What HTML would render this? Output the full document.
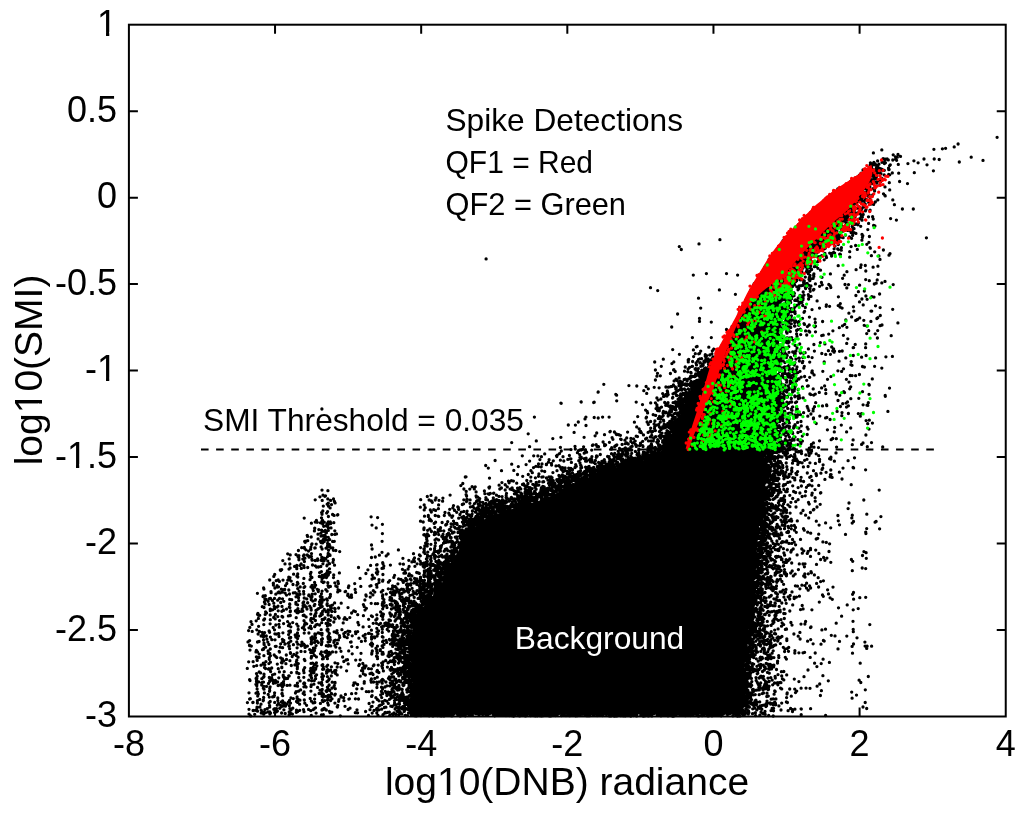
<!DOCTYPE html>
<html><head><meta charset="utf-8"><style>html,body{margin:0;padding:0;background:#fff}svg{display:block}.g{filter:grayscale(1)}</style></head>
<body><svg width="1024" height="813" viewBox="0 0 1024 813">
<rect width="1024" height="813" fill="#fff"/>
<path d="M201 449.5H934" stroke="#000" stroke-width="2" stroke-dasharray="7.6 7.51" fill="none"/>
<path fill="#000" d="M412.5,714.5L741.7,714.5L742.5,699.8L745.5,649.7L750.5,599.6L756.5,549.6L761.5,499.7L764.7,446.5L772.7,446.5L774.5,409.8L776.5,380.1L774.5,360.3L773.5,339.8L776.6,319.2L782.7,298.8L788.8,283.5L797.1,268.0L812.4,249.7L842.3,217.7L853.2,203.9L863.0,190.1L871.0,176.2L875.3,169.1L873.9,168.1L871.1,169.8L864.1,175.8L849.9,184.9L835.1,194.8L830.2,198.7L818.4,208.6L797.5,229.4L787.6,240.3L777.8,252.1L770.0,263.9L761.0,278.8L751.7,293.7L743.1,312.5L734.1,329.7L724.2,346.3L720.6,349.3L709.0,366.9L703.0,376.9L694.9,388.9L686.1,402.7L677.2,422.4L666.9,445.0L649.5,462.4L628.6,463.5L609.1,469.3L593.4,475.2L576.6,484.1L559.5,492.2L541.2,500.3L523.1,505.3L506.0,511.3L491.4,515.2L478.3,523.7L468.8,534.1L461.0,546.7L453.1,561.6L439.9,586.9L425.6,604.4L412.5,617.4Z"/>
<path fill="none" stroke="#000" stroke-width="3.3" stroke-linecap="round" d="M881.8 149.9h.01M873.4 152.9h.01M895.6 157.0h.01M897.3 157.2h.01M883.1 158.6h.01M885.1 159.7h.01M885.4 159.1h.01M888.3 159.9h.01M877.6 160.9h.01M896.6 160.3h.01M870.4 162.8h.01M873.9 162.5h.01M882.0 162.3h.01M884.3 162.5h.01M885.1 162.4h.01M885.4 162.8h.01M871.7 163.7h.01M872.3 163.8h.01M875.2 163.8h.01M872.7 164.3h.01M873.5 164.2h.01M874.3 164.8h.01M878.9 164.2h.01M870.1 165.2h.01M872.0 165.0h.01M876.2 165.1h.01M889.6 165.6h.01M877.9 167.0h.01M869.5 167.1h.01M869.5 167.1h.01M870.6 167.9h.01M871.6 167.0h.01M876.5 167.5h.01M877.6 167.5h.01M878.4 167.8h.01M871.7 168.4h.01M880.5 168.6h.01M888.5 168.1h.01M863.0 170.0h.01M864.2 169.8h.01M868.1 169.7h.01M868.1 169.1h.01M871.9 169.8h.01M876.8 169.1h.01M876.3 169.4h.01M877.2 169.5h.01M880.8 169.6h.01M882.2 169.3h.01M888.7 169.5h.01M889.1 169.5h.01M865.8 170.3h.01M869.8 170.1h.01M871.6 170.5h.01M873.0 170.1h.01M874.4 170.7h.01M874.9 170.6h.01M875.5 170.9h.01M877.9 170.2h.01M877.5 170.6h.01M882.9 170.5h.01M884.3 170.3h.01M864.3 171.3h.01M865.9 171.8h.01M869.5 171.8h.01M872.7 171.6h.01M875.3 171.1h.01M879.7 171.7h.01M868.3 172.9h.01M874.7 172.0h.01M875.2 172.2h.01M875.2 172.1h.01M876.1 173.0h.01M877.7 172.1h.01M878.1 172.9h.01M892.3 172.9h.01M861.2 173.2h.01M865.6 173.7h.01M866.4 173.1h.01M867.1 173.1h.01M867.6 173.6h.01M872.2 173.5h.01M872.4 173.6h.01M873.0 173.0h.01M874.9 173.8h.01M874.7 173.0h.01M875.7 173.1h.01M876.9 173.1h.01M880.9 173.7h.01M898.7 173.2h.01M863.4 174.2h.01M865.5 174.4h.01M866.4 174.0h.01M866.2 174.2h.01M867.6 174.4h.01M868.5 174.3h.01M871.7 174.8h.01M876.2 175.0h.01M884.2 174.9h.01M888.7 174.4h.01M889.7 174.8h.01M859.4 175.1h.01M861.6 175.1h.01M863.0 175.2h.01M863.2 175.3h.01M866.1 175.8h.01M866.7 175.1h.01M867.0 175.1h.01M868.5 175.8h.01M872.2 175.0h.01M872.7 175.1h.01M873.6 175.6h.01M875.3 175.9h.01M875.3 175.6h.01M876.3 175.4h.01M876.6 175.8h.01M876.3 175.1h.01M857.5 176.9h.01M860.2 176.6h.01M862.3 177.0h.01M864.2 176.4h.01M867.5 176.6h.01M872.8 176.2h.01M873.9 176.7h.01M875.2 176.9h.01M875.1 176.7h.01M876.8 176.0h.01M856.0 177.6h.01M856.8 177.6h.01M858.4 178.0h.01M861.1 177.0h.01M864.7 177.6h.01M868.1 177.9h.01M869.4 177.9h.01M869.8 177.2h.01M876.2 178.0h.01M856.2 178.9h.01M857.5 178.3h.01M862.3 178.2h.01M865.7 178.3h.01M868.4 178.4h.01M873.7 178.9h.01M875.3 178.3h.01M875.9 178.7h.01M881.5 178.2h.01M853.6 179.5h.01M853.4 179.4h.01M856.3 179.6h.01M861.5 180.0h.01M862.8 179.4h.01M870.8 179.6h.01M871.8 179.8h.01M882.3 179.3h.01M851.5 180.9h.01M856.9 180.3h.01M856.7 180.5h.01M856.4 180.1h.01M857.0 180.5h.01M858.4 180.8h.01M866.1 180.4h.01M868.6 180.8h.01M850.3 181.6h.01M853.3 181.4h.01M860.4 181.3h.01M862.8 181.4h.01M863.4 181.9h.01M864.9 181.6h.01M865.9 181.4h.01M869.3 181.6h.01M871.2 181.3h.01M872.9 181.1h.01M874.6 181.8h.01M850.2 182.7h.01M852.5 182.5h.01M853.2 182.9h.01M856.2 182.3h.01M858.3 182.3h.01M860.9 183.0h.01M866.5 182.7h.01M868.9 182.1h.01M875.9 182.7h.01M876.9 182.0h.01M889.3 182.7h.01M858.5 183.0h.01M859.5 183.1h.01M864.8 183.7h.01M866.2 183.2h.01M868.5 183.7h.01M870.3 184.0h.01M872.0 183.6h.01M876.8 183.2h.01M852.6 184.9h.01M854.6 184.8h.01M857.2 184.5h.01M865.5 184.6h.01M866.7 184.3h.01M867.2 184.8h.01M879.9 185.0h.01M847.8 185.2h.01M848.7 185.0h.01M850.8 185.2h.01M851.4 185.6h.01M856.6 185.6h.01M867.5 186.0h.01M867.4 185.9h.01M867.3 185.9h.01M868.9 185.9h.01M868.4 185.6h.01M845.4 186.8h.01M847.5 186.2h.01M848.0 186.0h.01M847.6 186.4h.01M850.9 186.3h.01M863.2 186.4h.01M865.8 186.6h.01M865.1 186.2h.01M868.8 186.4h.01M868.6 186.5h.01M875.2 186.5h.01M885.0 186.9h.01M842.1 187.4h.01M843.9 187.6h.01M844.0 187.1h.01M861.8 187.9h.01M869.9 187.1h.01M841.2 188.2h.01M844.9 188.2h.01M847.9 188.9h.01M850.0 188.1h.01M861.0 188.9h.01M862.8 188.6h.01M862.7 188.3h.01M865.1 188.7h.01M866.8 188.4h.01M873.1 188.6h.01M837.8 189.0h.01M838.5 189.3h.01M861.4 189.7h.01M862.7 189.3h.01M863.0 189.4h.01M866.7 189.2h.01M867.6 189.3h.01M874.5 189.2h.01M889.7 189.9h.01M843.6 191.0h.01M860.9 190.8h.01M861.9 190.7h.01M867.1 190.8h.01M837.2 191.8h.01M841.4 191.1h.01M843.5 191.8h.01M845.7 191.1h.01M845.3 191.0h.01M861.1 191.1h.01M862.1 191.3h.01M874.6 191.1h.01M837.2 192.5h.01M841.7 192.7h.01M858.9 192.0h.01M859.2 192.6h.01M861.4 192.9h.01M864.6 192.7h.01M866.3 192.4h.01M868.3 192.5h.01M837.7 193.5h.01M857.2 193.3h.01M860.0 193.6h.01M863.1 193.6h.01M865.0 193.8h.01M866.5 193.8h.01M883.5 193.8h.01M830.1 195.0h.01M835.4 194.6h.01M838.6 194.1h.01M841.9 194.5h.01M859.7 194.9h.01M865.8 195.0h.01M866.8 194.9h.01M872.7 194.8h.01M838.4 195.3h.01M858.4 196.0h.01M861.1 195.5h.01M862.6 195.0h.01M864.8 195.1h.01M868.8 195.3h.01M884.9 195.4h.01M834.0 196.7h.01M835.8 197.0h.01M836.1 196.4h.01M838.6 196.1h.01M839.6 196.8h.01M857.0 196.8h.01M868.4 196.3h.01M827.8 197.8h.01M831.2 197.6h.01M831.1 197.7h.01M832.3 197.6h.01M833.7 197.2h.01M838.6 197.8h.01M857.4 198.0h.01M864.5 197.5h.01M870.0 197.3h.01M826.9 198.2h.01M828.0 198.3h.01M828.8 198.4h.01M832.9 198.6h.01M836.5 198.4h.01M836.4 198.1h.01M856.9 198.1h.01M856.1 198.8h.01M858.0 198.7h.01M859.2 198.1h.01M859.4 198.2h.01M861.0 199.0h.01M861.7 198.9h.01M825.6 199.0h.01M827.5 200.0h.01M827.7 199.1h.01M833.7 199.5h.01M834.5 199.9h.01M852.5 199.5h.01M852.7 199.4h.01M857.4 199.4h.01M858.7 199.8h.01M866.1 199.1h.01M870.6 199.9h.01M877.8 199.9h.01M831.1 200.6h.01M852.9 200.3h.01M853.2 200.3h.01M853.5 200.7h.01M854.9 200.6h.01M857.7 200.3h.01M858.8 200.7h.01M860.9 200.1h.01M861.8 201.0h.01M861.9 200.6h.01M864.2 200.8h.01M823.8 201.9h.01M827.0 201.3h.01M828.2 201.2h.01M853.9 201.8h.01M857.3 201.7h.01M861.4 201.4h.01M864.1 201.3h.01M875.3 202.0h.01M830.6 202.7h.01M830.3 202.4h.01M851.9 202.2h.01M853.2 202.0h.01M868.7 202.4h.01M869.7 202.9h.01M824.4 203.7h.01M824.9 203.1h.01M825.8 203.1h.01M829.6 203.7h.01M831.7 203.9h.01M851.0 203.6h.01M852.9 203.6h.01M854.0 203.3h.01M825.8 204.3h.01M825.7 204.2h.01M827.2 204.9h.01M851.7 204.5h.01M852.0 204.8h.01M856.4 204.0h.01M870.7 204.2h.01M873.6 204.4h.01M818.7 205.6h.01M820.5 205.1h.01M822.4 205.6h.01M824.9 205.7h.01M827.7 206.0h.01M849.3 205.7h.01M852.1 205.8h.01M852.7 205.7h.01M853.2 205.1h.01M863.7 205.4h.01M864.1 205.9h.01M819.5 207.0h.01M827.8 206.4h.01M852.6 206.1h.01M853.8 206.7h.01M859.2 206.8h.01M864.5 206.7h.01M864.3 206.6h.01M816.0 208.0h.01M815.5 207.7h.01M823.6 207.1h.01M848.9 207.0h.01M849.1 207.3h.01M851.0 207.4h.01M850.9 207.5h.01M854.6 207.5h.01M855.2 208.0h.01M817.8 208.5h.01M821.2 208.8h.01M822.7 208.9h.01M823.9 208.2h.01M846.6 209.0h.01M849.2 208.3h.01M855.2 208.8h.01M861.2 209.0h.01M814.9 209.7h.01M818.2 209.5h.01M819.6 209.4h.01M819.4 209.2h.01M819.8 209.1h.01M824.5 209.6h.01M846.6 209.6h.01M847.8 209.5h.01M847.0 209.6h.01M848.0 209.6h.01M848.4 209.9h.01M852.4 209.6h.01M853.9 209.9h.01M854.1 209.4h.01M854.6 209.9h.01M861.4 209.6h.01M866.0 209.5h.01M812.6 210.6h.01M846.3 210.9h.01M847.3 210.9h.01M849.1 210.4h.01M851.7 211.0h.01M859.8 211.0h.01M865.4 210.9h.01M870.1 210.1h.01M816.3 211.2h.01M816.1 211.2h.01M820.2 211.5h.01M845.8 211.3h.01M846.3 211.7h.01M849.2 211.9h.01M849.9 211.9h.01M852.0 211.9h.01M869.8 211.1h.01M810.7 212.4h.01M811.4 212.7h.01M848.0 212.3h.01M849.7 212.0h.01M851.0 212.4h.01M855.1 212.8h.01M857.5 213.0h.01M812.1 213.3h.01M842.9 213.0h.01M843.8 213.9h.01M843.8 213.7h.01M844.7 213.2h.01M848.2 213.6h.01M849.2 213.4h.01M850.6 213.0h.01M852.6 213.1h.01M860.0 213.8h.01M811.3 214.8h.01M816.0 214.4h.01M818.8 214.9h.01M842.9 214.3h.01M844.9 214.1h.01M848.4 214.1h.01M849.2 214.2h.01M861.4 215.0h.01M863.2 214.5h.01M807.7 215.6h.01M811.8 215.3h.01M814.4 215.7h.01M816.2 215.7h.01M841.2 215.7h.01M842.7 215.0h.01M843.5 215.1h.01M844.5 215.6h.01M845.2 215.2h.01M847.3 215.1h.01M849.1 215.6h.01M851.9 215.8h.01M853.6 215.3h.01M806.2 216.3h.01M815.7 216.2h.01M815.3 216.7h.01M816.1 216.2h.01M840.8 216.4h.01M844.1 216.1h.01M845.9 216.9h.01M855.1 216.8h.01M861.2 216.9h.01M868.5 216.8h.01M872.6 216.7h.01M839.4 217.8h.01M840.8 217.8h.01M840.9 217.5h.01M842.0 217.1h.01M862.4 217.0h.01M808.2 218.3h.01M812.6 218.6h.01M841.0 218.3h.01M843.5 218.3h.01M844.1 218.0h.01M845.6 218.3h.01M846.6 218.9h.01M847.7 218.3h.01M851.2 218.2h.01M859.7 218.7h.01M873.2 219.0h.01M803.9 219.1h.01M804.9 219.4h.01M808.4 219.7h.01M810.0 219.7h.01M814.0 219.8h.01M840.3 219.4h.01M841.6 219.1h.01M841.8 219.8h.01M842.8 219.6h.01M847.7 220.0h.01M803.4 220.5h.01M803.2 220.2h.01M805.5 220.9h.01M806.6 220.5h.01M808.4 221.0h.01M809.6 220.1h.01M812.4 220.4h.01M837.8 220.5h.01M840.0 220.1h.01M839.4 220.9h.01M839.4 220.9h.01M840.6 220.6h.01M842.3 220.8h.01M844.7 220.4h.01M845.2 220.9h.01M851.5 220.5h.01M862.0 220.2h.01M804.7 221.8h.01M836.6 221.2h.01M838.3 221.6h.01M844.8 221.3h.01M801.2 222.5h.01M805.6 222.4h.01M833.9 222.2h.01M835.0 222.4h.01M836.2 222.3h.01M839.1 222.1h.01M839.8 222.6h.01M841.7 222.5h.01M858.4 222.9h.01M805.9 223.6h.01M834.8 223.1h.01M836.9 223.9h.01M837.0 223.1h.01M839.5 223.4h.01M846.4 223.2h.01M846.2 223.4h.01M851.2 223.0h.01M856.0 224.0h.01M868.6 223.4h.01M798.6 224.4h.01M800.6 224.4h.01M802.5 224.8h.01M802.8 224.9h.01M803.1 224.1h.01M832.5 224.4h.01M832.4 224.2h.01M833.1 224.2h.01M834.4 224.9h.01M841.3 224.6h.01M854.7 224.5h.01M857.9 224.8h.01M800.3 225.8h.01M805.6 225.7h.01M833.0 225.9h.01M835.0 225.6h.01M836.3 225.3h.01M836.8 225.1h.01M836.1 225.5h.01M838.1 225.6h.01M840.1 225.6h.01M846.1 225.3h.01M873.6 225.4h.01M805.3 226.7h.01M806.2 226.0h.01M833.5 226.6h.01M833.7 226.7h.01M836.9 226.1h.01M838.9 226.5h.01M840.5 226.6h.01M842.7 226.9h.01M844.6 226.4h.01M848.2 226.7h.01M852.2 226.5h.01M874.9 226.0h.01M796.1 227.5h.01M802.8 227.3h.01M805.2 227.2h.01M829.7 227.7h.01M834.7 227.2h.01M848.4 227.7h.01M803.2 228.9h.01M828.6 228.7h.01M831.0 228.5h.01M832.4 228.1h.01M832.2 228.4h.01M835.0 228.6h.01M841.2 228.8h.01M853.9 228.3h.01M854.0 228.7h.01M798.0 229.6h.01M799.9 229.2h.01M829.0 229.4h.01M831.5 229.6h.01M834.3 229.0h.01M835.0 229.8h.01M852.5 229.7h.01M867.8 229.6h.01M792.3 231.0h.01M796.1 231.0h.01M799.6 230.4h.01M802.4 230.9h.01M802.0 231.0h.01M827.2 230.7h.01M828.0 230.3h.01M828.5 230.3h.01M828.4 230.7h.01M829.0 230.8h.01M830.8 230.6h.01M830.4 230.0h.01M836.2 230.1h.01M836.8 230.6h.01M847.4 230.3h.01M849.3 230.7h.01M794.2 231.8h.01M795.2 231.4h.01M800.6 231.3h.01M801.6 231.6h.01M827.5 231.0h.01M829.4 232.0h.01M830.2 231.4h.01M830.1 231.9h.01M836.9 231.5h.01M840.7 232.0h.01M842.4 231.4h.01M790.4 232.5h.01M826.8 232.8h.01M829.6 232.0h.01M830.1 232.3h.01M831.8 232.6h.01M832.2 232.3h.01M833.3 232.9h.01M834.9 232.5h.01M851.2 232.7h.01M854.0 232.7h.01M791.4 233.9h.01M799.3 233.8h.01M799.2 233.4h.01M799.4 233.7h.01M823.9 233.9h.01M824.2 233.5h.01M825.7 233.4h.01M826.2 233.0h.01M827.9 233.8h.01M828.0 233.5h.01M830.5 233.5h.01M831.9 233.3h.01M832.0 233.7h.01M835.3 233.7h.01M836.3 233.1h.01M855.9 233.4h.01M823.2 234.4h.01M823.8 234.7h.01M828.9 234.7h.01M831.4 234.0h.01M833.7 234.5h.01M838.6 234.7h.01M839.4 234.7h.01M839.5 234.5h.01M862.0 234.4h.01M788.8 235.4h.01M790.3 235.8h.01M793.8 235.9h.01M797.3 235.2h.01M821.7 235.6h.01M821.2 235.2h.01M822.5 235.4h.01M826.8 235.0h.01M831.5 235.1h.01M836.9 235.9h.01M845.6 235.1h.01M852.6 235.4h.01M862.8 235.7h.01M793.1 236.1h.01M793.4 236.1h.01M795.9 236.5h.01M824.6 236.5h.01M827.2 236.5h.01M829.3 236.1h.01M830.0 236.5h.01M849.4 236.9h.01M869.4 236.5h.01M789.6 237.6h.01M790.7 237.4h.01M791.2 237.3h.01M819.7 237.7h.01M819.9 237.4h.01M821.1 237.7h.01M826.9 237.4h.01M828.6 237.8h.01M832.2 237.9h.01M835.4 237.2h.01M836.3 237.1h.01M837.2 237.5h.01M839.3 237.4h.01M841.3 237.1h.01M843.1 237.7h.01M862.4 237.4h.01M787.8 238.1h.01M790.5 238.3h.01M819.0 238.5h.01M825.8 238.4h.01M784.4 239.0h.01M789.3 239.6h.01M790.4 240.0h.01M791.2 239.7h.01M792.5 239.4h.01M793.5 239.2h.01M793.9 239.9h.01M822.3 239.3h.01M822.2 239.9h.01M825.1 239.9h.01M826.6 239.4h.01M829.8 239.8h.01M830.3 239.1h.01M838.8 239.8h.01M783.1 240.7h.01M784.4 241.0h.01M789.6 240.5h.01M792.9 240.9h.01M817.2 240.5h.01M820.1 240.9h.01M821.8 240.7h.01M823.3 240.5h.01M825.4 240.8h.01M826.0 240.8h.01M827.3 241.0h.01M835.8 240.0h.01M861.9 240.2h.01M782.8 241.4h.01M783.5 241.3h.01M784.3 241.5h.01M785.7 241.9h.01M791.9 241.4h.01M816.7 241.1h.01M817.4 241.9h.01M818.8 241.6h.01M824.6 241.2h.01M824.7 241.0h.01M824.0 241.6h.01M825.4 241.7h.01M826.7 241.3h.01M827.0 241.0h.01M827.3 241.2h.01M829.5 241.5h.01M837.7 241.1h.01M789.0 242.5h.01M788.5 242.2h.01M788.4 242.4h.01M815.5 242.5h.01M817.7 242.9h.01M818.8 242.3h.01M820.5 242.9h.01M820.8 242.8h.01M826.7 242.3h.01M788.7 243.8h.01M819.8 243.6h.01M820.0 243.3h.01M820.2 243.9h.01M821.1 243.9h.01M821.7 243.5h.01M823.9 243.1h.01M824.0 243.0h.01M825.0 243.6h.01M827.1 243.8h.01M833.5 243.5h.01M782.0 244.6h.01M789.9 244.7h.01M817.8 244.5h.01M818.4 244.9h.01M819.0 244.2h.01M820.4 244.2h.01M823.0 244.4h.01M827.0 244.0h.01M838.3 244.5h.01M866.8 244.3h.01M779.8 245.8h.01M785.1 245.8h.01M788.0 245.0h.01M788.1 245.3h.01M814.8 245.2h.01M815.1 245.8h.01M817.2 245.1h.01M818.7 246.0h.01M819.7 245.0h.01M820.6 245.9h.01M827.6 245.1h.01M780.5 246.7h.01M781.2 246.8h.01M782.5 246.8h.01M786.0 246.4h.01M787.0 246.5h.01M811.2 246.7h.01M811.1 246.3h.01M813.1 246.3h.01M815.4 246.7h.01M816.6 246.9h.01M835.0 246.1h.01M851.1 246.6h.01M783.3 247.1h.01M783.4 247.1h.01M819.5 247.9h.01M841.4 247.7h.01M782.8 248.5h.01M813.6 248.3h.01M813.9 248.8h.01M819.2 248.9h.01M823.9 248.9h.01M824.3 248.8h.01M825.2 248.3h.01M834.1 248.8h.01M837.7 248.9h.01M870.3 248.2h.01M778.5 249.7h.01M779.0 249.9h.01M810.6 249.2h.01M812.5 250.0h.01M812.9 249.1h.01M812.5 249.8h.01M813.7 249.1h.01M814.3 249.1h.01M816.3 249.5h.01M816.5 249.2h.01M838.4 249.6h.01M857.3 249.4h.01M777.3 250.7h.01M778.1 251.0h.01M778.2 250.8h.01M782.3 251.0h.01M783.7 250.3h.01M808.2 250.7h.01M811.8 251.0h.01M813.8 250.8h.01M813.2 251.0h.01M816.0 250.5h.01M841.3 250.2h.01M883.4 250.0h.01M775.2 251.9h.01M777.6 251.4h.01M780.0 251.9h.01M780.5 251.6h.01M781.3 251.6h.01M782.4 251.7h.01M811.4 251.1h.01M812.6 251.9h.01M816.2 251.0h.01M849.7 251.7h.01M874.7 251.8h.01M777.9 253.0h.01M781.6 252.0h.01M806.3 252.3h.01M806.3 253.0h.01M807.4 252.1h.01M809.5 252.0h.01M813.2 252.8h.01M814.3 252.1h.01M815.5 252.8h.01M815.5 252.4h.01M817.0 252.7h.01M833.6 252.5h.01M775.6 253.9h.01M775.9 253.7h.01M777.6 253.5h.01M780.7 253.3h.01M781.7 253.6h.01M806.9 253.3h.01M807.2 253.9h.01M809.5 253.4h.01M824.9 253.3h.01M829.7 253.1h.01M831.9 253.5h.01M834.6 253.1h.01M890.0 253.6h.01M776.7 254.9h.01M777.1 254.3h.01M781.8 254.3h.01M804.6 254.6h.01M806.2 255.0h.01M806.3 254.1h.01M807.4 254.9h.01M810.3 254.5h.01M811.8 254.6h.01M831.1 254.1h.01M839.7 254.2h.01M840.4 254.5h.01M772.7 255.9h.01M773.2 255.3h.01M805.3 255.9h.01M805.3 255.4h.01M808.0 255.7h.01M811.8 255.4h.01M815.6 255.3h.01M821.7 255.7h.01M871.4 255.7h.01M878.9 255.9h.01M889.0 255.2h.01M775.5 256.9h.01M776.9 256.0h.01M779.2 256.4h.01M805.6 256.6h.01M806.2 256.0h.01M819.1 256.6h.01M826.0 256.0h.01M831.6 256.0h.01M772.4 257.2h.01M773.4 257.5h.01M776.4 257.1h.01M803.2 257.9h.01M810.8 257.9h.01M817.8 257.0h.01M826.5 257.5h.01M849.7 257.2h.01M770.3 258.5h.01M773.9 258.4h.01M774.0 258.1h.01M775.4 258.8h.01M801.0 258.9h.01M803.9 258.1h.01M804.2 258.4h.01M804.8 258.9h.01M819.7 258.2h.01M769.4 259.1h.01M769.1 259.4h.01M771.4 259.3h.01M773.4 259.6h.01M775.7 259.9h.01M777.5 259.8h.01M801.4 259.4h.01M801.8 259.3h.01M803.4 259.0h.01M808.0 259.2h.01M809.1 259.5h.01M819.4 259.8h.01M824.2 259.8h.01M880.0 259.4h.01M768.7 261.0h.01M769.3 260.0h.01M771.1 260.3h.01M800.3 260.8h.01M805.0 260.2h.01M805.1 260.7h.01M810.5 260.5h.01M771.8 261.7h.01M798.4 261.6h.01M798.7 261.3h.01M806.1 261.7h.01M807.0 261.3h.01M810.5 261.7h.01M810.0 261.4h.01M814.4 262.0h.01M817.7 261.7h.01M774.8 262.4h.01M797.1 262.1h.01M798.0 262.5h.01M798.9 262.8h.01M798.9 262.8h.01M799.6 262.2h.01M800.2 262.4h.01M801.3 263.0h.01M806.3 262.9h.01M807.1 262.2h.01M810.8 262.4h.01M814.8 262.1h.01M774.4 263.5h.01M798.2 263.7h.01M799.8 263.2h.01M803.2 263.0h.01M803.9 263.6h.01M770.4 264.2h.01M771.6 264.9h.01M774.7 264.6h.01M796.5 264.9h.01M801.1 264.5h.01M802.7 264.5h.01M803.2 264.8h.01M861.1 264.9h.01M765.8 265.9h.01M768.8 265.7h.01M771.0 265.9h.01M800.3 265.2h.01M801.9 265.4h.01M802.7 265.7h.01M804.5 265.6h.01M804.4 265.1h.01M807.3 265.9h.01M810.7 265.7h.01M838.2 265.7h.01M865.3 265.5h.01M765.2 266.6h.01M770.1 266.1h.01M794.5 266.4h.01M796.3 266.5h.01M802.4 266.0h.01M806.0 266.9h.01M810.1 266.6h.01M814.4 266.7h.01M816.3 266.3h.01M877.9 266.2h.01M764.8 267.2h.01M767.9 267.0h.01M768.3 267.1h.01M769.2 267.5h.01M770.9 267.7h.01M794.7 267.9h.01M795.2 267.1h.01M796.1 268.0h.01M797.2 267.3h.01M799.1 267.6h.01M799.1 267.1h.01M799.2 267.5h.01M802.3 267.2h.01M809.1 267.1h.01M810.2 267.8h.01M860.6 267.4h.01M873.1 267.2h.01M767.2 268.8h.01M767.2 268.6h.01M794.1 268.1h.01M796.0 268.1h.01M797.5 268.9h.01M798.2 268.7h.01M798.4 269.0h.01M802.8 268.2h.01M807.2 269.0h.01M811.1 268.7h.01M817.9 268.3h.01M769.2 269.8h.01M771.6 269.8h.01M795.9 269.1h.01M811.6 269.5h.01M856.1 269.7h.01M763.6 270.8h.01M764.0 270.5h.01M766.3 270.1h.01M766.7 271.0h.01M767.7 270.1h.01M767.9 270.5h.01M769.1 270.4h.01M793.3 270.4h.01M794.4 270.3h.01M795.0 270.8h.01M801.8 271.0h.01M806.8 270.7h.01M807.1 271.0h.01M820.5 270.2h.01M764.7 271.3h.01M768.5 271.9h.01M793.9 271.8h.01M795.5 271.8h.01M797.0 271.5h.01M799.5 271.9h.01M800.9 271.3h.01M801.8 272.0h.01M806.9 271.0h.01M806.4 271.8h.01M809.7 271.4h.01M846.9 271.7h.01M865.8 271.0h.01M761.9 272.2h.01M763.0 272.3h.01M763.3 272.6h.01M791.8 272.0h.01M791.9 273.8h.01M793.8 273.6h.01M797.2 273.7h.01M800.5 273.5h.01M800.7 274.0h.01M808.3 273.7h.01M813.9 273.9h.01M830.4 273.9h.01M761.5 274.3h.01M766.1 274.6h.01M794.9 274.8h.01M813.6 275.0h.01M878.2 274.4h.01M761.0 275.1h.01M761.4 275.1h.01M762.5 275.3h.01M763.6 275.7h.01M765.0 275.3h.01M767.1 275.9h.01M799.2 275.7h.01M810.0 275.5h.01M844.2 275.2h.01M760.1 276.5h.01M761.1 276.9h.01M789.2 276.3h.01M790.5 276.4h.01M791.5 276.7h.01M792.4 276.9h.01M793.1 276.3h.01M800.6 276.2h.01M813.8 276.4h.01M758.4 277.0h.01M761.2 277.1h.01M766.0 277.7h.01M766.7 277.7h.01M792.0 277.4h.01M793.6 278.0h.01M795.6 277.2h.01M798.1 277.3h.01M805.3 277.1h.01M809.3 277.4h.01M822.0 277.3h.01M759.2 278.7h.01M764.1 278.0h.01M765.4 278.7h.01M788.3 278.2h.01M790.9 278.0h.01M792.8 278.5h.01M793.9 278.7h.01M809.5 278.5h.01M811.0 278.8h.01M813.1 278.4h.01M842.6 278.3h.01M758.0 279.2h.01M758.7 279.3h.01M758.0 279.4h.01M789.0 279.3h.01M791.6 279.5h.01M794.4 279.6h.01M794.5 279.1h.01M795.0 279.6h.01M795.6 279.5h.01M800.1 279.8h.01M800.8 279.8h.01M809.0 279.3h.01M865.7 279.6h.01M877.2 279.9h.01M758.0 280.1h.01M787.8 280.2h.01M792.0 280.9h.01M793.0 280.6h.01M796.7 280.2h.01M796.6 280.8h.01M803.0 280.2h.01M804.3 280.9h.01M809.8 280.7h.01M869.3 280.7h.01M788.8 281.8h.01M793.9 281.3h.01M795.6 281.8h.01M885.0 281.4h.01M758.8 282.3h.01M760.0 282.5h.01M760.5 282.2h.01M760.9 282.2h.01M787.9 282.8h.01M790.9 282.4h.01M791.5 282.7h.01M793.6 282.7h.01M803.6 282.7h.01M821.4 282.4h.01M881.8 282.9h.01M754.2 283.7h.01M755.4 283.0h.01M756.8 283.9h.01M758.4 283.4h.01M759.1 283.6h.01M759.8 283.8h.01M761.0 283.9h.01M761.5 283.1h.01M788.3 283.5h.01M790.8 283.6h.01M790.1 283.2h.01M793.9 283.2h.01M793.8 283.2h.01M793.1 283.6h.01M805.8 283.9h.01M807.2 283.4h.01M815.4 283.9h.01M874.3 284.0h.01M876.2 283.2h.01M756.9 284.1h.01M761.4 284.8h.01M792.6 284.4h.01M794.5 284.8h.01M822.2 284.8h.01M828.8 284.5h.01M845.0 284.5h.01M848.5 284.6h.01M893.2 284.6h.01M753.4 285.2h.01M754.9 286.0h.01M757.2 285.8h.01M760.7 285.5h.01M785.9 285.0h.01M787.6 285.3h.01M787.3 285.5h.01M801.2 285.7h.01M802.9 285.3h.01M808.6 285.2h.01M810.9 285.9h.01M830.2 285.7h.01M859.6 285.2h.01M756.3 286.9h.01M759.1 286.7h.01M786.0 286.1h.01M786.2 286.3h.01M788.8 286.3h.01M790.7 287.0h.01M792.5 286.5h.01M796.8 286.8h.01M799.2 286.0h.01M806.5 286.8h.01M819.6 286.3h.01M755.8 287.6h.01M757.8 287.0h.01M760.8 287.6h.01M786.0 287.5h.01M785.0 287.4h.01M786.6 287.9h.01M786.3 287.7h.01M788.1 287.9h.01M788.0 287.8h.01M790.6 287.7h.01M805.4 287.7h.01M830.8 287.5h.01M846.8 287.9h.01M754.3 288.3h.01M798.8 288.5h.01M805.6 288.5h.01M809.6 288.6h.01M810.0 288.6h.01M826.8 288.4h.01M753.7 289.8h.01M755.1 289.7h.01M758.8 289.4h.01M787.8 289.3h.01M788.2 289.8h.01M798.0 289.8h.01M813.9 289.3h.01M813.3 290.0h.01M750.8 290.0h.01M753.7 290.6h.01M784.2 290.0h.01M789.9 290.5h.01M790.9 290.1h.01M751.5 291.3h.01M755.8 291.2h.01M756.1 291.1h.01M758.8 291.4h.01M783.4 291.5h.01M789.1 291.8h.01M791.0 291.1h.01M803.2 292.0h.01M810.2 291.3h.01M858.4 291.7h.01M864.3 291.1h.01M749.6 293.0h.01M751.5 292.6h.01M785.4 292.5h.01M786.9 292.4h.01M793.8 292.7h.01M750.2 293.3h.01M783.9 293.4h.01M789.5 293.7h.01M791.4 293.5h.01M791.2 293.7h.01M791.6 293.3h.01M794.4 293.3h.01M879.6 294.0h.01M749.1 294.4h.01M753.7 294.1h.01M783.2 294.1h.01M783.8 294.3h.01M788.2 294.4h.01M793.5 294.9h.01M808.3 294.6h.01M752.8 295.7h.01M784.2 295.3h.01M785.8 295.3h.01M786.0 295.1h.01M794.0 295.7h.01M800.1 295.4h.01M803.7 295.3h.01M804.0 295.1h.01M855.9 295.5h.01M749.6 296.5h.01M782.4 296.0h.01M785.9 296.4h.01M786.0 296.8h.01M792.4 296.3h.01M801.9 296.2h.01M802.4 296.6h.01M808.8 296.2h.01M811.0 296.4h.01M838.4 296.8h.01M865.9 296.0h.01M871.8 296.7h.01M750.4 297.5h.01M750.6 297.8h.01M783.0 297.6h.01M784.5 298.0h.01M786.5 297.2h.01M787.5 297.1h.01M789.6 297.1h.01M798.2 297.9h.01M801.8 297.4h.01M874.0 297.1h.01M746.7 298.6h.01M750.9 298.6h.01M781.8 298.3h.01M783.1 298.8h.01M786.8 298.1h.01M791.5 298.7h.01M803.1 298.2h.01M746.1 299.9h.01M748.4 299.9h.01M750.8 299.1h.01M782.2 299.5h.01M783.4 299.3h.01M784.9 299.2h.01M784.0 299.7h.01M785.9 299.5h.01M786.8 300.0h.01M786.1 299.4h.01M795.5 300.0h.01M803.0 299.8h.01M808.6 299.0h.01M861.9 299.0h.01M867.1 299.3h.01M745.8 300.1h.01M780.7 300.9h.01M781.4 300.4h.01M786.2 300.5h.01M788.6 300.6h.01M790.3 300.1h.01M794.8 300.4h.01M797.2 300.4h.01M817.1 300.9h.01M750.3 302.0h.01M779.0 301.7h.01M786.7 301.7h.01M786.4 302.0h.01M788.9 301.2h.01M788.7 301.3h.01M859.5 301.9h.01M747.5 302.3h.01M749.2 302.4h.01M750.3 302.6h.01M790.6 302.5h.01M799.0 302.1h.01M800.4 302.6h.01M802.0 302.3h.01M747.0 303.6h.01M747.7 303.2h.01M748.7 303.0h.01M750.9 303.5h.01M787.7 303.2h.01M840.3 303.6h.01M749.0 304.7h.01M751.8 304.9h.01M781.8 304.7h.01M781.7 304.9h.01M782.3 304.8h.01M782.1 304.9h.01M782.1 304.7h.01M782.6 304.4h.01M784.5 304.2h.01M785.8 304.8h.01M798.9 304.2h.01M826.4 304.8h.01M863.2 304.9h.01M744.4 305.7h.01M779.1 305.2h.01M782.8 305.2h.01M782.5 305.4h.01M782.9 305.9h.01M784.9 305.6h.01M784.5 305.3h.01M788.5 305.5h.01M796.7 305.3h.01M802.7 305.5h.01M838.2 305.6h.01M875.5 305.8h.01M750.9 306.1h.01M750.8 306.1h.01M778.1 306.1h.01M779.9 306.0h.01M780.4 306.3h.01M783.4 306.4h.01M784.4 306.7h.01M785.4 306.3h.01M794.9 307.0h.01M826.2 306.3h.01M829.6 306.3h.01M853.4 306.8h.01M779.7 307.7h.01M780.3 307.7h.01M780.6 307.4h.01M781.4 307.7h.01M782.4 307.9h.01M784.9 307.3h.01M788.9 307.8h.01M805.3 307.5h.01M840.1 307.0h.01M880.1 307.6h.01M746.4 308.9h.01M747.6 308.7h.01M748.7 308.6h.01M779.1 308.1h.01M781.4 308.3h.01M784.2 308.4h.01M785.7 308.4h.01M787.1 308.4h.01M791.5 308.7h.01M819.5 308.1h.01M842.1 308.1h.01M741.9 309.7h.01M743.9 309.1h.01M743.8 309.5h.01M781.2 309.7h.01M781.7 309.6h.01M782.5 309.8h.01M784.7 309.9h.01M784.5 309.1h.01M791.7 310.0h.01M793.8 309.1h.01M812.0 309.6h.01M892.7 309.3h.01M746.1 310.5h.01M747.9 310.7h.01M778.0 310.6h.01M780.8 310.9h.01M782.6 310.6h.01M783.6 310.4h.01M783.3 310.4h.01M740.8 311.8h.01M742.7 311.0h.01M781.5 311.9h.01M784.7 311.5h.01M787.1 311.8h.01M788.7 311.4h.01M791.1 311.8h.01M793.5 311.2h.01M793.8 311.8h.01M795.0 311.7h.01M804.6 311.3h.01M853.8 311.1h.01M871.0 311.1h.01M871.7 311.1h.01M739.3 312.9h.01M741.4 312.2h.01M743.8 312.1h.01M745.4 312.6h.01M746.6 312.7h.01M747.2 312.8h.01M777.1 312.6h.01M777.3 312.7h.01M779.1 312.2h.01M781.4 312.2h.01M782.3 312.2h.01M804.0 312.3h.01M744.6 314.0h.01M776.7 313.9h.01M776.9 313.3h.01M779.3 313.0h.01M788.4 313.7h.01M795.1 313.5h.01M848.9 313.2h.01M740.5 314.2h.01M776.5 314.6h.01M778.1 314.0h.01M779.3 314.4h.01M779.0 314.9h.01M780.4 314.5h.01M781.3 314.3h.01M783.1 314.9h.01M785.2 314.0h.01M776.0 315.3h.01M775.4 315.6h.01M776.1 315.0h.01M776.9 315.8h.01M777.1 315.2h.01M779.1 315.0h.01M779.8 315.5h.01M782.5 315.3h.01M786.8 315.8h.01M787.1 315.7h.01M788.1 315.1h.01M791.4 315.8h.01M880.3 315.5h.01M744.9 316.7h.01M776.3 316.8h.01M779.7 316.0h.01M779.8 316.2h.01M780.8 316.0h.01M782.4 316.0h.01M851.6 316.9h.01M739.9 318.0h.01M777.8 317.8h.01M777.6 317.2h.01M780.8 317.2h.01M781.7 317.1h.01M785.2 318.0h.01M791.0 317.1h.01M809.4 317.1h.01M859.7 317.9h.01M877.8 317.7h.01M739.1 318.0h.01M740.0 318.3h.01M741.9 318.4h.01M778.2 318.8h.01M780.7 318.8h.01M785.4 318.3h.01M787.1 318.2h.01M787.8 319.0h.01M802.5 318.3h.01M876.9 318.5h.01M740.8 319.6h.01M741.6 319.1h.01M741.4 319.2h.01M743.7 319.5h.01M775.7 319.9h.01M778.8 319.4h.01M780.7 319.5h.01M789.8 319.9h.01M793.2 319.9h.01M815.0 319.1h.01M845.8 319.9h.01M857.4 319.5h.01M738.0 320.3h.01M741.2 320.4h.01M742.5 320.2h.01M774.6 320.7h.01M775.6 320.2h.01M775.5 320.7h.01M776.5 320.7h.01M785.7 320.9h.01M789.9 320.2h.01M791.6 320.3h.01M795.7 320.9h.01M855.7 320.4h.01M863.8 320.3h.01M737.8 321.2h.01M741.7 321.7h.01M774.5 321.4h.01M775.0 321.8h.01M776.6 321.7h.01M780.1 321.9h.01M788.6 321.4h.01M798.9 321.6h.01M798.8 321.6h.01M822.6 321.5h.01M870.9 321.4h.01M735.1 322.4h.01M736.3 322.2h.01M737.5 322.4h.01M775.7 322.6h.01M776.4 322.8h.01M776.3 322.9h.01M777.5 322.6h.01M779.2 322.1h.01M782.6 322.4h.01M786.7 322.8h.01M794.7 322.5h.01M798.0 322.6h.01M815.3 322.5h.01M897.9 322.9h.01M739.8 323.3h.01M741.9 323.9h.01M776.0 323.6h.01M776.8 323.6h.01M779.1 323.5h.01M789.1 323.0h.01M791.3 323.8h.01M804.0 323.6h.01M738.5 324.7h.01M739.9 324.1h.01M774.6 324.5h.01M782.9 324.7h.01M786.4 324.8h.01M798.9 324.1h.01M804.5 324.4h.01M809.2 325.0h.01M844.7 324.3h.01M882.0 325.0h.01M733.3 325.7h.01M738.2 325.8h.01M774.9 325.8h.01M774.7 325.6h.01M779.3 325.2h.01M786.6 325.7h.01M794.5 326.0h.01M798.7 325.3h.01M842.5 325.8h.01M864.2 325.3h.01M880.1 325.7h.01M732.1 326.4h.01M737.1 326.5h.01M738.3 326.5h.01M738.9 326.8h.01M775.6 326.8h.01M778.4 326.3h.01M778.5 326.3h.01M779.7 326.6h.01M779.3 326.1h.01M787.6 326.8h.01M788.7 326.8h.01M790.0 326.9h.01M794.9 326.0h.01M807.4 326.6h.01M814.8 326.8h.01M815.5 326.1h.01M866.9 326.1h.01M732.6 327.2h.01M733.1 327.7h.01M736.7 328.0h.01M778.7 327.4h.01M778.8 327.4h.01M778.5 327.8h.01M779.8 327.5h.01M781.9 328.0h.01M786.0 327.9h.01M790.8 327.5h.01M839.3 327.7h.01M846.9 327.3h.01M732.4 328.9h.01M733.1 328.8h.01M739.0 328.4h.01M774.4 328.9h.01M778.5 328.9h.01M732.1 329.1h.01M732.4 329.8h.01M737.5 329.7h.01M738.0 329.5h.01M775.4 329.2h.01M780.6 329.1h.01M782.0 329.4h.01M797.7 329.6h.01M800.3 329.1h.01M738.2 330.6h.01M776.0 330.7h.01M778.6 330.4h.01M779.8 330.1h.01M786.8 330.8h.01M788.5 330.1h.01M789.1 330.8h.01M796.6 330.5h.01M805.6 330.9h.01M832.9 330.8h.01M868.7 330.7h.01M877.7 330.6h.01M731.0 331.5h.01M774.8 331.9h.01M778.4 331.5h.01M778.0 331.9h.01M790.3 331.6h.01M808.9 331.2h.01M809.7 332.0h.01M815.5 331.8h.01M729.1 332.9h.01M729.3 332.2h.01M776.5 332.1h.01M777.7 332.8h.01M781.2 332.6h.01M786.5 332.0h.01M786.9 332.1h.01M730.0 333.4h.01M775.0 333.8h.01M775.6 333.9h.01M777.5 333.4h.01M787.0 333.2h.01M796.6 333.9h.01M866.7 333.6h.01M875.2 333.8h.01M729.0 334.4h.01M731.0 334.3h.01M731.1 334.7h.01M733.0 334.1h.01M733.0 334.2h.01M772.7 334.5h.01M778.0 334.2h.01M800.7 334.6h.01M806.7 335.0h.01M828.7 334.1h.01M728.9 335.5h.01M733.4 335.9h.01M734.4 335.9h.01M735.9 335.1h.01M773.4 335.3h.01M773.8 335.5h.01M777.8 335.9h.01M779.0 335.3h.01M821.7 335.6h.01M823.2 335.2h.01M843.4 335.3h.01M891.2 335.7h.01M726.0 336.5h.01M731.8 336.1h.01M772.5 336.9h.01M774.3 336.4h.01M780.9 336.5h.01M797.0 336.3h.01M726.8 337.8h.01M727.8 337.6h.01M774.3 337.6h.01M780.3 337.3h.01M786.8 337.9h.01M787.6 337.9h.01M790.0 337.9h.01M791.7 337.6h.01M877.4 338.0h.01M727.0 338.7h.01M729.4 338.4h.01M732.6 338.3h.01M733.2 338.0h.01M733.6 338.3h.01M773.0 338.9h.01M773.3 338.4h.01M773.8 338.9h.01M776.1 338.7h.01M779.7 338.4h.01M781.8 338.7h.01M847.8 338.8h.01M727.5 339.7h.01M730.6 339.2h.01M732.6 339.2h.01M776.4 339.5h.01M777.8 339.3h.01M778.3 339.3h.01M782.9 339.7h.01M789.3 339.5h.01M789.6 339.3h.01M791.4 339.2h.01M726.9 340.5h.01M730.7 340.5h.01M730.8 340.3h.01M732.3 340.4h.01M772.9 340.9h.01M774.5 340.2h.01M775.4 340.1h.01M775.6 340.6h.01M776.5 340.7h.01M777.2 340.0h.01M784.8 340.8h.01M787.7 340.2h.01M793.7 340.5h.01M772.8 341.9h.01M773.9 341.6h.01M774.7 341.1h.01M777.7 341.8h.01M787.0 341.1h.01M726.4 342.7h.01M728.7 342.6h.01M786.6 342.5h.01M789.1 342.1h.01M820.3 342.6h.01M726.7 343.8h.01M727.5 343.6h.01M775.9 343.2h.01M775.5 343.0h.01M777.6 343.1h.01M783.0 343.3h.01M788.2 343.0h.01M799.7 344.0h.01M824.9 343.9h.01M846.7 343.4h.01M865.7 343.9h.01M724.2 344.7h.01M725.4 344.8h.01M725.5 344.9h.01M729.7 344.5h.01M772.5 344.6h.01M772.8 344.8h.01M774.0 344.6h.01M773.8 345.0h.01M777.1 345.0h.01M813.9 344.5h.01M855.2 344.4h.01M722.0 345.3h.01M773.1 345.8h.01M773.9 345.5h.01M775.6 345.8h.01M775.1 346.0h.01M795.0 345.3h.01M795.7 345.3h.01M696.3 346.8h.01M697.1 346.4h.01M723.7 346.5h.01M773.1 346.8h.01M773.8 346.4h.01M776.8 346.3h.01M779.0 346.2h.01M779.8 346.2h.01M788.8 346.7h.01M831.7 347.0h.01M721.9 347.5h.01M727.0 347.7h.01M726.1 347.8h.01M773.6 347.1h.01M776.3 347.2h.01M778.9 347.3h.01M781.6 347.1h.01M783.1 347.4h.01M797.0 348.0h.01M853.6 347.6h.01M853.2 347.7h.01M865.6 347.7h.01M721.3 348.2h.01M725.7 348.7h.01M726.8 348.3h.01M726.2 348.6h.01M778.0 348.7h.01M780.0 348.6h.01M781.4 348.9h.01M783.5 348.4h.01M785.1 348.1h.01M808.4 348.9h.01M693.4 349.9h.01M713.7 349.2h.01M718.5 349.6h.01M722.9 349.1h.01M724.2 349.2h.01M724.9 349.0h.01M775.5 349.6h.01M777.0 349.5h.01M779.0 349.3h.01M833.6 349.0h.01M712.3 350.8h.01M718.0 350.2h.01M719.1 350.9h.01M777.5 351.0h.01M782.5 350.3h.01M784.1 350.7h.01M795.9 351.0h.01M828.4 350.7h.01M832.7 350.9h.01M717.2 351.2h.01M718.7 351.6h.01M721.6 351.3h.01M772.9 351.0h.01M775.0 351.8h.01M775.8 351.5h.01M776.1 351.7h.01M782.2 351.0h.01M792.7 352.0h.01M794.5 351.9h.01M800.1 351.8h.01M814.4 351.1h.01M834.5 351.2h.01M839.5 351.3h.01M842.2 351.0h.01M772.8 352.2h.01M774.7 352.6h.01M775.2 352.9h.01M775.0 352.7h.01M778.7 352.6h.01M778.7 352.5h.01M781.8 353.0h.01M784.9 352.7h.01M789.0 352.3h.01M794.2 352.8h.01M795.0 352.3h.01M805.1 352.7h.01M834.1 352.2h.01M695.3 353.7h.01M698.7 353.8h.01M699.6 353.3h.01M711.9 353.8h.01M718.4 353.2h.01M718.8 353.4h.01M775.7 353.1h.01M778.7 353.3h.01M795.2 353.8h.01M800.5 353.0h.01M803.5 353.3h.01M821.8 353.5h.01M679.4 354.3h.01M705.3 354.6h.01M780.3 354.5h.01M780.5 354.5h.01M786.2 354.3h.01M825.7 354.4h.01M830.4 354.3h.01M706.7 355.6h.01M709.8 355.0h.01M716.1 355.6h.01M716.3 355.5h.01M718.4 355.6h.01M718.1 355.7h.01M776.9 355.2h.01M784.1 355.3h.01M787.2 355.4h.01M794.5 355.4h.01M853.3 355.5h.01M866.1 355.5h.01M693.6 356.6h.01M705.2 356.0h.01M717.7 356.6h.01M719.3 356.6h.01M774.7 356.8h.01M778.0 356.1h.01M780.5 357.0h.01M782.6 356.4h.01M783.0 356.7h.01M808.4 356.7h.01M885.9 356.8h.01M892.4 356.4h.01M706.0 358.0h.01M713.0 357.0h.01M713.9 358.0h.01M716.4 357.5h.01M775.5 357.1h.01M775.0 357.4h.01M777.4 357.5h.01M779.9 357.4h.01M786.3 357.7h.01M790.6 357.4h.01M802.8 357.6h.01M812.1 357.6h.01M845.8 357.9h.01M861.6 357.2h.01M875.6 357.9h.01M699.8 358.8h.01M701.6 358.6h.01M708.1 358.8h.01M712.2 358.3h.01M713.8 358.4h.01M719.8 358.3h.01M719.5 358.5h.01M775.5 358.3h.01M779.5 358.5h.01M781.2 358.1h.01M798.8 358.1h.01M799.3 358.2h.01M688.2 360.0h.01M688.7 359.5h.01M698.6 359.3h.01M705.8 359.6h.01M715.5 359.9h.01M716.5 359.4h.01M716.1 359.6h.01M717.7 359.7h.01M718.4 359.5h.01M778.8 359.9h.01M778.7 359.6h.01M780.3 359.2h.01M791.8 359.2h.01M795.9 359.1h.01M706.4 360.8h.01M710.6 360.1h.01M713.1 360.9h.01M773.6 360.6h.01M777.0 360.6h.01M782.3 360.8h.01M783.1 360.8h.01M673.8 361.9h.01M688.3 361.9h.01M692.6 361.5h.01M697.6 361.1h.01M703.9 361.2h.01M708.1 361.7h.01M712.4 361.9h.01M713.3 361.2h.01M713.4 361.8h.01M714.1 362.0h.01M717.1 361.3h.01M773.5 361.9h.01M776.5 361.7h.01M776.6 361.6h.01M776.8 361.3h.01M778.9 361.8h.01M779.7 361.3h.01M780.0 361.8h.01M788.0 361.6h.01M790.8 361.1h.01M799.4 361.1h.01M802.8 361.3h.01M824.2 361.9h.01M839.0 361.2h.01M851.2 361.6h.01M699.9 363.0h.01M700.2 362.7h.01M704.6 362.2h.01M708.1 362.2h.01M710.5 362.1h.01M784.9 362.6h.01M794.9 362.6h.01M802.4 362.7h.01M809.7 362.1h.01M671.9 363.6h.01M696.0 363.0h.01M702.7 363.9h.01M708.4 363.9h.01M775.4 363.7h.01M775.2 363.9h.01M776.1 363.9h.01M776.3 363.6h.01M777.5 363.4h.01M779.0 363.3h.01M780.0 363.1h.01M780.3 363.6h.01M790.3 363.0h.01M696.5 364.9h.01M703.2 364.9h.01M710.5 364.4h.01M711.2 365.0h.01M714.8 364.8h.01M773.5 364.4h.01M775.8 364.5h.01M775.3 364.2h.01M776.8 364.2h.01M777.7 365.0h.01M790.4 364.1h.01M794.4 364.5h.01M850.9 364.7h.01M702.7 365.9h.01M702.1 365.6h.01M712.7 365.4h.01M714.4 365.3h.01M773.7 365.9h.01M774.1 366.0h.01M774.1 365.5h.01M775.9 365.4h.01M776.4 365.3h.01M777.8 365.2h.01M779.6 365.8h.01M788.3 365.9h.01M789.4 365.1h.01M794.2 365.1h.01M852.0 365.3h.01M661.3 366.3h.01M685.2 367.0h.01M692.0 366.4h.01M692.5 366.3h.01M700.8 366.3h.01M708.6 366.3h.01M708.8 366.8h.01M709.7 366.6h.01M712.7 366.8h.01M775.7 366.9h.01M776.7 366.0h.01M776.6 366.3h.01M777.3 367.0h.01M779.8 366.6h.01M786.5 366.8h.01M797.0 366.9h.01M804.3 366.3h.01M862.5 366.5h.01M874.6 366.3h.01M689.5 367.4h.01M705.6 367.9h.01M709.6 367.2h.01M711.4 367.7h.01M775.4 367.3h.01M776.6 367.8h.01M778.9 367.3h.01M779.0 367.5h.01M780.4 367.4h.01M783.6 367.4h.01M784.6 367.0h.01M864.4 367.1h.01M688.1 368.9h.01M695.9 368.7h.01M695.1 368.9h.01M698.3 368.6h.01M705.1 368.2h.01M710.8 368.5h.01M711.0 369.0h.01M773.9 368.3h.01M776.9 368.7h.01M779.4 368.1h.01M784.8 368.1h.01M789.2 368.0h.01M792.8 368.6h.01M803.8 368.1h.01M843.5 368.8h.01M881.8 368.1h.01M673.6 369.9h.01M704.3 369.2h.01M706.9 369.8h.01M706.9 369.8h.01M707.8 369.2h.01M712.9 369.6h.01M774.6 369.7h.01M776.2 369.4h.01M792.0 369.7h.01M796.5 369.3h.01M655.4 370.0h.01M695.9 370.0h.01M697.5 370.6h.01M701.8 370.2h.01M703.9 370.2h.01M705.8 370.2h.01M707.5 370.0h.01M775.2 370.2h.01M779.5 370.5h.01M781.6 370.2h.01M784.9 370.6h.01M789.1 370.0h.01M793.1 371.0h.01M795.6 370.5h.01M812.2 370.8h.01M837.9 370.8h.01M675.2 371.5h.01M684.5 371.2h.01M687.7 371.8h.01M700.9 371.8h.01M702.6 371.3h.01M707.5 371.5h.01M708.9 371.8h.01M779.6 371.4h.01M790.8 371.7h.01M791.8 371.4h.01M792.7 371.0h.01M800.0 371.3h.01M822.8 371.3h.01M841.6 371.4h.01M690.8 372.5h.01M691.1 373.0h.01M698.2 372.1h.01M703.3 373.0h.01M705.8 372.8h.01M705.1 372.9h.01M708.8 372.4h.01M774.8 373.0h.01M774.4 372.0h.01M775.3 372.3h.01M784.1 372.5h.01M797.9 372.6h.01M811.8 372.4h.01M812.4 372.9h.01M657.5 373.3h.01M670.4 373.5h.01M695.7 374.0h.01M698.3 373.2h.01M701.6 373.2h.01M703.6 373.2h.01M707.7 373.6h.01M707.5 373.8h.01M707.7 373.2h.01M707.8 374.0h.01M782.5 373.6h.01M785.1 373.4h.01M786.3 373.8h.01M788.4 373.6h.01M789.2 373.6h.01M794.3 373.7h.01M795.3 373.0h.01M695.4 374.8h.01M697.3 375.0h.01M698.1 374.5h.01M700.4 374.4h.01M700.9 374.3h.01M701.9 374.4h.01M778.3 374.5h.01M795.8 374.8h.01M814.1 374.9h.01M859.4 374.5h.01M660.3 375.8h.01M696.1 375.8h.01M700.1 375.9h.01M701.2 375.6h.01M701.4 375.7h.01M702.9 375.1h.01M704.4 375.2h.01M705.3 375.8h.01M775.0 375.4h.01M776.7 375.4h.01M779.1 375.5h.01M782.5 375.2h.01M788.3 375.3h.01M789.7 375.5h.01M792.5 375.2h.01M794.7 375.4h.01M850.3 375.5h.01M852.1 375.6h.01M855.6 375.7h.01M656.9 376.2h.01M690.6 376.4h.01M690.8 376.8h.01M691.4 376.9h.01M692.2 376.4h.01M693.9 376.3h.01M694.6 376.7h.01M699.6 376.5h.01M702.8 376.6h.01M706.3 376.5h.01M707.5 376.1h.01M774.6 377.0h.01M775.1 376.7h.01M776.3 376.2h.01M777.5 376.2h.01M779.9 376.8h.01M779.1 376.6h.01M779.2 376.9h.01M783.0 376.7h.01M787.7 376.4h.01M789.5 376.8h.01M804.6 376.5h.01M830.9 376.6h.01M679.1 377.9h.01M690.2 377.7h.01M690.4 377.9h.01M701.9 377.7h.01M702.9 377.3h.01M702.5 377.6h.01M707.0 377.1h.01M774.6 378.0h.01M775.9 377.5h.01M779.6 377.3h.01M783.8 377.9h.01M789.0 377.2h.01M790.8 377.6h.01M794.2 377.5h.01M795.6 378.0h.01M801.2 377.1h.01M809.7 377.3h.01M689.5 378.6h.01M775.2 378.1h.01M776.1 378.2h.01M777.9 378.2h.01M779.3 378.7h.01M793.1 378.4h.01M798.4 378.9h.01M872.3 378.9h.01M676.0 379.1h.01M684.2 379.5h.01M685.4 379.1h.01M688.2 379.1h.01M698.6 379.8h.01M700.9 379.0h.01M703.4 379.1h.01M703.3 379.8h.01M704.0 379.2h.01M705.3 379.0h.01M705.9 379.7h.01M706.5 379.7h.01M706.1 379.4h.01M775.8 379.2h.01M775.9 379.3h.01M776.8 379.5h.01M777.1 379.3h.01M779.7 379.1h.01M779.2 379.5h.01M779.4 379.4h.01M786.0 379.4h.01M786.5 379.9h.01M799.0 379.0h.01M827.5 379.3h.01M846.4 379.3h.01M655.4 380.0h.01M674.1 380.9h.01M677.1 380.5h.01M687.1 380.9h.01M696.6 380.5h.01M698.7 380.7h.01M699.1 380.7h.01M700.7 380.9h.01M701.2 380.5h.01M702.1 380.4h.01M705.0 380.6h.01M704.8 380.5h.01M775.2 380.1h.01M776.7 380.0h.01M776.3 380.2h.01M790.1 380.9h.01M796.7 380.7h.01M796.0 380.9h.01M806.7 380.3h.01M680.2 381.2h.01M691.1 381.5h.01M694.2 381.7h.01M694.5 381.6h.01M700.1 381.4h.01M701.4 381.8h.01M704.2 381.4h.01M775.7 381.5h.01M779.0 381.6h.01M780.1 381.1h.01M680.8 382.3h.01M682.4 382.1h.01M692.1 382.9h.01M693.5 382.3h.01M694.5 382.3h.01M695.7 382.7h.01M696.7 382.2h.01M696.2 382.2h.01M701.2 382.4h.01M701.6 382.7h.01M775.4 382.5h.01M780.7 382.6h.01M786.6 382.2h.01M790.3 382.1h.01M791.6 382.2h.01M792.0 382.2h.01M849.0 382.1h.01M678.8 383.0h.01M690.3 383.4h.01M691.7 384.0h.01M694.3 383.5h.01M698.5 383.9h.01M698.9 383.5h.01M777.0 383.4h.01M777.2 383.6h.01M778.5 383.3h.01M790.2 383.6h.01M795.4 383.8h.01M681.1 384.3h.01M682.8 384.5h.01M685.3 384.0h.01M687.7 384.5h.01M687.1 384.5h.01M690.0 384.4h.01M694.1 384.5h.01M694.4 384.1h.01M694.0 384.4h.01M695.4 384.3h.01M696.5 384.6h.01M698.9 384.0h.01M699.9 384.6h.01M701.5 384.8h.01M775.2 384.4h.01M780.9 384.8h.01M780.6 384.2h.01M781.3 384.8h.01M781.4 384.5h.01M783.6 385.0h.01M793.3 384.2h.01M868.9 384.4h.01M673.4 385.0h.01M679.0 385.7h.01M685.3 385.1h.01M686.8 385.4h.01M686.6 385.3h.01M690.1 385.5h.01M691.6 385.4h.01M694.9 385.6h.01M695.0 385.6h.01M695.5 385.4h.01M696.4 385.3h.01M699.7 385.6h.01M774.9 385.3h.01M775.6 385.6h.01M778.3 385.1h.01M782.3 385.8h.01M784.3 385.6h.01M785.1 385.5h.01M788.3 385.9h.01M808.3 385.8h.01M824.6 385.9h.01M869.3 385.1h.01M665.9 387.0h.01M670.7 386.7h.01M672.0 386.4h.01M675.3 386.8h.01M681.0 386.6h.01M694.4 386.3h.01M698.1 386.8h.01M700.1 386.8h.01M700.2 386.1h.01M776.5 386.1h.01M777.7 386.6h.01M778.8 386.1h.01M780.7 386.5h.01M782.9 387.0h.01M794.4 386.4h.01M795.2 386.4h.01M802.4 387.0h.01M807.5 386.2h.01M850.7 386.8h.01M659.1 387.8h.01M668.4 387.2h.01M676.3 387.9h.01M680.9 387.3h.01M692.3 387.3h.01M692.7 387.2h.01M694.1 388.0h.01M696.3 387.7h.01M697.7 387.2h.01M697.1 387.6h.01M698.1 387.1h.01M698.6 387.8h.01M700.9 387.5h.01M776.1 387.3h.01M779.6 387.4h.01M780.9 387.1h.01M793.8 387.2h.01M821.6 387.9h.01M648.3 388.8h.01M681.5 388.9h.01M684.4 388.8h.01M688.2 388.9h.01M691.7 388.0h.01M694.4 388.6h.01M696.5 388.9h.01M698.8 388.2h.01M699.7 388.4h.01M778.9 388.0h.01M779.5 388.1h.01M788.9 388.0h.01M792.2 388.5h.01M794.5 388.8h.01M813.2 388.9h.01M849.7 388.8h.01M889.5 388.1h.01M675.8 389.0h.01M680.2 389.3h.01M685.3 389.9h.01M689.1 389.6h.01M692.3 389.6h.01M692.9 389.0h.01M693.2 389.4h.01M696.8 389.9h.01M696.2 389.5h.01M698.8 389.4h.01M775.7 389.9h.01M778.4 389.5h.01M778.9 389.0h.01M785.1 389.2h.01M788.5 389.7h.01M791.9 389.5h.01M798.1 389.5h.01M825.7 389.7h.01M643.8 390.7h.01M676.9 390.7h.01M678.2 390.6h.01M681.8 390.2h.01M692.0 390.9h.01M694.1 390.8h.01M698.7 390.8h.01M698.2 390.9h.01M776.9 390.8h.01M778.8 390.8h.01M779.3 390.6h.01M781.7 390.4h.01M786.8 390.6h.01M794.2 390.9h.01M667.3 391.0h.01M667.5 391.8h.01M689.6 391.7h.01M693.5 391.9h.01M697.8 391.2h.01M697.7 391.2h.01M775.0 391.9h.01M775.2 391.0h.01M777.5 391.3h.01M779.9 391.2h.01M783.4 391.6h.01M786.5 391.8h.01M843.7 391.6h.01M862.5 391.7h.01M667.7 392.8h.01M676.2 392.0h.01M686.9 392.6h.01M686.1 392.4h.01M690.2 392.3h.01M778.9 392.7h.01M779.5 392.6h.01M780.0 392.4h.01M786.9 392.1h.01M792.6 392.0h.01M819.3 392.4h.01M836.1 392.6h.01M844.5 392.5h.01M646.7 393.4h.01M662.7 393.6h.01M673.0 393.8h.01M674.4 393.2h.01M680.7 393.9h.01M683.0 393.5h.01M685.1 393.5h.01M689.7 393.5h.01M691.9 393.3h.01M692.1 393.4h.01M695.3 393.6h.01M696.7 393.7h.01M776.0 393.1h.01M775.9 393.8h.01M776.8 393.2h.01M779.0 393.5h.01M780.4 393.4h.01M809.9 394.0h.01M825.8 393.5h.01M836.3 393.9h.01M666.1 394.5h.01M668.2 394.6h.01M680.9 394.3h.01M683.0 394.5h.01M691.2 395.0h.01M693.5 394.9h.01M693.4 394.8h.01M694.8 394.0h.01M695.4 395.0h.01M696.3 394.3h.01M696.1 394.2h.01M775.0 394.2h.01M774.6 394.2h.01M775.0 394.4h.01M783.4 394.1h.01M789.5 394.3h.01M791.1 394.8h.01M810.8 394.6h.01M815.3 394.1h.01M869.0 394.3h.01M665.7 395.0h.01M667.0 396.0h.01M676.8 395.5h.01M676.4 395.4h.01M679.9 395.7h.01M687.0 395.4h.01M687.7 395.0h.01M690.6 395.5h.01M691.8 395.8h.01M692.1 395.1h.01M778.3 395.4h.01M784.3 395.3h.01M799.1 395.5h.01M813.7 395.1h.01M839.8 395.3h.01M885.2 395.5h.01M663.5 396.4h.01M664.0 396.4h.01M681.3 396.1h.01M685.4 396.1h.01M687.3 396.3h.01M687.5 396.9h.01M688.6 396.4h.01M688.3 396.6h.01M691.4 396.7h.01M692.6 396.7h.01M695.0 396.0h.01M694.9 396.9h.01M775.2 396.8h.01M775.2 396.9h.01M777.2 396.6h.01M778.5 396.8h.01M780.2 396.7h.01M781.2 396.8h.01M784.7 396.9h.01M787.4 396.5h.01M794.8 396.0h.01M794.9 396.8h.01M797.9 396.2h.01M885.3 396.3h.01M656.9 397.9h.01M672.8 397.4h.01M685.1 397.9h.01M685.3 397.5h.01M687.7 397.6h.01M691.1 397.7h.01M774.1 397.7h.01M778.4 397.1h.01M778.0 397.4h.01M781.8 397.7h.01M782.8 397.8h.01M783.5 397.1h.01M787.6 397.1h.01M787.4 397.0h.01M799.8 397.9h.01M803.2 397.9h.01M672.5 398.1h.01M679.6 398.1h.01M682.6 398.8h.01M686.1 398.4h.01M687.0 398.8h.01M687.0 398.3h.01M688.8 398.0h.01M689.6 398.4h.01M690.5 398.5h.01M691.9 398.2h.01M692.2 398.3h.01M775.8 398.3h.01M776.3 398.7h.01M778.7 398.7h.01M779.6 398.7h.01M783.1 398.8h.01M784.0 398.8h.01M791.3 398.5h.01M798.4 398.6h.01M850.8 398.7h.01M858.8 398.3h.01M660.9 399.0h.01M678.1 399.2h.01M678.3 399.8h.01M679.7 399.2h.01M679.9 399.6h.01M681.5 399.2h.01M683.3 399.1h.01M684.3 399.9h.01M684.4 399.7h.01M685.5 400.0h.01M690.4 399.1h.01M774.9 399.3h.01M777.8 399.8h.01M777.4 399.7h.01M658.1 400.1h.01M682.1 400.9h.01M683.2 400.2h.01M684.4 400.4h.01M685.0 400.3h.01M686.6 400.1h.01M688.5 401.0h.01M689.5 400.9h.01M689.4 400.4h.01M690.2 400.5h.01M691.8 401.0h.01M773.3 400.4h.01M776.9 400.8h.01M776.6 400.7h.01M780.6 401.0h.01M780.7 400.2h.01M838.0 400.5h.01M675.3 402.0h.01M678.3 401.8h.01M679.3 401.7h.01M679.1 401.9h.01M679.5 402.0h.01M681.1 401.5h.01M686.7 401.1h.01M773.2 402.0h.01M774.7 401.9h.01M774.3 401.5h.01M775.5 401.2h.01M776.2 401.2h.01M777.8 401.6h.01M778.3 401.9h.01M778.8 401.1h.01M782.6 401.6h.01M796.6 401.8h.01M847.5 401.9h.01M636.2 402.1h.01M650.7 402.9h.01M655.4 402.8h.01M664.7 402.5h.01M668.0 402.7h.01M673.1 402.7h.01M676.0 402.2h.01M682.9 402.2h.01M685.5 402.1h.01M688.8 402.1h.01M773.6 402.5h.01M773.1 402.1h.01M775.2 402.7h.01M775.5 402.7h.01M775.6 402.6h.01M776.4 402.6h.01M777.7 403.0h.01M779.3 402.8h.01M782.5 402.5h.01M786.9 402.2h.01M790.4 402.1h.01M791.7 402.0h.01M795.5 402.6h.01M815.7 402.7h.01M868.3 402.7h.01M667.7 403.4h.01M681.2 403.7h.01M682.5 403.7h.01M686.4 403.1h.01M687.8 403.7h.01M689.1 403.0h.01M773.4 403.1h.01M774.1 403.5h.01M774.6 403.4h.01M776.5 403.5h.01M783.5 403.6h.01M788.4 403.3h.01M788.7 403.3h.01M842.7 403.7h.01M846.1 403.1h.01M642.5 404.6h.01M656.9 405.0h.01M667.9 405.0h.01M667.2 404.5h.01M676.0 404.1h.01M678.3 404.1h.01M679.7 404.1h.01M683.1 404.6h.01M685.3 404.6h.01M686.3 404.5h.01M688.5 404.3h.01M689.5 404.9h.01M778.6 404.4h.01M780.0 404.5h.01M781.3 404.4h.01M784.5 404.8h.01M826.6 405.0h.01M863.1 404.8h.01M665.7 405.3h.01M667.7 405.7h.01M670.6 405.8h.01M676.2 405.1h.01M680.9 405.2h.01M681.2 405.2h.01M689.5 405.0h.01M773.1 405.7h.01M774.4 405.4h.01M774.6 405.1h.01M774.0 405.8h.01M775.8 405.4h.01M776.1 405.9h.01M780.6 406.0h.01M784.1 405.4h.01M785.8 405.7h.01M786.1 405.9h.01M786.5 405.6h.01M822.5 405.9h.01M826.8 405.7h.01M848.4 405.8h.01M867.0 405.2h.01M867.8 405.4h.01M657.1 406.8h.01M669.4 406.4h.01M671.8 406.3h.01M673.0 406.6h.01M676.5 406.2h.01M676.9 406.2h.01M678.2 406.1h.01M682.0 406.7h.01M681.7 406.6h.01M684.9 406.5h.01M684.3 406.6h.01M688.2 406.4h.01M775.0 406.2h.01M776.7 406.3h.01M778.3 406.3h.01M778.1 406.1h.01M779.9 406.1h.01M792.7 406.8h.01M807.2 406.4h.01M814.5 406.7h.01M840.4 406.5h.01M661.5 407.1h.01M673.6 407.1h.01M675.7 407.1h.01M680.5 407.8h.01M680.1 407.5h.01M680.9 407.6h.01M681.0 407.1h.01M681.7 407.8h.01M688.5 407.4h.01M775.7 407.9h.01M775.0 407.8h.01M778.7 407.2h.01M778.7 407.2h.01M783.4 407.2h.01M792.4 407.1h.01M796.4 407.4h.01M846.5 407.1h.01M656.0 408.6h.01M659.2 408.3h.01M659.7 408.4h.01M670.7 408.2h.01M671.2 408.6h.01M679.7 408.4h.01M684.6 408.3h.01M685.7 408.0h.01M687.3 408.1h.01M773.6 408.7h.01M774.1 408.7h.01M776.7 408.3h.01M778.4 408.5h.01M787.7 408.4h.01M797.3 408.9h.01M807.9 408.3h.01M813.3 408.8h.01M658.9 409.5h.01M672.7 409.0h.01M675.7 409.4h.01M675.3 409.7h.01M680.3 409.6h.01M682.0 409.2h.01M683.5 409.6h.01M684.5 409.0h.01M685.4 409.6h.01M686.1 409.5h.01M687.5 409.6h.01M773.5 409.1h.01M775.9 409.7h.01M777.7 409.3h.01M778.9 409.5h.01M778.1 409.6h.01M778.3 409.0h.01M791.2 409.1h.01M791.5 409.8h.01M645.6 410.1h.01M657.6 410.5h.01M659.3 410.8h.01M669.9 410.7h.01M670.6 410.2h.01M676.0 410.1h.01M685.0 410.2h.01M780.2 410.0h.01M782.0 410.2h.01M792.1 410.3h.01M796.3 410.3h.01M808.8 410.6h.01M813.1 410.9h.01M647.1 411.3h.01M663.4 411.4h.01M671.5 411.5h.01M681.5 411.2h.01M682.4 411.6h.01M773.9 411.2h.01M774.1 411.3h.01M782.5 411.6h.01M784.8 411.2h.01M837.1 411.4h.01M887.9 411.4h.01M647.6 412.9h.01M663.0 413.0h.01M664.4 412.4h.01M665.7 412.8h.01M665.9 412.1h.01M669.2 412.4h.01M678.8 412.8h.01M679.8 412.3h.01M775.9 412.1h.01M777.2 412.3h.01M782.3 412.8h.01M783.6 412.2h.01M803.6 412.7h.01M842.0 412.6h.01M668.3 413.6h.01M674.0 413.8h.01M675.3 413.3h.01M677.5 413.8h.01M677.7 413.1h.01M679.6 413.2h.01M680.3 413.4h.01M683.9 413.1h.01M683.6 413.0h.01M683.6 413.1h.01M685.4 413.9h.01M773.7 414.0h.01M778.1 413.6h.01M785.1 413.2h.01M788.5 413.5h.01M789.9 413.1h.01M791.8 413.6h.01M848.4 413.5h.01M858.3 413.6h.01M861.5 413.6h.01M653.2 414.7h.01M670.7 414.8h.01M677.9 414.9h.01M683.2 414.5h.01M684.0 414.0h.01M777.1 414.7h.01M781.1 414.8h.01M783.1 414.1h.01M784.9 414.7h.01M794.9 414.9h.01M797.8 414.7h.01M800.5 414.7h.01M810.9 414.0h.01M655.7 415.4h.01M663.2 415.5h.01M677.6 415.1h.01M678.5 415.2h.01M683.9 415.3h.01M684.3 415.3h.01M773.3 415.1h.01M774.4 415.5h.01M778.2 415.2h.01M779.3 415.7h.01M782.6 416.0h.01M841.8 415.7h.01M637.7 416.6h.01M659.5 416.4h.01M662.3 416.6h.01M668.1 416.0h.01M672.4 416.1h.01M678.8 416.4h.01M679.8 416.1h.01M679.5 416.1h.01M680.4 416.3h.01M774.9 416.5h.01M775.5 416.6h.01M777.3 416.4h.01M797.2 416.4h.01M807.8 416.2h.01M819.8 416.1h.01M860.3 416.2h.01M646.5 417.2h.01M646.1 418.0h.01M674.8 417.4h.01M675.3 417.4h.01M683.7 417.6h.01M775.0 417.5h.01M776.3 417.7h.01M777.7 417.4h.01M778.9 417.6h.01M780.3 418.0h.01M788.1 417.3h.01M794.4 417.7h.01M796.5 417.2h.01M825.6 417.9h.01M826.8 417.4h.01M658.3 418.5h.01M660.8 418.8h.01M672.9 418.4h.01M673.2 418.1h.01M673.7 418.9h.01M675.4 418.8h.01M678.5 418.6h.01M681.8 419.0h.01M774.2 418.2h.01M775.6 418.4h.01M776.9 418.1h.01M777.8 418.1h.01M783.1 418.5h.01M787.0 418.1h.01M789.5 418.5h.01M813.4 418.8h.01M813.5 418.0h.01M672.1 419.1h.01M672.4 419.9h.01M673.0 419.0h.01M676.6 419.7h.01M677.2 419.9h.01M679.5 419.1h.01M681.2 419.5h.01M773.8 419.9h.01M774.6 419.5h.01M775.6 419.1h.01M776.9 419.3h.01M777.5 419.7h.01M778.5 419.9h.01M780.9 419.7h.01M780.3 419.8h.01M782.0 419.7h.01M786.9 419.5h.01M830.1 419.5h.01M654.9 421.0h.01M663.5 420.2h.01M671.3 420.8h.01M675.5 420.6h.01M680.4 420.2h.01M680.3 420.5h.01M772.9 420.2h.01M776.1 420.9h.01M782.8 420.7h.01M788.5 420.8h.01M866.1 420.6h.01M869.3 420.2h.01M647.1 421.9h.01M650.6 421.5h.01M660.3 422.0h.01M663.7 421.2h.01M669.7 421.5h.01M672.3 421.3h.01M676.8 421.5h.01M676.2 421.8h.01M678.7 421.6h.01M680.4 421.3h.01M773.4 421.3h.01M773.3 421.7h.01M773.8 421.6h.01M775.4 421.4h.01M779.5 421.7h.01M801.0 421.5h.01M578.3 422.0h.01M634.4 422.2h.01M673.4 422.6h.01M678.9 422.4h.01M679.9 423.0h.01M681.0 422.7h.01M774.4 422.7h.01M775.6 422.7h.01M776.0 422.9h.01M776.9 422.7h.01M789.3 422.9h.01M797.6 422.4h.01M648.0 423.3h.01M654.1 423.9h.01M667.8 423.5h.01M670.8 423.3h.01M671.9 423.4h.01M673.6 423.7h.01M674.0 423.5h.01M675.2 423.8h.01M675.9 423.1h.01M677.2 423.6h.01M775.2 423.2h.01M785.2 423.1h.01M816.2 423.5h.01M867.7 423.7h.01M872.4 423.1h.01M648.3 424.4h.01M658.7 424.5h.01M664.1 424.3h.01M665.7 424.8h.01M670.6 424.5h.01M672.1 424.1h.01M676.9 424.3h.01M772.9 424.5h.01M775.3 424.2h.01M783.0 424.5h.01M795.0 424.6h.01M575.4 425.1h.01M586.0 425.5h.01M656.7 425.1h.01M667.8 425.5h.01M670.8 425.3h.01M673.8 425.2h.01M673.1 425.9h.01M677.0 425.6h.01M676.9 425.8h.01M678.3 425.3h.01M773.6 425.1h.01M775.3 425.5h.01M776.4 425.3h.01M779.1 425.6h.01M787.4 425.8h.01M801.3 425.9h.01M841.3 425.1h.01M636.7 426.9h.01M654.7 426.7h.01M662.7 426.7h.01M663.3 426.9h.01M664.5 426.9h.01M671.8 426.1h.01M673.4 426.8h.01M673.7 426.3h.01M674.6 426.5h.01M675.1 426.8h.01M676.4 426.1h.01M677.2 426.9h.01M677.5 426.4h.01M679.5 426.0h.01M679.8 426.2h.01M776.5 427.0h.01M779.6 426.6h.01M785.9 426.8h.01M789.6 426.6h.01M793.9 426.3h.01M795.4 426.5h.01M659.4 427.0h.01M665.0 427.7h.01M665.5 427.5h.01M668.5 427.2h.01M668.7 427.4h.01M671.7 427.2h.01M674.0 427.2h.01M674.9 427.6h.01M676.5 427.1h.01M773.3 427.9h.01M774.9 427.7h.01M774.4 427.9h.01M777.3 427.7h.01M779.8 427.4h.01M783.1 427.3h.01M793.6 428.0h.01M807.2 427.2h.01M834.7 427.5h.01M850.7 428.0h.01M639.2 429.0h.01M650.7 428.1h.01M654.5 428.6h.01M660.7 428.4h.01M663.5 428.2h.01M670.8 428.9h.01M670.2 428.2h.01M673.8 428.8h.01M678.8 428.3h.01M678.1 428.2h.01M772.3 428.7h.01M773.8 428.1h.01M775.8 428.1h.01M776.6 428.6h.01M780.5 428.3h.01M789.2 428.0h.01M798.8 428.2h.01M661.0 429.7h.01M672.7 429.9h.01M676.3 429.2h.01M677.7 429.9h.01M776.2 429.4h.01M776.1 429.0h.01M782.5 429.5h.01M784.9 430.0h.01M808.1 429.1h.01M827.4 429.8h.01M869.0 429.1h.01M650.2 430.8h.01M655.4 430.6h.01M667.0 430.6h.01M671.2 430.9h.01M674.8 430.2h.01M674.9 430.5h.01M773.2 430.7h.01M775.8 430.6h.01M781.5 430.1h.01M781.5 430.7h.01M783.6 430.6h.01M609.9 431.8h.01M610.3 431.3h.01M614.4 432.0h.01M640.6 431.5h.01M652.7 431.4h.01M659.4 431.6h.01M667.7 431.1h.01M668.5 432.0h.01M668.3 431.8h.01M674.1 431.1h.01M674.9 431.9h.01M774.1 431.9h.01M776.7 431.5h.01M778.5 431.3h.01M787.5 431.9h.01M800.8 431.4h.01M834.3 431.9h.01M846.6 431.9h.01M627.6 432.1h.01M639.8 432.1h.01M641.3 432.7h.01M648.1 432.4h.01M651.7 432.3h.01M666.6 433.0h.01M667.7 432.1h.01M669.5 432.7h.01M669.6 432.7h.01M672.5 432.3h.01M673.1 432.7h.01M674.0 432.8h.01M674.8 432.7h.01M674.9 432.3h.01M772.7 432.9h.01M776.2 432.1h.01M777.4 432.3h.01M778.6 432.7h.01M785.8 432.6h.01M787.9 432.3h.01M791.6 432.2h.01M792.3 432.2h.01M797.9 432.5h.01M596.7 433.0h.01M616.2 434.0h.01M662.0 433.1h.01M665.8 433.2h.01M673.3 433.1h.01M675.4 433.6h.01M777.9 433.4h.01M777.3 433.4h.01M777.8 433.0h.01M777.6 433.8h.01M778.1 433.3h.01M779.8 433.7h.01M792.7 433.4h.01M604.5 434.7h.01M616.5 434.5h.01M618.5 434.7h.01M619.2 434.9h.01M643.5 434.9h.01M660.6 434.7h.01M667.9 434.0h.01M670.2 434.8h.01M673.4 434.5h.01M674.2 434.8h.01M675.6 434.1h.01M773.3 434.8h.01M774.2 434.6h.01M774.3 434.6h.01M776.3 434.9h.01M777.5 434.8h.01M783.6 434.2h.01M788.3 434.6h.01M807.2 434.5h.01M865.9 435.0h.01M595.1 435.8h.01M620.4 435.3h.01M651.7 435.4h.01M665.2 435.8h.01M666.6 435.7h.01M667.1 435.1h.01M671.7 435.7h.01M673.1 435.5h.01M675.8 436.0h.01M675.7 435.5h.01M774.2 435.9h.01M636.2 436.2h.01M637.5 436.6h.01M650.3 436.9h.01M651.3 437.0h.01M655.7 436.7h.01M659.1 436.2h.01M660.5 436.9h.01M662.4 436.1h.01M666.3 436.9h.01M667.8 436.5h.01M670.0 436.4h.01M671.9 436.9h.01M673.9 436.6h.01M772.3 436.7h.01M774.0 436.1h.01M777.7 436.0h.01M778.7 436.1h.01M778.6 436.7h.01M778.5 436.5h.01M779.2 436.5h.01M785.9 436.2h.01M789.4 436.9h.01M802.3 436.1h.01M612.1 437.6h.01M626.7 437.9h.01M654.8 437.1h.01M664.2 437.2h.01M665.5 437.5h.01M666.8 437.8h.01M671.5 437.9h.01M671.3 437.7h.01M673.4 437.0h.01M774.0 437.5h.01M777.0 437.3h.01M780.5 437.2h.01M795.0 437.1h.01M630.9 438.4h.01M633.5 438.8h.01M645.6 439.0h.01M646.7 438.1h.01M653.8 438.4h.01M660.6 438.1h.01M667.3 438.4h.01M669.1 438.3h.01M671.1 438.1h.01M673.5 438.4h.01M771.2 438.4h.01M773.3 438.4h.01M774.6 438.1h.01M774.5 438.2h.01M774.2 438.5h.01M777.8 438.6h.01M792.7 438.7h.01M793.5 438.1h.01M832.7 438.5h.01M836.3 438.7h.01M612.9 439.3h.01M620.6 439.1h.01M621.2 439.5h.01M657.7 439.7h.01M667.0 439.8h.01M668.5 439.9h.01M669.8 439.1h.01M669.2 440.0h.01M672.2 439.1h.01M672.8 439.3h.01M771.5 439.7h.01M772.9 439.0h.01M772.9 439.6h.01M774.6 439.5h.01M776.4 439.7h.01M777.3 439.9h.01M778.2 439.5h.01M785.3 439.5h.01M797.9 439.7h.01M831.2 439.7h.01M853.1 439.9h.01M624.9 440.2h.01M648.5 440.9h.01M653.3 440.9h.01M662.7 440.7h.01M663.9 440.1h.01M664.3 440.1h.01M664.9 440.6h.01M667.1 440.7h.01M672.0 440.6h.01M777.4 440.2h.01M781.1 441.0h.01M787.2 440.9h.01M789.8 440.1h.01M791.6 440.6h.01M794.1 440.1h.01M800.9 440.5h.01M819.5 440.8h.01M603.1 442.0h.01M630.8 441.4h.01M635.2 441.1h.01M642.7 441.3h.01M651.1 441.0h.01M658.5 441.2h.01M668.4 441.4h.01M669.1 441.1h.01M670.8 441.5h.01M670.2 441.0h.01M671.5 442.0h.01M772.9 441.8h.01M772.9 442.0h.01M786.4 441.5h.01M800.1 441.2h.01M802.4 441.1h.01M609.4 442.3h.01M626.6 443.0h.01M634.1 442.5h.01M656.8 442.1h.01M662.6 442.2h.01M663.8 442.3h.01M666.4 442.9h.01M667.9 442.1h.01M668.3 442.3h.01M668.3 442.9h.01M669.1 442.8h.01M779.7 442.1h.01M783.5 442.0h.01M813.4 442.9h.01M871.5 442.6h.01M625.3 443.7h.01M632.4 443.1h.01M640.5 443.2h.01M657.6 443.0h.01M664.0 443.4h.01M668.0 443.6h.01M668.2 443.5h.01M771.2 443.1h.01M772.4 443.2h.01M773.1 443.5h.01M773.2 443.8h.01M774.3 443.6h.01M775.5 443.5h.01M778.8 443.2h.01M783.0 443.5h.01M783.5 444.0h.01M786.1 444.0h.01M788.4 443.3h.01M790.5 443.3h.01M800.9 443.6h.01M863.0 443.0h.01M593.0 444.9h.01M596.2 444.7h.01M604.6 444.7h.01M605.6 444.9h.01M616.8 444.8h.01M622.1 444.4h.01M628.2 444.0h.01M635.5 444.4h.01M651.4 444.1h.01M658.5 444.7h.01M659.3 445.0h.01M665.2 444.0h.01M665.2 444.3h.01M668.5 444.1h.01M669.0 444.5h.01M670.1 444.4h.01M671.2 444.3h.01M771.5 444.8h.01M773.6 444.8h.01M776.0 444.1h.01M779.5 444.7h.01M780.9 444.5h.01M789.4 445.0h.01M797.8 444.7h.01M811.4 444.5h.01M852.3 444.7h.01M861.6 444.4h.01M592.4 445.4h.01M604.6 445.7h.01M615.3 445.8h.01M616.2 445.6h.01M636.5 445.5h.01M639.6 445.7h.01M642.6 445.6h.01M650.5 445.8h.01M650.8 445.9h.01M651.1 445.1h.01M651.6 445.3h.01M651.8 445.8h.01M658.7 446.0h.01M659.9 445.2h.01M663.0 446.0h.01M663.9 445.7h.01M664.7 445.8h.01M664.9 446.0h.01M666.9 446.0h.01M666.3 445.6h.01M669.6 445.3h.01M764.1 445.8h.01M765.4 445.3h.01M765.1 445.3h.01M768.2 445.5h.01M771.4 445.7h.01M773.9 445.3h.01M773.0 445.9h.01M775.6 445.6h.01M776.7 445.2h.01M776.6 445.5h.01M777.2 446.0h.01M777.6 445.8h.01M778.5 445.0h.01M782.2 445.6h.01M792.2 445.3h.01M575.0 446.3h.01M583.6 446.8h.01M597.8 446.5h.01M597.0 446.4h.01M598.5 446.7h.01M614.7 446.5h.01M630.8 446.8h.01M632.2 446.3h.01M636.3 446.4h.01M643.0 446.5h.01M648.6 446.9h.01M665.2 446.6h.01M667.4 446.4h.01M668.2 446.2h.01M669.1 446.7h.01M670.3 446.0h.01M767.6 446.4h.01M770.0 447.0h.01M772.9 446.9h.01M776.9 446.0h.01M778.8 446.8h.01M782.5 446.7h.01M787.1 446.2h.01M791.0 446.1h.01M811.4 446.3h.01M867.3 446.7h.01M882.7 447.0h.01M611.7 447.7h.01M625.4 447.9h.01M651.9 447.2h.01M655.3 447.5h.01M660.7 447.9h.01M661.4 447.9h.01M663.8 447.1h.01M668.8 447.3h.01M669.6 447.6h.01M763.6 447.2h.01M763.4 447.3h.01M764.8 448.0h.01M769.0 447.7h.01M770.6 447.3h.01M772.2 447.8h.01M774.5 447.2h.01M780.7 447.1h.01M781.0 448.0h.01M784.0 447.7h.01M814.0 447.2h.01M818.5 447.6h.01M836.6 447.1h.01M619.5 448.5h.01M625.5 448.6h.01M628.5 449.0h.01M629.7 448.8h.01M648.0 448.2h.01M650.1 448.2h.01M651.4 448.3h.01M653.7 448.2h.01M654.4 448.6h.01M656.0 448.5h.01M656.3 448.9h.01M658.1 448.6h.01M659.8 448.1h.01M661.6 448.8h.01M663.3 448.7h.01M663.7 448.8h.01M663.9 448.2h.01M665.4 448.5h.01M666.0 448.5h.01M667.5 448.1h.01M669.7 448.5h.01M763.1 448.8h.01M764.0 448.7h.01M768.8 448.9h.01M770.9 448.6h.01M770.6 448.6h.01M773.8 448.9h.01M776.5 449.0h.01M778.4 448.7h.01M779.8 448.3h.01M781.4 448.2h.01M784.3 448.2h.01M789.6 448.0h.01M789.5 448.8h.01M793.0 448.7h.01M793.6 448.4h.01M794.7 448.8h.01M809.3 448.1h.01M571.0 449.6h.01M575.3 449.0h.01M581.1 450.0h.01M582.6 449.3h.01M585.5 450.0h.01M611.3 449.2h.01M620.5 449.2h.01M620.7 450.0h.01M623.4 449.2h.01M627.2 449.3h.01M629.0 449.6h.01M630.3 450.0h.01M638.8 449.2h.01M647.7 450.0h.01M663.1 449.4h.01M666.0 449.8h.01M665.2 449.4h.01M668.3 449.4h.01M766.4 449.5h.01M768.9 450.0h.01M769.1 450.0h.01M773.3 449.9h.01M775.9 449.5h.01M777.1 449.9h.01M777.8 449.7h.01M782.6 450.0h.01M783.0 449.2h.01M785.1 449.1h.01M788.0 449.3h.01M789.5 449.7h.01M808.7 449.9h.01M578.4 450.7h.01M591.7 450.1h.01M625.7 450.9h.01M628.0 450.4h.01M631.7 450.0h.01M638.7 450.6h.01M649.3 450.1h.01M651.3 450.6h.01M658.1 450.2h.01M659.4 450.8h.01M663.0 450.7h.01M663.4 450.9h.01M663.2 450.9h.01M664.7 450.4h.01M764.4 450.7h.01M772.2 451.0h.01M774.9 450.2h.01M778.8 450.7h.01M779.4 450.9h.01M780.3 450.1h.01M781.7 450.1h.01M801.2 450.9h.01M808.1 450.6h.01M618.2 451.2h.01M635.4 451.4h.01M652.1 451.8h.01M653.2 451.8h.01M654.9 451.2h.01M658.4 451.7h.01M662.8 451.3h.01M764.9 451.7h.01M767.2 451.6h.01M767.7 451.7h.01M773.7 451.9h.01M774.0 451.0h.01M778.9 451.9h.01M779.5 451.2h.01M780.6 451.0h.01M783.0 452.0h.01M786.0 451.5h.01M787.2 451.7h.01M787.2 451.1h.01M796.1 451.6h.01M798.7 451.4h.01M798.1 451.9h.01M799.9 451.6h.01M801.4 451.4h.01M811.6 451.1h.01M577.4 452.7h.01M584.8 452.6h.01M586.6 452.2h.01M622.7 452.2h.01M626.2 452.6h.01M643.4 452.2h.01M645.0 452.6h.01M647.5 452.3h.01M650.7 452.4h.01M651.7 452.9h.01M651.9 452.6h.01M654.6 452.9h.01M657.1 452.9h.01M658.9 452.3h.01M658.4 452.7h.01M659.9 452.9h.01M663.6 452.9h.01M663.5 452.6h.01M664.6 452.9h.01M765.7 452.3h.01M767.1 452.2h.01M769.7 452.7h.01M770.9 452.2h.01M771.4 452.3h.01M775.1 452.4h.01M776.8 452.6h.01M783.3 452.8h.01M808.8 452.7h.01M810.9 453.0h.01M836.0 452.9h.01M544.7 453.9h.01M559.5 453.6h.01M584.2 453.2h.01M611.5 453.7h.01M614.7 453.5h.01M618.6 453.8h.01M618.9 453.7h.01M622.0 453.8h.01M623.1 453.8h.01M627.9 453.5h.01M631.7 453.3h.01M637.4 453.8h.01M638.8 453.2h.01M638.8 453.7h.01M638.5 453.7h.01M645.9 453.6h.01M646.4 453.8h.01M646.8 453.7h.01M651.0 453.2h.01M651.7 453.8h.01M652.1 453.9h.01M656.6 453.4h.01M657.7 453.1h.01M658.2 453.5h.01M660.5 453.3h.01M660.1 453.2h.01M660.5 453.7h.01M662.8 453.8h.01M763.2 453.8h.01M765.4 453.7h.01M767.6 453.3h.01M768.8 454.0h.01M768.3 453.8h.01M769.8 453.7h.01M770.5 453.8h.01M772.7 453.2h.01M772.2 453.0h.01M784.7 453.7h.01M787.5 453.3h.01M801.5 453.6h.01M816.2 453.8h.01M579.7 454.6h.01M600.3 454.5h.01M617.6 454.8h.01M626.6 454.4h.01M626.9 454.9h.01M627.7 454.0h.01M637.0 454.6h.01M642.9 454.4h.01M644.2 454.9h.01M647.6 454.5h.01M654.7 454.2h.01M654.8 455.0h.01M655.0 454.7h.01M654.6 454.2h.01M655.4 454.0h.01M659.7 454.4h.01M662.2 454.1h.01M663.8 454.3h.01M663.8 454.0h.01M768.3 454.2h.01M770.3 454.3h.01M794.6 454.3h.01M805.8 454.9h.01M537.9 455.9h.01M556.5 455.8h.01M557.3 455.1h.01M569.4 455.4h.01M596.6 455.8h.01M613.3 455.3h.01M614.1 455.4h.01M617.9 455.3h.01M619.8 455.5h.01M619.0 455.1h.01M619.9 455.6h.01M622.2 455.5h.01M625.5 455.1h.01M627.3 455.7h.01M630.7 456.0h.01M637.7 455.6h.01M639.9 455.9h.01M646.9 455.2h.01M648.6 455.2h.01M650.6 455.4h.01M654.2 455.8h.01M656.6 455.3h.01M660.7 455.2h.01M661.2 456.0h.01M762.5 455.6h.01M762.6 455.7h.01M762.3 455.1h.01M764.9 455.9h.01M769.8 455.1h.01M771.9 455.4h.01M778.6 455.7h.01M784.9 455.0h.01M790.9 455.6h.01M809.1 455.5h.01M818.7 455.7h.01M556.8 456.6h.01M591.9 456.6h.01M597.1 456.2h.01M597.2 456.2h.01M607.6 456.4h.01M609.1 456.7h.01M614.3 456.9h.01M616.8 456.8h.01M618.3 456.2h.01M621.1 456.9h.01M625.9 456.0h.01M627.5 456.4h.01M642.9 456.3h.01M647.9 456.4h.01M649.5 456.7h.01M651.3 456.1h.01M653.6 456.9h.01M655.5 456.2h.01M656.7 456.9h.01M658.1 456.3h.01M658.8 456.6h.01M660.8 456.5h.01M661.2 456.8h.01M764.4 456.2h.01M766.5 456.8h.01M768.8 456.3h.01M773.8 456.9h.01M774.8 456.6h.01M775.2 456.8h.01M778.1 456.6h.01M779.4 456.1h.01M780.7 456.8h.01M782.0 457.0h.01M786.5 456.5h.01M789.6 456.5h.01M793.6 456.8h.01M795.0 456.2h.01M579.9 457.4h.01M581.2 457.2h.01M581.2 458.0h.01M596.3 457.3h.01M614.5 457.5h.01M630.9 457.6h.01M632.3 457.9h.01M638.1 457.9h.01M641.6 457.3h.01M642.1 457.8h.01M643.9 457.1h.01M645.6 457.5h.01M645.5 457.7h.01M646.1 457.1h.01M647.2 457.7h.01M647.3 457.8h.01M653.4 457.5h.01M656.9 457.8h.01M766.5 457.8h.01M766.3 457.1h.01M768.5 457.8h.01M771.6 457.2h.01M778.7 457.1h.01M786.8 457.6h.01M830.9 457.2h.01M854.5 457.8h.01M570.9 458.8h.01M570.1 458.9h.01M584.2 458.7h.01M586.1 458.2h.01M591.3 458.7h.01M609.3 458.4h.01M617.5 458.7h.01M619.9 458.9h.01M622.6 459.0h.01M629.1 458.6h.01M629.3 458.6h.01M635.2 458.1h.01M639.9 458.1h.01M641.9 458.7h.01M642.8 458.0h.01M643.6 458.7h.01M643.4 458.7h.01M644.0 458.5h.01M646.7 458.6h.01M646.9 458.5h.01M649.5 458.2h.01M649.0 458.6h.01M652.2 459.0h.01M655.3 458.8h.01M659.8 458.8h.01M762.6 458.7h.01M768.0 458.8h.01M770.9 458.6h.01M775.2 458.5h.01M777.6 458.0h.01M786.8 458.4h.01M794.5 458.9h.01M796.3 458.8h.01M829.6 458.7h.01M539.9 459.6h.01M549.1 459.7h.01M567.8 459.4h.01M580.6 459.0h.01M586.2 460.0h.01M589.5 459.8h.01M590.5 459.0h.01M604.3 459.6h.01M610.9 460.0h.01M613.5 459.5h.01M620.2 459.2h.01M621.4 459.0h.01M621.5 459.3h.01M628.1 459.2h.01M630.5 459.0h.01M633.8 459.0h.01M637.0 459.0h.01M637.6 459.4h.01M639.4 459.4h.01M640.8 459.1h.01M645.4 459.2h.01M647.5 459.3h.01M648.9 459.6h.01M650.1 459.7h.01M653.3 459.6h.01M653.0 459.1h.01M656.5 459.8h.01M763.1 459.8h.01M764.3 459.5h.01M766.7 459.4h.01M767.1 459.9h.01M768.8 459.6h.01M773.5 459.2h.01M793.6 460.0h.01M794.9 459.3h.01M807.0 459.3h.01M819.6 459.4h.01M830.8 459.2h.01M495.1 460.5h.01M553.3 460.8h.01M578.8 460.7h.01M586.8 461.0h.01M590.3 460.8h.01M591.9 460.1h.01M595.4 460.4h.01M609.8 460.2h.01M612.2 460.9h.01M613.7 460.7h.01M614.4 460.2h.01M621.3 460.5h.01M622.7 460.8h.01M623.1 460.7h.01M625.7 460.9h.01M625.7 460.0h.01M628.2 460.9h.01M629.2 460.5h.01M629.3 460.1h.01M630.0 460.9h.01M633.2 460.2h.01M633.9 460.0h.01M635.4 460.4h.01M638.1 460.2h.01M639.8 460.7h.01M640.7 460.7h.01M642.2 460.6h.01M648.5 460.6h.01M651.0 460.2h.01M652.8 461.0h.01M654.0 460.1h.01M657.2 460.7h.01M762.3 460.7h.01M765.6 461.0h.01M766.4 460.7h.01M769.5 460.1h.01M770.5 460.1h.01M774.5 460.8h.01M793.0 460.5h.01M795.0 460.6h.01M797.3 460.7h.01M804.6 460.3h.01M848.1 460.7h.01M563.8 461.0h.01M585.6 461.2h.01M590.5 461.9h.01M591.5 462.0h.01M601.8 461.4h.01M602.8 461.1h.01M604.9 461.6h.01M611.9 461.7h.01M615.6 461.1h.01M625.7 461.3h.01M626.6 461.1h.01M630.2 461.7h.01M630.9 461.4h.01M634.5 461.7h.01M635.5 461.6h.01M636.6 461.9h.01M637.6 461.9h.01M641.4 461.1h.01M642.4 461.3h.01M643.1 461.7h.01M645.9 461.7h.01M645.9 461.1h.01M645.7 461.4h.01M649.0 461.7h.01M651.6 461.3h.01M652.0 461.8h.01M655.0 461.2h.01M766.9 461.6h.01M769.7 461.4h.01M778.8 461.8h.01M778.3 461.1h.01M780.4 461.6h.01M797.7 461.7h.01M819.5 461.5h.01M834.4 461.2h.01M548.5 462.2h.01M571.4 462.4h.01M580.0 463.0h.01M593.9 462.6h.01M598.6 462.5h.01M605.1 462.7h.01M609.0 462.5h.01M609.2 462.6h.01M612.8 462.4h.01M617.6 462.5h.01M622.4 462.7h.01M625.6 462.1h.01M626.9 462.4h.01M628.3 462.2h.01M629.7 462.1h.01M629.5 462.6h.01M630.5 463.0h.01M631.5 462.1h.01M633.5 462.9h.01M633.8 462.3h.01M633.4 462.2h.01M634.1 462.8h.01M635.7 463.0h.01M637.1 462.1h.01M639.4 462.5h.01M640.1 462.3h.01M641.3 462.4h.01M641.9 462.5h.01M642.7 462.7h.01M644.7 462.9h.01M646.6 462.3h.01M646.3 462.6h.01M648.9 462.3h.01M649.0 462.3h.01M649.9 462.7h.01M649.7 462.6h.01M649.5 462.4h.01M649.1 462.8h.01M651.4 462.5h.01M652.9 462.5h.01M653.6 462.1h.01M654.6 462.2h.01M655.2 462.4h.01M655.1 462.3h.01M763.6 462.2h.01M765.7 462.1h.01M771.2 462.1h.01M777.0 462.7h.01M786.2 463.0h.01M799.9 462.3h.01M802.1 462.8h.01M809.9 462.8h.01M542.0 463.9h.01M551.4 463.5h.01M595.3 463.7h.01M600.3 463.5h.01M602.4 463.2h.01M609.9 463.5h.01M617.2 463.0h.01M617.1 463.1h.01M620.6 463.8h.01M621.3 464.0h.01M621.1 463.7h.01M623.6 463.4h.01M627.1 463.3h.01M628.0 463.8h.01M628.5 463.5h.01M631.1 463.9h.01M633.5 463.6h.01M633.9 463.5h.01M636.9 463.6h.01M637.5 463.1h.01M641.9 463.8h.01M641.3 463.3h.01M642.6 463.4h.01M645.6 463.1h.01M646.5 463.3h.01M648.7 463.9h.01M652.5 463.8h.01M652.5 463.2h.01M764.6 463.7h.01M765.6 463.4h.01M766.2 463.8h.01M771.2 463.4h.01M777.3 463.1h.01M778.7 463.3h.01M781.3 463.1h.01M792.5 463.2h.01M815.4 463.4h.01M538.5 464.0h.01M546.4 464.2h.01M546.4 464.7h.01M575.7 464.7h.01M607.5 464.4h.01M610.0 464.2h.01M611.9 464.1h.01M613.5 464.3h.01M616.1 464.2h.01M621.2 464.7h.01M625.8 464.1h.01M626.8 464.4h.01M628.7 464.8h.01M629.8 464.2h.01M630.7 464.2h.01M633.8 464.9h.01M633.6 464.8h.01M635.2 464.7h.01M640.0 464.3h.01M639.2 464.8h.01M641.0 464.3h.01M642.9 464.9h.01M643.3 464.7h.01M647.1 464.1h.01M649.1 464.0h.01M651.6 464.4h.01M651.8 464.1h.01M654.0 464.1h.01M762.2 464.5h.01M762.5 464.3h.01M765.8 464.4h.01M766.5 464.9h.01M771.5 464.6h.01M772.7 464.3h.01M775.2 464.1h.01M797.8 464.4h.01M823.1 464.8h.01M556.0 465.9h.01M558.9 465.7h.01M580.9 466.0h.01M580.7 465.4h.01M581.0 465.6h.01M598.7 465.9h.01M599.7 465.7h.01M601.4 465.1h.01M605.8 465.1h.01M606.1 465.0h.01M609.3 465.6h.01M611.8 465.8h.01M611.9 465.5h.01M613.0 465.4h.01M613.3 465.5h.01M616.8 465.4h.01M618.6 465.1h.01M621.7 465.6h.01M622.6 465.4h.01M622.3 465.4h.01M631.4 465.0h.01M632.2 465.9h.01M632.6 465.1h.01M633.6 465.4h.01M636.2 465.1h.01M636.6 465.9h.01M636.7 465.1h.01M640.2 465.8h.01M644.1 465.5h.01M646.5 465.8h.01M762.5 465.9h.01M763.2 465.1h.01M764.5 465.2h.01M766.8 465.4h.01M766.7 465.5h.01M767.0 465.9h.01M767.4 465.4h.01M768.5 465.5h.01M772.2 465.7h.01M775.0 465.8h.01M776.9 465.9h.01M776.1 465.4h.01M782.7 465.4h.01M518.3 466.6h.01M535.9 466.3h.01M538.3 466.6h.01M541.2 466.8h.01M560.1 467.0h.01M576.3 466.3h.01M589.1 466.3h.01M597.3 466.9h.01M597.4 466.4h.01M599.5 466.2h.01M602.3 466.0h.01M603.0 466.2h.01M608.7 466.4h.01M609.4 466.8h.01M609.1 466.3h.01M610.7 466.1h.01M612.6 466.5h.01M619.1 466.3h.01M620.6 466.5h.01M620.9 466.7h.01M625.8 466.0h.01M626.5 466.5h.01M629.6 466.9h.01M635.2 466.1h.01M636.7 466.7h.01M763.4 466.2h.01M763.6 466.9h.01M768.7 466.6h.01M773.8 466.4h.01M779.3 466.4h.01M786.8 466.7h.01M803.4 466.9h.01M808.1 466.5h.01M533.5 467.6h.01M562.6 467.7h.01M565.1 468.0h.01M575.0 467.5h.01M575.1 467.6h.01M580.8 467.9h.01M581.7 467.5h.01M585.6 467.1h.01M586.1 467.8h.01M587.5 467.5h.01M592.8 467.9h.01M593.7 467.4h.01M598.6 467.9h.01M598.2 467.6h.01M600.3 467.7h.01M602.3 467.6h.01M602.0 467.9h.01M606.0 467.4h.01M605.8 467.8h.01M605.6 467.8h.01M606.6 467.0h.01M610.6 468.0h.01M610.3 467.4h.01M611.4 467.6h.01M613.7 467.0h.01M614.2 467.2h.01M614.6 467.9h.01M623.7 467.3h.01M623.2 468.0h.01M625.4 467.2h.01M625.5 467.7h.01M763.8 467.5h.01M764.5 467.7h.01M766.3 467.9h.01M767.7 467.7h.01M770.4 467.5h.01M774.2 467.6h.01M778.6 467.3h.01M780.3 467.6h.01M782.9 467.6h.01M853.6 467.9h.01M853.1 467.5h.01M568.7 468.1h.01M569.2 468.7h.01M570.9 468.5h.01M590.6 468.6h.01M593.4 468.1h.01M599.4 468.0h.01M601.7 468.2h.01M602.5 468.8h.01M603.6 468.3h.01M606.5 468.3h.01M607.1 468.9h.01M609.8 468.8h.01M610.8 469.0h.01M614.2 468.7h.01M617.3 468.8h.01M619.2 468.2h.01M620.9 469.0h.01M620.6 468.6h.01M623.7 468.8h.01M762.2 468.5h.01M762.4 468.8h.01M765.7 469.0h.01M778.1 468.3h.01M791.9 468.1h.01M822.7 468.2h.01M843.0 468.1h.01M561.2 469.3h.01M571.0 469.7h.01M572.5 469.7h.01M586.9 469.9h.01M588.3 469.5h.01M591.8 469.2h.01M592.1 469.1h.01M593.1 469.5h.01M594.5 469.1h.01M596.2 470.0h.01M598.0 469.9h.01M599.1 469.5h.01M599.5 469.3h.01M599.6 469.0h.01M605.2 469.8h.01M605.9 469.6h.01M606.7 469.1h.01M612.7 469.3h.01M612.1 469.4h.01M613.1 469.1h.01M614.9 469.5h.01M615.6 469.9h.01M617.5 469.7h.01M621.3 469.9h.01M623.0 469.7h.01M766.7 469.4h.01M766.5 469.4h.01M768.0 469.7h.01M769.4 469.7h.01M770.3 469.3h.01M775.0 469.7h.01M787.2 469.5h.01M822.0 469.4h.01M830.8 470.0h.01M865.6 469.8h.01M530.9 470.7h.01M531.0 470.7h.01M541.8 470.8h.01M557.0 470.7h.01M562.5 470.4h.01M565.3 470.7h.01M569.8 470.9h.01M580.5 470.7h.01M586.9 470.8h.01M586.6 470.7h.01M586.4 470.2h.01M590.1 470.9h.01M591.0 470.2h.01M595.1 470.5h.01M597.2 470.8h.01M598.9 470.2h.01M600.8 470.4h.01M614.4 470.4h.01M616.2 470.4h.01M617.6 470.3h.01M762.1 470.8h.01M764.8 471.0h.01M764.2 471.0h.01M764.7 470.1h.01M765.5 470.3h.01M767.9 470.9h.01M767.7 470.9h.01M769.3 470.5h.01M769.5 470.8h.01M773.9 470.9h.01M773.7 471.0h.01M776.9 470.4h.01M781.3 470.6h.01M791.6 470.4h.01M813.5 470.7h.01M544.7 471.5h.01M563.2 471.7h.01M567.3 471.3h.01M569.7 471.2h.01M578.4 471.8h.01M578.9 471.8h.01M580.1 471.5h.01M584.5 471.6h.01M585.4 471.2h.01M585.6 471.8h.01M586.6 471.4h.01M587.8 471.1h.01M587.1 471.6h.01M593.3 471.9h.01M598.6 471.7h.01M602.7 471.5h.01M604.6 471.8h.01M606.0 471.4h.01M610.9 471.3h.01M613.6 471.4h.01M614.0 472.0h.01M761.7 471.1h.01M763.4 471.4h.01M770.5 471.2h.01M776.1 472.0h.01M782.6 471.1h.01M782.5 471.4h.01M791.9 471.5h.01M797.6 471.6h.01M532.3 472.7h.01M552.9 472.6h.01M572.5 472.9h.01M578.6 472.2h.01M583.8 472.3h.01M586.4 472.5h.01M587.1 472.2h.01M590.5 473.0h.01M591.0 472.1h.01M593.1 472.4h.01M594.5 472.7h.01M597.8 472.6h.01M598.8 472.2h.01M598.3 472.3h.01M600.6 472.4h.01M602.4 472.9h.01M603.3 472.7h.01M603.8 472.7h.01M603.8 472.6h.01M607.1 472.7h.01M607.3 472.0h.01M608.1 472.6h.01M608.1 472.1h.01M608.0 472.6h.01M762.6 472.6h.01M763.9 472.1h.01M766.7 472.9h.01M774.9 472.6h.01M777.4 473.0h.01M777.1 472.6h.01M778.1 472.0h.01M780.3 472.9h.01M785.7 472.2h.01M826.1 472.3h.01M839.4 472.2h.01M538.9 473.9h.01M567.3 473.8h.01M568.3 473.0h.01M570.4 473.8h.01M580.0 473.0h.01M581.4 473.7h.01M582.8 474.0h.01M584.7 473.9h.01M590.5 473.2h.01M591.3 473.8h.01M592.6 473.6h.01M596.7 474.0h.01M598.1 473.8h.01M600.4 473.1h.01M601.0 473.1h.01M603.1 473.9h.01M604.4 473.4h.01M605.2 473.7h.01M607.0 473.3h.01M607.4 473.9h.01M607.6 473.2h.01M761.6 473.7h.01M766.9 473.7h.01M767.8 473.1h.01M769.7 473.7h.01M774.0 473.9h.01M781.0 473.3h.01M782.0 473.1h.01M782.7 473.3h.01M790.8 473.9h.01M795.9 473.3h.01M807.3 473.0h.01M816.0 473.7h.01M820.9 473.2h.01M517.5 474.5h.01M528.3 474.5h.01M575.1 474.8h.01M577.0 474.3h.01M579.5 474.7h.01M581.9 474.1h.01M590.6 474.7h.01M590.4 474.7h.01M594.7 474.9h.01M595.9 474.5h.01M596.9 474.3h.01M602.3 474.0h.01M603.8 474.9h.01M761.9 474.5h.01M763.0 474.9h.01M764.3 474.5h.01M765.5 474.8h.01M772.8 474.9h.01M773.5 474.2h.01M778.4 474.5h.01M779.7 474.7h.01M785.0 474.7h.01M789.1 474.3h.01M796.8 474.7h.01M816.3 474.2h.01M830.5 474.7h.01M831.1 474.6h.01M558.9 475.5h.01M562.4 475.2h.01M562.3 475.0h.01M569.9 475.7h.01M574.3 475.1h.01M577.4 475.7h.01M578.7 475.4h.01M579.3 475.7h.01M580.4 475.4h.01M585.7 475.3h.01M587.6 475.1h.01M590.3 475.4h.01M591.5 475.6h.01M592.5 475.8h.01M593.5 475.3h.01M594.1 475.7h.01M594.1 475.6h.01M595.8 475.7h.01M599.3 476.0h.01M600.2 475.2h.01M601.5 475.2h.01M765.0 475.7h.01M765.1 475.3h.01M766.5 475.5h.01M766.5 475.3h.01M766.9 475.9h.01M767.5 475.3h.01M769.2 475.5h.01M774.9 475.4h.01M783.5 475.9h.01M816.4 475.6h.01M465.3 477.0h.01M466.0 476.8h.01M522.7 476.3h.01M538.5 476.3h.01M543.1 476.8h.01M549.0 476.8h.01M560.6 476.3h.01M564.6 476.1h.01M568.8 476.9h.01M569.3 476.9h.01M570.1 476.0h.01M570.9 476.3h.01M571.7 476.2h.01M574.7 476.9h.01M576.1 476.6h.01M578.8 477.0h.01M585.2 476.2h.01M585.2 476.2h.01M586.6 476.2h.01M589.9 476.8h.01M589.8 476.2h.01M590.0 476.9h.01M590.6 476.6h.01M595.0 476.9h.01M596.8 476.5h.01M599.2 476.8h.01M599.9 476.5h.01M763.4 476.6h.01M767.5 476.2h.01M771.2 476.3h.01M785.8 476.9h.01M786.8 477.0h.01M789.0 476.6h.01M811.0 476.4h.01M830.1 476.8h.01M530.8 477.1h.01M535.4 477.8h.01M541.8 477.1h.01M546.4 477.9h.01M552.0 477.7h.01M551.0 477.0h.01M552.0 477.6h.01M562.7 477.0h.01M565.8 477.0h.01M565.7 477.7h.01M569.8 477.0h.01M574.9 477.9h.01M576.8 477.8h.01M577.3 477.3h.01M583.5 477.5h.01M584.9 477.4h.01M586.7 477.3h.01M590.8 477.3h.01M590.8 477.2h.01M591.6 477.7h.01M592.3 477.9h.01M592.5 477.6h.01M593.6 477.3h.01M594.4 477.5h.01M596.0 477.2h.01M768.1 477.5h.01M771.4 477.4h.01M771.4 477.9h.01M773.5 477.9h.01M775.0 477.1h.01M787.7 477.4h.01M792.8 477.6h.01M801.1 477.3h.01M809.7 477.3h.01M832.1 477.4h.01M489.5 478.1h.01M551.6 478.9h.01M559.2 478.6h.01M564.1 478.5h.01M571.8 478.3h.01M572.3 478.5h.01M573.5 478.3h.01M575.3 478.5h.01M576.9 478.7h.01M580.5 478.6h.01M581.9 478.1h.01M583.6 478.7h.01M585.0 478.4h.01M586.0 478.8h.01M586.1 478.6h.01M591.5 478.1h.01M592.9 478.2h.01M593.0 479.0h.01M594.7 478.4h.01M761.2 478.1h.01M762.8 478.1h.01M764.3 478.0h.01M764.1 478.6h.01M764.1 478.4h.01M766.4 478.9h.01M767.3 478.8h.01M767.7 478.2h.01M772.3 478.5h.01M775.7 478.7h.01M777.6 478.1h.01M778.5 478.4h.01M778.9 478.8h.01M783.9 478.8h.01M794.7 478.1h.01M550.4 479.4h.01M556.8 479.7h.01M560.3 479.9h.01M563.3 479.0h.01M567.2 479.2h.01M567.9 479.3h.01M567.6 479.9h.01M568.4 479.5h.01M571.9 479.2h.01M574.0 479.0h.01M574.3 479.8h.01M575.2 479.2h.01M576.3 479.7h.01M576.7 479.6h.01M579.1 479.5h.01M580.0 479.8h.01M581.7 479.4h.01M585.4 479.1h.01M585.2 479.0h.01M587.5 479.1h.01M588.5 479.8h.01M589.5 479.1h.01M589.8 479.5h.01M589.3 479.1h.01M592.1 479.5h.01M762.4 479.7h.01M765.9 479.5h.01M768.0 479.3h.01M770.4 479.8h.01M772.8 479.5h.01M775.1 479.4h.01M794.8 479.9h.01M824.9 479.4h.01M842.0 479.0h.01M511.4 480.7h.01M526.8 480.5h.01M547.9 480.2h.01M553.3 480.7h.01M557.0 480.6h.01M562.8 480.2h.01M565.3 480.8h.01M571.0 480.5h.01M572.9 480.4h.01M574.0 480.4h.01M578.1 480.5h.01M580.0 480.1h.01M581.1 480.9h.01M585.1 480.6h.01M586.2 480.6h.01M588.0 480.1h.01M588.8 480.7h.01M590.5 480.7h.01M762.4 480.4h.01M763.8 480.0h.01M764.2 480.6h.01M765.5 481.0h.01M768.3 480.8h.01M769.2 480.7h.01M773.3 480.4h.01M773.5 480.6h.01M773.5 480.5h.01M775.7 480.4h.01M777.6 480.6h.01M800.8 480.9h.01M800.6 480.5h.01M811.9 480.5h.01M508.5 481.1h.01M513.4 481.1h.01M530.8 481.2h.01M539.2 481.7h.01M542.8 481.9h.01M543.7 481.7h.01M550.3 481.1h.01M551.6 481.6h.01M551.3 481.2h.01M557.8 481.1h.01M558.2 481.8h.01M560.3 481.1h.01M565.3 481.6h.01M567.8 482.0h.01M570.2 481.0h.01M571.5 481.6h.01M575.7 481.3h.01M575.2 481.0h.01M579.7 481.8h.01M579.8 481.3h.01M579.2 481.8h.01M579.5 481.8h.01M580.9 481.1h.01M582.6 481.7h.01M583.9 481.5h.01M584.8 481.7h.01M584.2 481.9h.01M763.7 482.0h.01M764.4 481.6h.01M766.2 481.7h.01M790.0 481.8h.01M803.6 481.5h.01M501.9 482.6h.01M509.1 482.8h.01M536.2 482.3h.01M552.3 482.7h.01M560.1 482.7h.01M562.4 482.3h.01M566.1 482.1h.01M567.7 482.2h.01M569.4 482.4h.01M576.7 482.5h.01M577.1 482.3h.01M579.7 482.2h.01M581.3 482.4h.01M584.7 482.8h.01M584.7 482.7h.01M585.9 482.2h.01M586.8 482.5h.01M761.9 483.0h.01M762.5 482.9h.01M764.8 482.8h.01M769.5 482.4h.01M769.4 482.1h.01M770.8 482.8h.01M787.8 482.4h.01M462.8 483.5h.01M516.7 483.2h.01M523.5 483.8h.01M527.9 483.5h.01M527.9 483.7h.01M536.3 483.9h.01M548.5 483.3h.01M549.3 483.8h.01M551.1 483.6h.01M551.1 483.2h.01M553.6 483.5h.01M554.6 483.1h.01M555.0 483.5h.01M559.5 483.8h.01M565.4 483.5h.01M568.5 483.3h.01M569.7 483.7h.01M575.9 483.9h.01M576.0 484.0h.01M577.1 483.3h.01M578.6 483.2h.01M578.1 483.7h.01M580.0 483.7h.01M580.2 483.3h.01M586.4 483.0h.01M761.4 483.3h.01M765.1 483.1h.01M768.8 483.1h.01M772.4 483.1h.01M774.0 483.7h.01M779.0 483.9h.01M505.2 484.7h.01M505.3 484.9h.01M522.5 484.5h.01M532.8 484.3h.01M534.2 485.0h.01M535.6 484.9h.01M550.2 484.1h.01M559.1 484.1h.01M560.7 484.8h.01M565.5 484.1h.01M567.2 484.2h.01M569.1 484.9h.01M573.3 484.4h.01M575.7 484.1h.01M576.0 485.0h.01M575.4 484.4h.01M576.4 484.0h.01M577.8 485.0h.01M581.4 484.3h.01M762.4 484.3h.01M762.7 484.6h.01M762.6 484.2h.01M776.1 484.6h.01M783.7 484.7h.01M785.4 484.5h.01M809.5 484.8h.01M851.2 484.7h.01M460.8 485.6h.01M499.1 485.2h.01M524.7 485.7h.01M537.9 485.2h.01M538.8 485.1h.01M549.5 485.2h.01M549.7 485.4h.01M552.4 485.9h.01M555.2 485.1h.01M558.4 485.6h.01M560.4 485.5h.01M560.4 485.8h.01M561.0 485.4h.01M561.4 486.0h.01M564.9 485.4h.01M564.2 485.9h.01M570.3 485.3h.01M571.8 485.1h.01M573.3 485.2h.01M582.5 485.1h.01M761.9 485.7h.01M763.8 485.5h.01M763.7 485.4h.01M769.6 485.3h.01M771.2 485.6h.01M776.4 485.5h.01M778.3 485.9h.01M783.3 485.9h.01M783.6 485.4h.01M792.7 485.8h.01M801.4 486.0h.01M808.2 485.4h.01M812.0 485.8h.01M818.7 485.4h.01M472.1 486.7h.01M475.2 486.8h.01M489.6 486.8h.01M507.3 486.9h.01M526.9 486.0h.01M535.2 486.9h.01M542.8 486.3h.01M543.6 486.8h.01M544.2 487.0h.01M553.9 486.6h.01M555.7 486.6h.01M557.1 486.2h.01M559.6 486.6h.01M559.3 486.3h.01M561.9 486.4h.01M562.0 486.9h.01M565.0 486.3h.01M566.9 486.5h.01M566.5 486.0h.01M567.6 486.6h.01M571.1 486.2h.01M572.2 486.1h.01M572.7 486.5h.01M572.9 486.1h.01M576.0 486.8h.01M579.2 486.2h.01M767.7 486.9h.01M768.9 486.4h.01M776.5 486.6h.01M778.9 486.6h.01M488.9 487.3h.01M489.2 488.0h.01M501.4 488.0h.01M512.1 487.8h.01M519.8 487.6h.01M525.8 487.4h.01M528.0 487.1h.01M530.1 487.6h.01M535.2 487.4h.01M541.5 487.6h.01M544.0 487.5h.01M544.4 487.9h.01M558.9 488.0h.01M558.3 487.2h.01M566.0 487.6h.01M568.4 487.6h.01M572.3 487.3h.01M573.7 487.3h.01M575.4 487.7h.01M764.7 487.3h.01M767.0 487.7h.01M798.1 487.6h.01M806.4 487.3h.01M474.3 488.9h.01M499.8 489.0h.01M512.1 488.6h.01M517.5 488.1h.01M520.8 488.9h.01M525.1 488.8h.01M529.0 488.1h.01M531.3 488.8h.01M532.1 488.6h.01M541.3 488.2h.01M547.3 488.5h.01M548.5 488.2h.01M549.6 488.4h.01M549.2 488.7h.01M552.1 488.1h.01M555.8 488.6h.01M556.6 488.1h.01M556.0 488.2h.01M559.7 488.0h.01M564.6 488.3h.01M565.1 488.1h.01M572.0 488.5h.01M575.9 488.8h.01M761.9 488.3h.01M761.2 489.0h.01M764.5 488.1h.01M764.7 488.8h.01M770.7 488.5h.01M772.5 488.2h.01M774.9 488.1h.01M463.9 489.0h.01M469.8 489.1h.01M505.2 490.0h.01M510.1 489.1h.01M511.3 489.3h.01M512.8 489.8h.01M517.8 489.9h.01M519.3 489.3h.01M530.1 489.9h.01M536.1 489.2h.01M541.3 489.2h.01M545.5 489.7h.01M552.4 489.9h.01M560.8 489.3h.01M564.6 489.4h.01M567.4 489.8h.01M567.1 489.2h.01M572.8 489.6h.01M762.9 490.0h.01M762.9 489.4h.01M765.0 489.9h.01M771.3 489.2h.01M772.9 489.0h.01M773.4 489.9h.01M779.6 489.4h.01M783.8 489.4h.01M787.4 489.2h.01M815.0 489.6h.01M322.0 490.1h.01M327.9 490.7h.01M484.4 491.0h.01M514.1 490.7h.01M526.9 490.3h.01M526.4 490.5h.01M529.1 490.1h.01M540.9 490.2h.01M542.0 490.1h.01M541.1 490.6h.01M543.9 490.1h.01M550.2 490.1h.01M551.2 490.6h.01M556.6 490.2h.01M558.6 490.3h.01M559.8 490.9h.01M560.2 490.5h.01M561.3 490.2h.01M561.8 490.6h.01M562.1 490.2h.01M562.6 490.6h.01M566.6 490.3h.01M566.9 490.1h.01M566.1 490.6h.01M568.0 490.8h.01M567.0 490.7h.01M570.4 490.4h.01M571.2 490.6h.01M572.1 490.8h.01M762.0 490.5h.01M762.4 490.2h.01M763.6 490.1h.01M763.7 490.2h.01M764.7 490.6h.01M764.3 490.0h.01M764.7 490.6h.01M767.4 490.6h.01M768.6 490.7h.01M775.1 490.2h.01M777.1 490.3h.01M778.6 490.6h.01M879.2 490.1h.01M466.2 491.4h.01M476.1 491.9h.01M515.6 491.6h.01M517.3 491.3h.01M518.3 491.5h.01M525.2 491.6h.01M525.6 491.8h.01M525.6 491.2h.01M529.2 491.9h.01M530.6 491.1h.01M535.0 491.1h.01M534.7 491.2h.01M543.8 491.8h.01M545.1 491.7h.01M547.8 491.4h.01M547.5 491.2h.01M553.2 491.7h.01M553.8 491.2h.01M556.3 491.4h.01M560.3 491.1h.01M561.4 491.9h.01M562.0 491.5h.01M563.3 491.6h.01M564.4 491.7h.01M565.7 491.5h.01M566.6 491.7h.01M568.9 491.0h.01M761.2 491.0h.01M762.2 491.1h.01M763.5 491.8h.01M766.6 491.3h.01M767.0 491.1h.01M766.6 491.6h.01M768.2 491.3h.01M777.8 491.0h.01M785.7 491.7h.01M787.2 491.6h.01M793.6 491.5h.01M805.6 491.5h.01M516.0 492.6h.01M520.8 492.8h.01M525.0 492.3h.01M525.1 493.0h.01M526.5 492.8h.01M531.0 492.5h.01M534.5 492.2h.01M540.0 492.7h.01M541.5 492.8h.01M543.5 492.5h.01M545.0 492.7h.01M545.0 492.0h.01M547.3 492.6h.01M553.1 492.9h.01M553.8 492.1h.01M554.3 492.1h.01M562.5 492.5h.01M566.1 492.6h.01M763.3 492.4h.01M764.2 492.2h.01M767.3 492.9h.01M769.1 492.7h.01M771.8 492.2h.01M774.0 492.4h.01M781.0 492.2h.01M795.6 492.5h.01M820.8 492.7h.01M820.5 493.0h.01M484.9 493.7h.01M488.2 493.8h.01M490.3 493.4h.01M493.5 493.3h.01M493.8 493.2h.01M506.5 493.4h.01M514.4 493.8h.01M521.8 493.9h.01M528.7 493.6h.01M533.6 493.8h.01M535.7 493.3h.01M539.7 493.0h.01M543.0 493.6h.01M547.3 493.6h.01M548.0 493.4h.01M548.4 493.9h.01M552.8 493.7h.01M552.7 493.6h.01M554.1 493.9h.01M557.7 493.7h.01M560.0 493.2h.01M559.2 493.4h.01M560.3 493.7h.01M563.2 493.9h.01M565.8 493.9h.01M761.4 493.6h.01M764.1 493.1h.01M766.8 493.7h.01M768.1 493.9h.01M771.6 493.6h.01M778.6 493.2h.01M799.9 493.0h.01M812.2 493.1h.01M466.1 494.6h.01M489.1 494.3h.01M516.8 494.4h.01M526.2 494.1h.01M526.3 494.1h.01M527.0 494.5h.01M531.4 494.5h.01M538.0 494.7h.01M538.8 494.1h.01M540.1 494.4h.01M540.0 494.2h.01M542.2 494.4h.01M543.5 494.7h.01M543.6 494.7h.01M545.0 494.4h.01M546.8 494.6h.01M546.4 494.5h.01M548.7 494.5h.01M548.0 494.1h.01M549.1 494.3h.01M549.9 494.9h.01M549.6 494.6h.01M550.1 494.9h.01M551.0 494.3h.01M551.4 494.7h.01M551.9 494.0h.01M552.3 494.9h.01M553.6 494.1h.01M553.2 494.9h.01M555.5 494.9h.01M557.0 494.6h.01M559.1 494.6h.01M559.8 494.6h.01M762.7 494.3h.01M763.1 494.3h.01M763.6 494.8h.01M764.2 494.7h.01M765.6 494.3h.01M766.4 494.9h.01M767.8 494.4h.01M768.5 494.8h.01M768.1 494.4h.01M770.4 494.9h.01M770.3 494.9h.01M771.7 495.0h.01M772.0 494.7h.01M772.6 494.8h.01M778.1 494.5h.01M811.8 495.0h.01M323.0 495.2h.01M325.5 495.8h.01M431.0 495.4h.01M450.1 495.1h.01M496.5 495.2h.01M506.2 495.3h.01M518.2 495.7h.01M520.1 495.8h.01M521.9 495.8h.01M521.5 495.2h.01M525.0 495.6h.01M526.4 495.6h.01M538.5 495.2h.01M538.5 495.9h.01M541.7 495.9h.01M541.0 495.6h.01M545.3 495.9h.01M546.2 495.3h.01M547.6 495.5h.01M551.3 495.0h.01M552.2 495.4h.01M552.6 495.6h.01M553.8 495.4h.01M553.5 495.1h.01M554.6 495.3h.01M762.6 495.6h.01M765.5 495.8h.01M765.0 495.2h.01M770.0 495.2h.01M771.7 495.9h.01M789.8 495.3h.01M805.2 495.8h.01M319.9 496.8h.01M324.9 496.3h.01M427.3 496.5h.01M466.6 496.1h.01M476.1 496.0h.01M499.0 496.4h.01M502.1 496.6h.01M517.6 496.1h.01M517.8 496.7h.01M522.8 497.0h.01M525.8 496.7h.01M529.9 496.4h.01M530.2 496.3h.01M536.4 496.1h.01M536.3 496.0h.01M538.5 496.5h.01M540.6 496.0h.01M542.0 496.7h.01M546.2 496.8h.01M555.9 496.2h.01M556.8 496.8h.01M556.4 496.6h.01M761.4 496.0h.01M762.3 496.4h.01M765.9 496.8h.01M768.9 496.5h.01M776.4 496.3h.01M776.2 496.8h.01M777.1 496.7h.01M784.4 496.0h.01M784.5 496.2h.01M802.1 496.5h.01M476.5 497.2h.01M477.8 497.1h.01M485.9 497.7h.01M493.3 497.8h.01M506.1 497.6h.01M507.0 497.9h.01M511.0 497.8h.01M511.4 497.5h.01M517.6 498.0h.01M518.6 497.3h.01M521.5 497.0h.01M523.2 497.7h.01M524.9 497.0h.01M524.6 497.0h.01M525.8 497.7h.01M526.5 498.0h.01M527.4 497.4h.01M528.4 498.0h.01M531.9 497.5h.01M531.3 497.1h.01M532.7 497.8h.01M532.8 497.3h.01M535.4 497.2h.01M535.9 497.6h.01M536.4 497.5h.01M537.8 497.2h.01M545.4 497.8h.01M552.0 497.7h.01M553.9 497.2h.01M761.5 497.7h.01M763.8 497.1h.01M763.4 497.2h.01M763.7 497.1h.01M766.3 497.3h.01M767.1 497.7h.01M775.1 497.9h.01M815.1 497.7h.01M327.8 498.9h.01M333.5 498.9h.01M436.0 498.0h.01M442.9 498.1h.01M479.7 498.6h.01M507.2 498.4h.01M513.8 498.9h.01M514.8 498.9h.01M517.9 498.2h.01M518.7 498.2h.01M519.1 498.3h.01M522.2 498.5h.01M523.4 498.6h.01M524.1 498.7h.01M526.1 498.0h.01M532.5 498.7h.01M533.9 499.0h.01M535.5 498.3h.01M541.1 498.3h.01M541.4 498.6h.01M542.4 498.4h.01M547.4 498.5h.01M547.9 498.4h.01M549.2 498.6h.01M550.8 498.7h.01M550.9 498.5h.01M763.5 498.1h.01M764.8 498.4h.01M764.3 498.2h.01M765.8 498.9h.01M768.6 498.9h.01M774.3 498.6h.01M780.9 498.7h.01M783.1 498.2h.01M792.7 498.5h.01M315.2 499.8h.01M420.7 499.7h.01M463.8 499.8h.01M467.0 499.2h.01M470.1 499.9h.01M485.8 499.6h.01M487.5 499.9h.01M496.6 499.6h.01M502.4 499.7h.01M508.2 499.3h.01M510.1 499.5h.01M512.9 499.2h.01M514.7 499.5h.01M517.6 499.5h.01M523.2 499.6h.01M523.7 499.5h.01M523.1 499.5h.01M524.5 499.4h.01M529.6 499.3h.01M530.4 499.5h.01M531.3 499.7h.01M532.7 499.2h.01M535.0 499.0h.01M535.5 499.6h.01M537.0 499.5h.01M537.0 499.1h.01M543.7 499.5h.01M544.6 500.0h.01M544.5 499.9h.01M547.1 499.7h.01M548.6 499.3h.01M551.0 499.5h.01M761.0 499.0h.01M763.2 499.6h.01M763.2 499.3h.01M765.6 499.5h.01M769.8 499.7h.01M773.1 499.4h.01M784.6 499.9h.01M798.1 499.7h.01M863.8 500.0h.01M322.2 500.4h.01M330.6 500.4h.01M429.1 500.0h.01M431.4 501.0h.01M435.2 500.1h.01M439.0 500.3h.01M466.9 500.9h.01M477.1 500.6h.01M478.9 500.1h.01M492.6 500.6h.01M493.1 500.7h.01M495.0 500.4h.01M495.7 500.1h.01M497.0 500.4h.01M498.2 500.7h.01M498.8 500.5h.01M502.6 500.3h.01M505.9 500.7h.01M505.5 500.6h.01M514.6 500.5h.01M519.3 500.6h.01M521.6 500.5h.01M521.7 500.8h.01M522.5 500.4h.01M522.4 500.3h.01M524.4 500.6h.01M527.2 500.1h.01M531.1 500.8h.01M533.5 500.8h.01M533.6 500.7h.01M533.9 500.6h.01M536.0 500.8h.01M541.3 500.3h.01M541.4 500.8h.01M541.3 500.4h.01M542.8 500.3h.01M545.6 500.8h.01M545.0 500.5h.01M547.0 500.9h.01M546.1 500.6h.01M548.8 500.4h.01M760.3 500.1h.01M761.8 500.5h.01M763.6 500.6h.01M780.9 500.5h.01M783.5 500.8h.01M334.4 501.5h.01M442.6 501.2h.01M466.5 501.6h.01M476.4 501.5h.01M480.0 501.9h.01M490.8 501.7h.01M495.1 501.3h.01M499.1 501.9h.01M501.0 501.1h.01M504.8 501.5h.01M509.2 501.2h.01M512.3 501.9h.01M512.3 501.9h.01M514.2 501.1h.01M518.8 501.3h.01M521.3 501.6h.01M523.1 501.3h.01M524.5 501.6h.01M525.1 501.7h.01M527.7 501.8h.01M527.4 501.1h.01M530.2 501.3h.01M530.3 501.6h.01M535.0 501.7h.01M535.8 501.7h.01M760.1 501.2h.01M761.1 501.0h.01M762.5 501.7h.01M779.0 501.0h.01M784.6 501.8h.01M795.7 501.7h.01M815.2 501.2h.01M335.1 502.9h.01M432.3 502.3h.01M482.8 502.3h.01M489.7 502.3h.01M492.0 502.1h.01M492.0 502.7h.01M499.0 503.0h.01M502.3 502.4h.01M504.2 502.0h.01M504.9 502.4h.01M506.5 502.3h.01M506.5 502.2h.01M515.8 502.5h.01M523.4 502.1h.01M523.8 502.3h.01M524.2 502.5h.01M524.4 502.3h.01M534.8 502.9h.01M535.2 502.1h.01M537.5 502.4h.01M541.1 502.5h.01M541.3 502.2h.01M542.5 502.3h.01M542.3 502.5h.01M543.1 503.0h.01M545.6 502.8h.01M761.1 502.3h.01M763.0 502.6h.01M766.7 502.0h.01M778.4 502.8h.01M790.9 502.3h.01M808.5 502.4h.01M849.0 503.0h.01M328.3 503.2h.01M463.6 503.8h.01M469.9 503.3h.01M474.5 503.6h.01M483.7 503.9h.01M486.0 503.5h.01M494.2 503.9h.01M496.0 503.8h.01M498.2 503.8h.01M499.4 503.6h.01M500.6 503.2h.01M519.4 503.4h.01M521.7 503.8h.01M521.3 503.0h.01M522.6 503.5h.01M523.0 503.0h.01M523.3 503.4h.01M524.6 503.6h.01M525.6 503.7h.01M525.5 503.3h.01M528.8 503.8h.01M530.0 503.6h.01M529.6 503.7h.01M537.3 503.6h.01M539.6 503.7h.01M541.5 503.2h.01M541.4 503.2h.01M541.5 503.4h.01M764.1 503.4h.01M765.7 503.2h.01M766.6 503.7h.01M766.6 503.2h.01M769.1 503.6h.01M771.6 503.9h.01M783.6 503.8h.01M327.2 504.2h.01M331.5 504.6h.01M424.2 504.9h.01M438.6 504.9h.01M462.3 504.5h.01M478.1 504.1h.01M478.6 504.7h.01M480.0 504.7h.01M486.7 505.0h.01M488.5 504.7h.01M489.2 504.0h.01M490.2 504.4h.01M491.2 504.3h.01M496.0 504.1h.01M496.5 504.2h.01M501.2 504.6h.01M511.2 504.5h.01M512.5 504.2h.01M513.1 504.4h.01M515.7 504.7h.01M516.6 504.2h.01M518.1 504.8h.01M518.9 505.0h.01M519.0 504.4h.01M521.2 504.4h.01M523.0 504.4h.01M528.7 504.5h.01M529.4 504.9h.01M529.2 504.1h.01M530.4 504.2h.01M530.2 504.4h.01M532.9 504.7h.01M534.4 504.5h.01M537.6 504.9h.01M761.1 504.1h.01M765.3 504.1h.01M765.8 504.3h.01M766.9 505.0h.01M772.5 504.6h.01M779.3 504.9h.01M787.9 504.8h.01M809.2 504.1h.01M820.2 504.3h.01M453.5 505.6h.01M482.5 505.8h.01M486.4 505.6h.01M496.0 505.4h.01M499.5 505.5h.01M503.0 505.5h.01M502.0 505.7h.01M503.4 505.1h.01M503.7 505.8h.01M504.5 505.7h.01M505.3 505.7h.01M510.5 505.9h.01M510.8 505.3h.01M511.3 505.9h.01M512.5 505.5h.01M513.4 505.5h.01M513.7 505.0h.01M515.9 505.8h.01M517.3 505.3h.01M517.4 506.0h.01M518.8 506.0h.01M519.5 505.4h.01M521.8 505.2h.01M523.4 505.3h.01M525.7 505.3h.01M527.8 505.3h.01M530.5 505.4h.01M533.9 505.6h.01M759.9 505.1h.01M761.4 506.0h.01M763.1 505.2h.01M764.4 505.1h.01M764.8 505.4h.01M767.0 505.0h.01M771.8 505.2h.01M771.6 505.3h.01M775.7 505.7h.01M782.4 505.9h.01M323.3 506.1h.01M328.5 506.2h.01M470.4 506.9h.01M473.0 506.5h.01M472.9 506.2h.01M478.7 506.4h.01M479.4 506.2h.01M486.3 506.5h.01M491.5 506.5h.01M496.9 506.4h.01M496.9 506.1h.01M500.2 506.8h.01M500.6 506.5h.01M503.4 506.2h.01M505.2 506.1h.01M505.9 506.7h.01M507.2 506.5h.01M508.1 506.6h.01M511.2 506.6h.01M512.0 506.1h.01M513.1 506.4h.01M515.2 506.8h.01M520.2 506.9h.01M520.4 506.1h.01M524.8 506.7h.01M526.5 506.1h.01M527.8 506.2h.01M530.9 506.9h.01M530.8 506.3h.01M531.2 506.7h.01M759.3 506.6h.01M759.5 506.2h.01M760.2 506.1h.01M762.0 507.0h.01M763.9 506.7h.01M772.6 506.2h.01M777.8 506.6h.01M789.9 506.7h.01M330.1 507.9h.01M420.3 507.2h.01M425.2 507.7h.01M452.8 507.9h.01M457.8 507.0h.01M458.3 507.5h.01M477.3 508.0h.01M477.6 507.9h.01M483.5 507.9h.01M484.1 507.8h.01M489.7 507.6h.01M489.8 507.4h.01M493.8 507.0h.01M496.5 507.6h.01M497.5 507.1h.01M497.7 507.5h.01M501.5 507.9h.01M503.6 508.0h.01M506.0 507.6h.01M509.4 507.7h.01M510.8 507.3h.01M513.4 507.0h.01M514.5 507.5h.01M515.0 507.1h.01M515.5 507.8h.01M519.5 507.1h.01M523.0 507.7h.01M523.0 507.2h.01M525.9 507.4h.01M759.3 507.5h.01M760.4 507.3h.01M761.8 507.0h.01M768.1 507.5h.01M769.9 507.4h.01M771.1 507.4h.01M773.5 507.7h.01M774.2 507.4h.01M776.4 507.2h.01M796.0 507.0h.01M817.0 507.0h.01M438.4 508.7h.01M474.0 508.1h.01M475.9 509.0h.01M477.4 508.0h.01M477.2 508.5h.01M478.4 508.3h.01M482.3 508.2h.01M485.9 508.8h.01M488.1 508.4h.01M492.4 508.3h.01M498.6 508.8h.01M500.2 508.9h.01M502.5 508.7h.01M504.8 508.5h.01M504.4 509.0h.01M508.0 508.4h.01M509.4 508.7h.01M515.3 508.6h.01M516.9 508.9h.01M516.7 508.4h.01M517.1 508.9h.01M518.6 508.8h.01M523.3 508.8h.01M524.5 508.1h.01M760.3 508.8h.01M762.1 508.6h.01M762.7 508.9h.01M762.9 508.4h.01M764.6 508.6h.01M765.3 508.5h.01M768.8 508.5h.01M773.1 508.1h.01M783.7 508.0h.01M784.9 508.4h.01M848.1 508.6h.01M424.2 509.9h.01M433.7 509.7h.01M449.7 509.3h.01M458.6 509.4h.01M480.9 509.8h.01M483.1 509.9h.01M486.3 509.7h.01M486.4 509.3h.01M486.1 509.2h.01M489.0 509.7h.01M489.3 509.7h.01M492.7 509.8h.01M493.4 509.1h.01M497.4 510.0h.01M499.8 509.5h.01M501.0 509.3h.01M504.7 509.3h.01M509.9 509.8h.01M510.1 509.9h.01M517.3 509.7h.01M518.4 509.2h.01M518.7 510.0h.01M521.7 509.5h.01M759.1 509.7h.01M761.0 509.5h.01M762.4 509.8h.01M766.3 509.5h.01M768.5 509.8h.01M769.3 509.2h.01M775.8 509.1h.01M778.7 509.3h.01M813.3 509.9h.01M813.9 509.3h.01M322.8 510.9h.01M430.3 510.0h.01M435.6 510.4h.01M454.5 510.4h.01M454.7 510.3h.01M477.0 510.1h.01M479.5 510.1h.01M484.9 510.8h.01M484.4 510.5h.01M491.0 510.9h.01M492.2 510.3h.01M496.8 510.3h.01M498.8 511.0h.01M498.9 510.1h.01M500.9 510.5h.01M500.7 510.6h.01M502.9 510.0h.01M506.6 510.8h.01M508.1 510.8h.01M508.7 510.1h.01M513.9 510.3h.01M517.1 510.7h.01M765.8 510.5h.01M767.0 510.7h.01M770.9 510.7h.01M776.8 510.3h.01M780.9 510.3h.01M783.1 510.9h.01M784.4 510.9h.01M786.5 510.2h.01M803.0 510.5h.01M327.6 511.6h.01M431.3 512.0h.01M463.8 511.5h.01M467.1 511.1h.01M472.4 511.0h.01M475.4 512.0h.01M479.7 511.2h.01M481.9 512.0h.01M481.8 511.2h.01M485.0 511.3h.01M488.1 511.5h.01M489.7 511.3h.01M493.6 511.2h.01M495.7 512.0h.01M496.0 511.7h.01M498.9 511.5h.01M500.6 511.1h.01M500.3 511.5h.01M500.2 511.7h.01M501.4 511.6h.01M503.5 511.0h.01M504.7 511.1h.01M510.3 511.8h.01M510.3 511.5h.01M511.3 511.2h.01M511.8 511.1h.01M511.5 511.5h.01M512.5 511.5h.01M516.2 511.6h.01M760.0 511.7h.01M764.5 511.8h.01M764.4 511.2h.01M765.1 511.2h.01M766.0 511.5h.01M321.6 512.6h.01M445.0 512.5h.01M456.7 512.3h.01M461.2 512.1h.01M475.5 512.2h.01M480.9 512.6h.01M480.5 512.9h.01M486.8 512.5h.01M488.7 512.2h.01M489.8 512.4h.01M489.4 512.5h.01M491.0 512.1h.01M492.7 512.7h.01M493.3 512.9h.01M493.7 512.8h.01M495.9 512.1h.01M496.0 513.0h.01M502.9 512.1h.01M503.9 512.8h.01M503.7 512.8h.01M506.1 512.2h.01M507.4 512.3h.01M510.2 512.0h.01M510.1 512.6h.01M511.0 512.8h.01M512.0 512.9h.01M762.1 512.6h.01M762.8 513.0h.01M764.6 512.0h.01M766.2 513.0h.01M766.7 512.8h.01M774.8 512.8h.01M783.2 512.9h.01M786.5 512.5h.01M810.4 512.5h.01M322.0 513.2h.01M326.7 513.1h.01M448.8 513.2h.01M466.7 513.5h.01M477.8 513.9h.01M484.6 513.4h.01M488.6 513.2h.01M488.8 513.9h.01M488.9 513.4h.01M489.8 513.9h.01M490.2 513.4h.01M490.8 513.8h.01M490.9 513.9h.01M494.9 513.3h.01M495.3 513.1h.01M502.6 513.1h.01M502.5 513.5h.01M504.5 513.2h.01M504.9 513.5h.01M506.1 513.5h.01M506.6 513.2h.01M507.1 513.3h.01M509.5 513.4h.01M510.6 513.1h.01M761.8 513.7h.01M762.4 513.8h.01M767.1 513.2h.01M780.9 513.9h.01M790.1 513.1h.01M801.0 513.2h.01M322.0 514.3h.01M332.6 514.5h.01M337.8 514.7h.01M459.9 514.5h.01M468.9 514.8h.01M472.1 514.1h.01M478.1 514.9h.01M481.1 514.5h.01M483.7 514.3h.01M489.0 514.7h.01M488.8 514.1h.01M489.1 514.4h.01M491.0 514.1h.01M491.9 514.4h.01M503.0 514.9h.01M503.4 514.4h.01M506.9 514.9h.01M507.3 514.7h.01M759.1 514.1h.01M760.6 514.1h.01M762.2 514.3h.01M762.6 514.9h.01M764.6 514.3h.01M769.0 514.5h.01M773.0 514.0h.01M866.8 514.2h.01M334.1 515.4h.01M337.5 515.1h.01M428.3 515.4h.01M435.2 515.5h.01M444.3 515.5h.01M449.7 515.0h.01M452.7 515.8h.01M468.3 515.2h.01M470.6 515.8h.01M470.3 515.7h.01M471.7 516.0h.01M477.3 515.4h.01M481.7 515.5h.01M483.3 515.3h.01M483.3 515.6h.01M484.4 515.1h.01M485.7 515.2h.01M486.0 515.6h.01M488.9 515.7h.01M489.3 515.2h.01M490.1 515.8h.01M491.4 515.9h.01M494.4 515.8h.01M495.8 515.8h.01M496.8 515.2h.01M500.6 515.9h.01M500.3 515.4h.01M759.4 515.4h.01M759.8 515.2h.01M759.8 515.1h.01M760.1 515.1h.01M760.3 515.1h.01M761.4 515.4h.01M761.1 515.4h.01M763.9 515.9h.01M763.9 515.2h.01M763.5 515.1h.01M763.3 515.4h.01M764.3 515.3h.01M771.6 515.7h.01M771.5 515.3h.01M805.6 515.2h.01M837.9 515.5h.01M852.3 515.2h.01M328.4 516.5h.01M371.1 516.8h.01M424.5 516.2h.01M428.3 516.6h.01M438.1 516.1h.01M438.7 516.4h.01M463.6 516.5h.01M476.0 516.5h.01M477.7 517.0h.01M480.6 517.0h.01M483.2 516.2h.01M484.0 516.8h.01M484.9 516.4h.01M485.9 516.2h.01M490.1 516.7h.01M490.9 516.2h.01M491.2 516.2h.01M491.6 516.5h.01M491.1 516.5h.01M494.8 516.2h.01M496.9 516.7h.01M497.8 516.6h.01M498.0 516.7h.01M498.8 516.0h.01M764.8 516.9h.01M772.2 516.9h.01M774.6 516.8h.01M776.4 516.7h.01M782.1 516.1h.01M785.6 516.1h.01M787.5 516.6h.01M880.9 516.6h.01M321.5 517.8h.01M377.6 517.6h.01M451.9 517.3h.01M461.7 517.3h.01M463.8 517.5h.01M466.7 517.5h.01M475.3 517.8h.01M477.6 517.8h.01M480.2 517.7h.01M482.3 517.1h.01M483.8 517.0h.01M488.8 517.4h.01M491.8 517.3h.01M491.2 517.0h.01M494.7 517.2h.01M494.3 517.6h.01M759.1 517.3h.01M760.7 518.0h.01M761.3 517.0h.01M762.5 517.1h.01M762.2 517.2h.01M765.1 517.3h.01M766.7 517.0h.01M767.0 518.0h.01M778.0 517.5h.01M783.1 517.1h.01M785.0 517.9h.01M808.7 517.9h.01M851.8 517.9h.01M304.2 518.1h.01M429.6 518.9h.01M458.7 518.2h.01M470.8 518.4h.01M470.9 518.2h.01M474.9 518.6h.01M479.7 518.8h.01M481.8 518.8h.01M481.2 518.4h.01M481.7 518.9h.01M482.1 518.9h.01M482.6 518.4h.01M486.8 518.6h.01M490.6 518.4h.01M490.5 518.4h.01M492.3 518.3h.01M761.9 518.3h.01M766.0 519.0h.01M767.2 518.5h.01M767.9 518.1h.01M772.8 518.4h.01M429.8 519.9h.01M430.6 519.8h.01M463.1 519.1h.01M464.8 519.4h.01M468.9 519.2h.01M473.4 519.4h.01M475.8 519.1h.01M475.8 519.1h.01M476.8 519.4h.01M476.8 519.9h.01M477.4 519.1h.01M480.0 519.7h.01M483.0 519.5h.01M488.8 519.3h.01M488.7 519.9h.01M489.8 519.2h.01M490.6 519.8h.01M758.0 519.7h.01M759.6 519.7h.01M760.3 519.8h.01M760.2 519.9h.01M765.9 519.0h.01M765.1 519.3h.01M767.9 519.7h.01M768.0 519.5h.01M768.2 519.6h.01M775.6 519.5h.01M786.0 519.2h.01M791.1 519.1h.01M316.4 520.5h.01M322.4 520.8h.01M322.4 520.2h.01M429.2 520.3h.01M431.4 520.9h.01M463.3 520.9h.01M466.4 520.9h.01M468.0 520.7h.01M471.4 520.1h.01M472.0 520.6h.01M472.1 520.0h.01M474.5 520.2h.01M479.7 521.0h.01M481.1 520.6h.01M482.9 520.6h.01M483.3 520.9h.01M485.2 520.8h.01M486.7 520.5h.01M487.3 520.4h.01M758.3 520.8h.01M759.5 520.9h.01M760.8 520.0h.01M761.8 520.3h.01M761.1 520.8h.01M764.6 520.7h.01M765.0 520.5h.01M769.1 520.1h.01M780.9 520.1h.01M784.3 520.4h.01M789.2 520.7h.01M791.7 520.8h.01M797.3 520.9h.01M838.3 520.8h.01M322.3 521.4h.01M321.9 521.3h.01M328.3 521.9h.01M330.3 521.9h.01M420.5 521.2h.01M447.7 521.6h.01M453.5 521.1h.01M463.5 521.4h.01M464.6 521.0h.01M469.5 521.2h.01M471.6 521.3h.01M471.1 522.0h.01M472.3 521.1h.01M472.3 521.5h.01M473.1 521.0h.01M474.6 522.0h.01M475.4 521.1h.01M477.4 521.6h.01M484.3 521.2h.01M485.4 521.4h.01M487.9 521.1h.01M488.5 521.2h.01M760.6 521.6h.01M761.1 522.0h.01M762.5 521.0h.01M763.8 521.3h.01M763.8 521.4h.01M770.6 521.9h.01M773.0 521.3h.01M781.9 522.0h.01M791.5 521.2h.01M816.3 521.2h.01M853.5 521.5h.01M876.1 521.4h.01M315.2 522.1h.01M317.2 522.3h.01M320.4 522.8h.01M324.2 522.1h.01M330.4 522.2h.01M333.8 522.7h.01M423.2 522.0h.01M435.6 522.2h.01M442.1 522.5h.01M462.4 522.1h.01M464.0 522.8h.01M464.4 522.1h.01M467.3 522.5h.01M468.6 522.2h.01M470.0 522.8h.01M470.4 522.6h.01M473.5 522.9h.01M473.7 522.2h.01M473.0 522.2h.01M476.5 522.8h.01M478.1 522.0h.01M479.4 522.5h.01M481.1 522.8h.01M486.6 522.2h.01M758.6 522.2h.01M758.4 522.3h.01M760.5 522.5h.01M762.7 522.3h.01M764.0 522.2h.01M770.6 523.0h.01M771.5 522.8h.01M782.1 522.0h.01M785.1 522.8h.01M786.5 522.2h.01M825.6 522.9h.01M875.1 522.2h.01M311.4 523.2h.01M328.3 523.4h.01M327.0 523.7h.01M330.7 523.5h.01M434.2 523.4h.01M451.1 523.8h.01M455.0 523.4h.01M456.8 523.3h.01M463.4 523.7h.01M469.8 523.4h.01M471.3 523.1h.01M473.9 523.6h.01M474.9 523.5h.01M475.8 523.2h.01M480.7 524.0h.01M481.9 523.7h.01M483.9 523.8h.01M761.7 523.6h.01M764.8 523.6h.01M766.6 523.8h.01M766.0 523.1h.01M770.0 523.6h.01M852.2 523.1h.01M322.7 524.1h.01M327.8 525.0h.01M382.4 524.3h.01M446.7 524.2h.01M446.2 524.3h.01M453.3 524.3h.01M457.1 524.4h.01M467.3 524.2h.01M473.7 524.8h.01M475.5 525.0h.01M476.9 524.7h.01M483.1 524.9h.01M760.3 524.7h.01M762.2 524.6h.01M762.8 524.3h.01M763.2 524.9h.01M764.3 524.9h.01M777.1 524.4h.01M839.5 524.8h.01M325.9 525.8h.01M327.9 525.4h.01M372.0 525.1h.01M445.7 525.1h.01M464.0 525.9h.01M465.9 525.1h.01M468.5 525.4h.01M468.6 525.1h.01M469.1 525.5h.01M469.5 525.4h.01M471.8 525.7h.01M471.4 525.2h.01M481.7 525.7h.01M481.5 525.9h.01M481.6 525.4h.01M483.6 525.0h.01M757.6 525.3h.01M761.0 525.6h.01M763.0 525.7h.01M765.8 525.9h.01M767.8 525.9h.01M768.6 525.1h.01M777.9 525.9h.01M782.2 525.2h.01M784.9 525.0h.01M791.4 525.7h.01M794.4 525.7h.01M794.3 525.5h.01M819.1 525.1h.01M323.7 526.3h.01M327.5 526.4h.01M451.1 526.8h.01M459.6 526.7h.01M460.0 526.6h.01M462.8 526.4h.01M469.6 526.3h.01M470.3 526.4h.01M471.8 526.2h.01M474.2 526.4h.01M474.2 526.4h.01M478.2 526.5h.01M479.3 526.1h.01M481.8 526.3h.01M762.0 526.1h.01M763.0 526.7h.01M765.8 526.8h.01M766.5 526.2h.01M766.7 526.4h.01M770.9 526.8h.01M776.3 526.9h.01M784.8 526.1h.01M788.2 526.5h.01M328.3 527.8h.01M331.0 527.9h.01M376.2 527.9h.01M424.1 527.9h.01M434.8 527.4h.01M440.5 527.7h.01M454.5 527.1h.01M455.3 528.0h.01M458.6 527.8h.01M469.7 527.7h.01M470.1 527.5h.01M472.6 527.1h.01M472.4 527.7h.01M472.5 527.0h.01M473.2 527.0h.01M474.2 527.6h.01M478.9 527.8h.01M757.4 527.2h.01M761.5 527.2h.01M761.1 527.7h.01M762.6 527.7h.01M765.4 527.7h.01M768.9 527.7h.01M769.4 527.5h.01M771.9 527.3h.01M772.8 527.9h.01M776.7 527.9h.01M778.2 527.1h.01M779.3 527.1h.01M788.5 527.5h.01M795.5 527.5h.01M830.7 527.8h.01M314.7 528.1h.01M314.7 528.6h.01M423.9 528.5h.01M429.8 528.9h.01M457.6 528.9h.01M466.3 528.9h.01M468.9 528.2h.01M468.8 528.1h.01M471.2 528.8h.01M475.7 529.0h.01M757.3 528.9h.01M758.4 528.6h.01M758.3 528.7h.01M760.2 528.8h.01M763.8 528.7h.01M763.7 528.9h.01M763.4 528.5h.01M769.7 528.7h.01M780.5 528.9h.01M784.5 528.7h.01M791.3 528.8h.01M803.5 528.7h.01M866.7 528.6h.01M879.6 528.8h.01M318.8 529.6h.01M423.9 529.5h.01M438.1 529.6h.01M449.8 529.7h.01M449.3 529.6h.01M460.5 529.9h.01M462.3 529.8h.01M465.7 529.9h.01M466.1 529.9h.01M469.7 529.2h.01M475.3 529.3h.01M476.3 529.1h.01M757.7 529.3h.01M760.0 529.4h.01M759.5 529.4h.01M762.2 529.9h.01M762.5 530.0h.01M763.8 529.3h.01M765.3 529.5h.01M314.4 530.9h.01M321.6 530.2h.01M325.3 530.3h.01M328.3 530.4h.01M334.8 530.8h.01M427.6 530.3h.01M440.7 530.6h.01M443.8 531.0h.01M451.1 530.7h.01M462.5 530.6h.01M466.3 530.4h.01M467.0 530.7h.01M469.3 530.6h.01M472.6 530.5h.01M476.9 530.2h.01M477.8 530.3h.01M759.6 530.0h.01M761.7 530.0h.01M762.5 530.8h.01M765.1 530.3h.01M767.2 530.8h.01M771.9 530.1h.01M772.1 530.4h.01M774.9 530.0h.01M794.4 530.2h.01M804.2 530.2h.01M323.1 531.3h.01M431.3 531.1h.01M431.4 531.6h.01M438.0 532.0h.01M460.0 531.2h.01M462.2 531.7h.01M463.2 532.0h.01M464.1 531.6h.01M466.7 531.5h.01M468.5 531.1h.01M469.2 531.8h.01M470.5 531.3h.01M470.1 531.8h.01M472.5 531.2h.01M472.8 531.2h.01M474.3 531.8h.01M477.0 531.8h.01M763.9 531.9h.01M763.8 531.3h.01M763.6 531.1h.01M767.5 531.8h.01M775.8 531.8h.01M776.1 531.7h.01M788.6 531.9h.01M788.3 531.2h.01M325.7 532.2h.01M326.4 532.8h.01M434.9 532.4h.01M434.6 532.4h.01M452.5 533.0h.01M453.6 532.3h.01M454.1 532.2h.01M458.0 532.5h.01M461.2 533.0h.01M462.8 532.9h.01M463.3 532.5h.01M463.8 532.5h.01M464.7 532.1h.01M465.7 532.0h.01M467.4 532.9h.01M468.5 532.8h.01M471.3 532.6h.01M471.5 532.4h.01M471.9 532.3h.01M474.6 532.0h.01M756.5 533.0h.01M756.4 532.5h.01M758.9 532.5h.01M762.4 532.6h.01M763.8 532.8h.01M763.9 532.8h.01M765.9 532.4h.01M781.2 532.9h.01M786.8 532.3h.01M788.3 532.5h.01M796.3 532.3h.01M807.7 532.2h.01M865.7 532.1h.01M320.9 533.1h.01M336.5 533.9h.01M382.4 533.6h.01M448.5 533.2h.01M460.7 533.8h.01M464.7 533.1h.01M467.1 533.4h.01M470.1 533.6h.01M470.1 533.7h.01M758.2 533.0h.01M760.9 533.1h.01M768.3 533.6h.01M769.6 533.8h.01M772.7 533.9h.01M773.5 533.5h.01M776.3 533.6h.01M810.7 533.2h.01M865.9 533.5h.01M318.0 534.2h.01M331.8 534.5h.01M334.9 534.4h.01M423.8 534.8h.01M424.5 534.6h.01M427.3 534.0h.01M434.3 534.7h.01M435.5 534.1h.01M438.7 534.6h.01M443.0 534.5h.01M447.1 534.5h.01M449.4 534.9h.01M449.7 534.6h.01M460.6 534.5h.01M463.7 534.2h.01M465.0 534.3h.01M465.0 534.6h.01M466.8 534.3h.01M466.3 534.2h.01M469.2 534.0h.01M472.2 534.0h.01M473.8 534.0h.01M474.4 534.0h.01M757.9 534.4h.01M762.9 535.0h.01M774.4 534.7h.01M778.0 534.2h.01M781.9 534.7h.01M818.7 534.2h.01M845.5 534.4h.01M307.2 535.3h.01M322.3 535.8h.01M323.3 535.7h.01M324.8 535.3h.01M426.3 535.6h.01M428.7 535.7h.01M446.9 536.0h.01M461.3 535.7h.01M462.8 535.1h.01M465.0 536.0h.01M466.3 535.4h.01M470.0 535.9h.01M470.6 535.4h.01M472.2 535.7h.01M765.1 535.0h.01M768.2 535.0h.01M769.2 535.2h.01M774.4 535.8h.01M775.1 535.6h.01M777.6 535.9h.01M779.8 535.2h.01M307.6 536.4h.01M311.2 536.9h.01M321.0 536.1h.01M325.9 536.9h.01M425.9 536.0h.01M441.8 536.4h.01M442.1 536.8h.01M456.8 536.8h.01M459.7 536.3h.01M464.4 536.3h.01M464.4 536.7h.01M465.3 536.3h.01M468.9 536.5h.01M470.0 536.2h.01M471.2 536.6h.01M757.3 536.0h.01M758.6 536.0h.01M758.0 536.9h.01M761.2 536.0h.01M761.8 536.7h.01M763.2 536.0h.01M789.7 536.3h.01M311.1 537.1h.01M325.5 537.7h.01M328.3 537.3h.01M426.6 537.4h.01M443.4 537.2h.01M443.3 537.3h.01M445.8 537.4h.01M446.3 537.1h.01M450.4 537.5h.01M451.1 537.7h.01M455.3 537.2h.01M463.2 537.8h.01M465.0 537.7h.01M468.1 537.0h.01M469.7 537.2h.01M469.5 537.0h.01M470.8 537.6h.01M757.7 537.1h.01M757.3 538.0h.01M759.9 537.1h.01M760.5 537.1h.01M762.0 537.8h.01M762.9 537.4h.01M767.1 537.0h.01M767.0 537.2h.01M769.4 537.1h.01M318.1 538.9h.01M323.7 538.8h.01M436.3 538.8h.01M443.3 538.8h.01M445.7 538.6h.01M456.8 538.6h.01M460.5 538.2h.01M461.8 538.3h.01M465.8 538.5h.01M467.9 538.6h.01M469.7 538.1h.01M469.3 538.7h.01M470.0 538.5h.01M470.8 538.7h.01M756.4 538.5h.01M757.1 538.4h.01M757.3 538.6h.01M759.0 538.4h.01M763.8 538.0h.01M764.5 538.4h.01M765.3 538.9h.01M769.1 538.0h.01M770.6 538.6h.01M779.5 538.5h.01M817.7 538.3h.01M323.8 539.1h.01M325.3 539.5h.01M329.7 539.6h.01M426.7 539.2h.01M435.0 539.9h.01M438.6 539.9h.01M446.9 539.7h.01M457.2 539.1h.01M461.4 539.2h.01M465.6 539.7h.01M469.2 539.1h.01M757.0 539.1h.01M756.1 539.7h.01M761.4 539.9h.01M762.3 540.0h.01M763.4 539.2h.01M764.9 539.9h.01M765.8 539.4h.01M792.5 539.4h.01M800.5 539.4h.01M816.2 539.0h.01M307.7 540.7h.01M322.9 540.2h.01M327.7 540.4h.01M427.1 540.8h.01M451.2 540.9h.01M462.6 540.1h.01M462.3 540.1h.01M464.6 540.9h.01M464.1 540.1h.01M464.7 541.0h.01M466.4 540.1h.01M466.7 540.6h.01M761.1 540.9h.01M762.1 540.7h.01M765.1 540.4h.01M776.9 540.9h.01M786.7 541.0h.01M306.0 541.2h.01M304.7 541.4h.01M320.5 541.5h.01M321.7 541.7h.01M324.3 541.6h.01M332.6 541.4h.01M334.3 541.3h.01M382.1 541.3h.01M444.6 541.6h.01M447.4 541.8h.01M448.5 541.9h.01M449.7 541.5h.01M452.7 541.9h.01M452.2 541.5h.01M457.8 541.6h.01M457.1 541.7h.01M461.5 541.9h.01M462.7 541.0h.01M462.9 541.0h.01M462.3 541.5h.01M467.1 541.8h.01M468.0 541.8h.01M468.4 541.8h.01M469.1 541.6h.01M761.8 541.7h.01M764.8 541.0h.01M771.8 541.0h.01M782.3 541.6h.01M783.6 541.9h.01M822.9 541.9h.01M305.2 542.3h.01M322.5 542.9h.01M321.1 542.6h.01M435.5 542.9h.01M445.8 542.4h.01M455.8 542.6h.01M460.9 542.4h.01M466.2 542.8h.01M466.9 543.0h.01M756.6 542.3h.01M757.8 543.0h.01M759.1 542.7h.01M760.2 542.5h.01M761.8 542.8h.01M762.1 542.6h.01M762.1 542.6h.01M762.1 542.9h.01M767.4 542.8h.01M781.7 542.3h.01M781.3 542.8h.01M782.8 542.2h.01M786.2 542.1h.01M794.2 542.1h.01M826.3 542.4h.01M312.0 543.8h.01M327.6 543.3h.01M425.6 543.1h.01M427.4 543.8h.01M443.5 543.2h.01M452.0 543.7h.01M453.7 543.8h.01M459.6 543.4h.01M461.8 543.3h.01M464.0 543.5h.01M464.5 543.4h.01M466.8 543.7h.01M467.2 543.3h.01M467.4 543.4h.01M756.7 543.8h.01M762.8 543.5h.01M767.5 543.3h.01M773.2 543.5h.01M777.4 543.9h.01M789.0 543.4h.01M791.8 543.4h.01M829.6 543.8h.01M311.7 544.4h.01M316.2 544.1h.01M329.3 544.5h.01M426.1 544.7h.01M430.9 544.3h.01M452.0 544.9h.01M452.9 544.3h.01M458.9 544.5h.01M460.2 544.2h.01M463.6 544.5h.01M464.9 544.8h.01M465.2 544.6h.01M465.7 544.4h.01M467.5 544.5h.01M467.3 545.0h.01M755.1 544.8h.01M757.0 544.8h.01M757.2 544.6h.01M760.2 544.5h.01M762.0 544.6h.01M763.6 544.5h.01M764.7 544.1h.01M765.8 544.4h.01M767.0 545.0h.01M776.1 544.1h.01M778.4 544.3h.01M795.6 544.8h.01M328.9 545.5h.01M327.6 545.3h.01M371.5 545.0h.01M435.1 546.0h.01M441.5 545.6h.01M454.7 545.3h.01M459.6 545.4h.01M460.6 545.7h.01M460.1 545.1h.01M461.9 545.5h.01M464.6 545.1h.01M755.8 545.5h.01M757.2 545.6h.01M758.2 545.6h.01M775.1 545.7h.01M321.1 546.9h.01M330.0 546.5h.01M424.8 546.0h.01M427.2 546.1h.01M440.4 546.4h.01M450.9 547.0h.01M452.6 546.9h.01M453.0 546.5h.01M453.0 546.2h.01M458.5 546.9h.01M462.4 546.8h.01M462.8 546.7h.01M464.5 547.0h.01M464.3 546.9h.01M768.6 546.6h.01M770.5 546.0h.01M780.7 546.8h.01M301.7 547.7h.01M304.3 547.5h.01M310.9 547.1h.01M315.2 547.9h.01M327.4 547.3h.01M330.8 547.9h.01M332.8 547.8h.01M420.5 547.6h.01M441.1 547.0h.01M454.5 547.9h.01M457.5 547.9h.01M459.3 547.0h.01M461.6 547.8h.01M461.9 547.3h.01M462.8 547.6h.01M755.6 547.9h.01M759.5 547.7h.01M760.6 547.0h.01M761.8 547.5h.01M762.7 548.0h.01M765.1 547.9h.01M766.7 547.1h.01M767.1 547.5h.01M767.2 547.4h.01M769.8 547.5h.01M773.5 547.7h.01M773.5 547.7h.01M304.5 548.3h.01M314.8 548.0h.01M322.1 549.0h.01M326.0 548.2h.01M372.1 549.0h.01M423.9 548.8h.01M424.3 548.7h.01M434.6 548.4h.01M440.5 548.6h.01M446.7 548.8h.01M455.7 548.2h.01M455.3 548.0h.01M457.2 548.4h.01M464.7 548.3h.01M464.5 548.3h.01M756.6 548.9h.01M758.5 548.8h.01M760.6 548.2h.01M760.9 548.1h.01M761.6 549.0h.01M763.4 548.7h.01M766.0 548.5h.01M779.0 548.9h.01M783.4 548.7h.01M793.2 549.0h.01M801.8 549.0h.01M810.5 548.5h.01M305.9 549.8h.01M310.6 549.2h.01M398.4 549.9h.01M430.5 549.2h.01M445.3 549.3h.01M446.3 549.9h.01M454.1 549.8h.01M460.7 549.8h.01M460.7 549.2h.01M460.7 549.3h.01M460.8 549.8h.01M462.2 549.0h.01M462.0 550.0h.01M463.5 549.0h.01M464.1 549.2h.01M464.7 549.7h.01M757.8 549.6h.01M759.5 549.3h.01M760.5 549.1h.01M761.5 549.7h.01M761.9 550.0h.01M762.3 549.5h.01M762.4 549.1h.01M770.7 549.2h.01M775.4 549.7h.01M777.8 549.3h.01M787.3 549.8h.01M810.5 549.7h.01M298.4 550.5h.01M328.5 550.3h.01M333.4 550.3h.01M335.8 550.5h.01M424.3 550.9h.01M434.6 550.1h.01M438.5 550.8h.01M448.1 550.7h.01M451.8 550.6h.01M457.0 550.4h.01M460.6 550.8h.01M757.8 550.7h.01M759.3 550.2h.01M760.8 550.9h.01M760.7 550.0h.01M765.4 550.7h.01M777.7 550.3h.01M778.8 550.5h.01M778.4 550.4h.01M791.5 550.4h.01M803.8 550.8h.01M815.7 550.1h.01M308.5 551.1h.01M339.7 551.6h.01M435.9 551.4h.01M440.4 551.1h.01M444.2 551.2h.01M450.4 551.4h.01M454.9 551.6h.01M455.5 551.4h.01M455.1 551.9h.01M760.7 552.0h.01M766.0 551.1h.01M768.0 551.2h.01M772.0 551.8h.01M790.9 552.0h.01M808.1 551.4h.01M829.0 551.5h.01M863.9 551.6h.01M382.0 552.3h.01M423.8 552.2h.01M427.8 552.1h.01M433.9 552.6h.01M451.3 552.4h.01M454.6 552.4h.01M458.0 552.6h.01M457.2 552.2h.01M461.3 553.0h.01M462.9 552.6h.01M755.6 552.8h.01M760.8 552.1h.01M761.8 552.3h.01M761.2 552.5h.01M763.1 552.6h.01M769.4 552.4h.01M770.4 552.8h.01M783.9 553.0h.01M866.1 552.7h.01M287.7 553.8h.01M311.5 553.6h.01M328.2 553.5h.01M388.1 554.0h.01M413.5 553.7h.01M425.0 553.6h.01M438.4 553.1h.01M453.1 553.4h.01M458.2 553.7h.01M460.9 553.9h.01M755.0 553.8h.01M755.7 553.7h.01M756.6 554.0h.01M759.1 553.7h.01M766.8 553.6h.01M767.8 553.2h.01M784.0 553.3h.01M802.3 553.2h.01M807.3 553.4h.01M818.9 553.5h.01M290.2 554.9h.01M296.0 554.6h.01M304.0 554.9h.01M307.2 554.9h.01M320.5 554.6h.01M328.2 554.8h.01M329.9 555.0h.01M419.4 554.9h.01M432.8 554.3h.01M447.0 554.2h.01M452.0 554.9h.01M453.9 554.4h.01M458.5 554.9h.01M459.0 554.4h.01M461.0 554.6h.01M460.9 554.7h.01M757.7 554.1h.01M758.8 554.1h.01M758.1 554.4h.01M758.8 554.3h.01M759.7 554.5h.01M760.7 554.4h.01M761.5 555.0h.01M797.1 554.9h.01M298.9 555.6h.01M303.7 555.6h.01M303.4 555.8h.01M307.6 555.4h.01M330.0 555.4h.01M379.4 555.2h.01M386.2 555.9h.01M420.3 555.8h.01M427.6 555.3h.01M434.8 555.5h.01M441.6 555.1h.01M445.6 556.0h.01M450.8 556.0h.01M451.6 555.2h.01M453.3 555.2h.01M453.0 555.0h.01M457.4 555.4h.01M457.9 555.3h.01M459.7 555.5h.01M756.0 555.5h.01M757.2 555.2h.01M757.8 555.9h.01M767.7 555.5h.01M770.3 555.1h.01M784.6 555.2h.01M862.5 555.5h.01M298.0 556.5h.01M311.4 556.5h.01M308.9 556.1h.01M327.5 556.6h.01M427.5 556.5h.01M427.4 556.6h.01M430.5 556.3h.01M434.4 556.6h.01M435.7 556.4h.01M438.5 556.8h.01M439.5 556.3h.01M442.5 556.9h.01M443.8 556.9h.01M447.0 556.4h.01M449.7 556.4h.01M450.7 556.9h.01M451.6 556.2h.01M455.8 556.6h.01M456.3 556.7h.01M456.8 556.2h.01M458.4 556.9h.01M460.8 556.3h.01M754.5 556.8h.01M756.1 556.5h.01M757.5 556.6h.01M761.7 556.3h.01M763.1 556.5h.01M764.9 556.3h.01M769.0 556.1h.01M775.6 556.6h.01M776.6 556.3h.01M778.3 556.5h.01M810.5 556.4h.01M309.1 557.2h.01M321.8 557.2h.01M371.5 557.5h.01M375.3 557.0h.01M414.5 557.9h.01M431.0 558.0h.01M442.7 557.1h.01M444.6 557.0h.01M445.5 557.3h.01M449.9 557.6h.01M452.8 557.4h.01M452.4 557.9h.01M452.5 557.4h.01M458.1 557.7h.01M458.3 557.6h.01M459.7 557.5h.01M758.6 557.5h.01M759.9 557.8h.01M759.6 557.6h.01M760.4 557.0h.01M760.5 557.6h.01M763.4 557.7h.01M766.2 557.2h.01M776.4 557.5h.01M780.6 557.1h.01M823.6 557.5h.01M289.2 558.9h.01M298.9 558.0h.01M304.9 558.2h.01M317.6 558.9h.01M323.9 558.1h.01M325.7 558.7h.01M402.9 558.3h.01M427.1 558.3h.01M434.8 558.6h.01M448.3 558.6h.01M451.3 558.8h.01M453.4 558.3h.01M457.5 558.3h.01M457.4 558.4h.01M458.5 558.7h.01M459.2 558.1h.01M754.1 558.4h.01M755.6 558.4h.01M765.7 558.7h.01M769.9 558.1h.01M770.7 558.3h.01M782.0 559.0h.01M826.9 558.1h.01M866.3 558.3h.01M298.9 559.8h.01M302.8 559.1h.01M303.6 559.6h.01M303.4 559.2h.01M311.9 559.5h.01M321.7 559.3h.01M333.3 559.5h.01M413.7 559.4h.01M418.7 559.1h.01M426.4 559.0h.01M430.6 559.6h.01M446.3 559.3h.01M447.4 559.1h.01M452.8 559.1h.01M453.6 559.1h.01M454.4 559.0h.01M458.1 559.3h.01M754.8 559.6h.01M755.5 559.7h.01M755.2 559.9h.01M756.4 559.1h.01M758.1 559.2h.01M764.3 559.2h.01M766.6 559.5h.01M772.5 559.4h.01M781.5 559.7h.01M786.1 559.6h.01M789.7 559.0h.01M820.6 559.5h.01M851.4 559.5h.01M282.8 560.6h.01M312.1 560.2h.01M317.6 560.3h.01M315.2 560.5h.01M321.0 560.3h.01M322.1 560.5h.01M324.1 560.8h.01M333.4 560.0h.01M408.8 560.3h.01M431.2 560.9h.01M438.8 560.4h.01M445.8 560.9h.01M448.4 560.6h.01M451.1 560.5h.01M451.6 560.3h.01M453.0 560.1h.01M458.7 560.1h.01M753.4 560.2h.01M755.1 560.6h.01M757.7 560.1h.01M762.2 560.6h.01M765.8 560.1h.01M766.1 560.4h.01M771.3 560.2h.01M774.7 560.7h.01M788.2 560.5h.01M824.9 560.3h.01M304.4 561.5h.01M327.8 561.1h.01M411.9 561.9h.01M414.5 561.5h.01M420.3 561.3h.01M427.3 561.5h.01M435.9 561.5h.01M438.4 561.3h.01M445.7 561.6h.01M447.7 561.9h.01M448.3 562.0h.01M457.0 561.1h.01M755.5 561.6h.01M756.5 562.0h.01M759.3 561.5h.01M760.3 561.7h.01M768.1 561.6h.01M775.5 561.6h.01M852.7 561.3h.01M332.9 562.3h.01M382.7 562.7h.01M425.6 562.7h.01M430.8 563.0h.01M437.6 563.0h.01M440.3 562.2h.01M440.1 562.4h.01M443.5 562.9h.01M443.5 562.8h.01M444.9 562.5h.01M444.0 562.3h.01M444.2 562.2h.01M446.3 562.1h.01M447.8 562.7h.01M452.0 562.2h.01M454.9 562.7h.01M454.8 563.0h.01M455.4 562.9h.01M455.9 562.8h.01M457.7 562.9h.01M457.4 562.2h.01M753.4 562.7h.01M757.1 562.6h.01M758.5 562.8h.01M758.6 562.9h.01M759.3 562.3h.01M783.5 562.2h.01M784.8 562.5h.01M786.6 562.3h.01M830.8 562.3h.01M285.0 563.9h.01M301.1 563.9h.01M322.9 563.8h.01M329.5 563.7h.01M382.9 563.5h.01M400.0 563.8h.01M417.1 563.8h.01M421.2 563.3h.01M423.3 563.4h.01M423.6 563.2h.01M427.1 563.9h.01M438.6 563.7h.01M440.1 563.2h.01M442.6 563.3h.01M443.5 563.1h.01M448.0 563.7h.01M448.2 563.6h.01M452.1 563.1h.01M453.2 563.8h.01M455.0 563.3h.01M456.2 563.9h.01M753.0 563.7h.01M753.1 563.6h.01M755.5 563.1h.01M757.8 563.7h.01M762.8 563.3h.01M764.6 563.7h.01M765.0 563.7h.01M766.9 563.5h.01M766.5 563.4h.01M773.9 563.8h.01M791.7 563.0h.01M799.3 563.9h.01M803.0 564.0h.01M805.0 563.8h.01M289.8 564.0h.01M327.2 564.9h.01M376.6 564.9h.01M377.1 564.6h.01M403.4 564.2h.01M420.6 564.2h.01M424.5 564.1h.01M429.9 564.6h.01M430.0 564.4h.01M431.7 564.2h.01M433.1 564.5h.01M438.3 564.1h.01M440.1 564.3h.01M442.7 564.9h.01M446.8 564.7h.01M447.3 564.7h.01M448.7 564.6h.01M449.8 564.4h.01M450.4 564.6h.01M452.0 564.4h.01M453.0 564.4h.01M456.0 564.8h.01M754.2 564.3h.01M754.2 564.9h.01M755.0 564.2h.01M758.3 564.2h.01M760.2 564.6h.01M764.9 564.6h.01M774.4 564.7h.01M816.5 564.4h.01M296.8 565.4h.01M300.1 565.5h.01M303.8 565.7h.01M312.5 565.0h.01M315.3 565.8h.01M326.9 565.8h.01M334.5 565.2h.01M370.6 565.4h.01M383.8 565.9h.01M390.4 565.1h.01M423.7 565.4h.01M424.0 565.7h.01M426.9 565.7h.01M430.9 565.7h.01M431.2 565.2h.01M431.8 565.5h.01M434.7 565.4h.01M437.6 565.1h.01M444.9 565.3h.01M444.1 565.9h.01M445.2 565.1h.01M448.6 565.7h.01M448.6 565.6h.01M449.0 565.7h.01M452.4 565.5h.01M453.9 565.4h.01M454.1 565.3h.01M455.6 565.3h.01M756.3 565.6h.01M756.1 565.9h.01M757.3 565.8h.01M769.9 565.7h.01M769.8 565.6h.01M771.5 565.9h.01M774.8 565.2h.01M776.8 565.8h.01M783.6 565.7h.01M294.6 566.4h.01M296.8 566.6h.01M316.5 567.0h.01M320.8 566.5h.01M409.1 566.4h.01M414.9 566.3h.01M423.9 567.0h.01M423.2 566.3h.01M434.6 566.1h.01M435.7 566.1h.01M437.5 566.3h.01M438.8 566.8h.01M444.4 566.6h.01M445.4 566.8h.01M447.0 566.6h.01M446.0 566.2h.01M446.7 566.4h.01M447.3 566.9h.01M451.8 566.7h.01M451.8 566.5h.01M452.1 566.5h.01M454.5 567.0h.01M753.3 566.3h.01M754.6 566.4h.01M757.4 566.3h.01M757.4 566.3h.01M757.1 566.4h.01M762.0 566.4h.01M766.8 566.6h.01M767.5 566.6h.01M768.9 566.8h.01M770.1 566.4h.01M778.5 566.1h.01M779.8 566.9h.01M783.3 566.1h.01M804.4 566.8h.01M290.1 568.0h.01M304.2 567.6h.01M307.7 567.5h.01M318.4 567.0h.01M358.5 567.5h.01M424.4 567.3h.01M430.1 567.6h.01M438.6 567.5h.01M439.6 567.1h.01M441.7 567.9h.01M442.8 567.4h.01M444.4 567.7h.01M445.6 567.1h.01M446.9 567.7h.01M447.2 567.4h.01M450.6 567.8h.01M452.3 567.7h.01M452.1 567.7h.01M753.2 567.8h.01M754.2 567.9h.01M755.8 567.3h.01M760.0 567.8h.01M761.2 567.5h.01M761.7 567.6h.01M771.8 567.6h.01M774.3 568.0h.01M779.3 567.8h.01M296.8 568.7h.01M301.3 568.4h.01M329.5 568.8h.01M382.0 568.4h.01M383.5 568.1h.01M430.2 568.3h.01M435.6 568.1h.01M438.3 568.7h.01M442.2 569.0h.01M444.7 568.4h.01M444.5 568.8h.01M444.8 568.2h.01M448.2 568.2h.01M452.1 568.0h.01M754.0 568.9h.01M758.9 568.0h.01M758.3 568.6h.01M761.3 568.6h.01M761.8 568.0h.01M762.4 568.8h.01M766.2 568.8h.01M773.2 568.8h.01M776.7 568.9h.01M779.2 568.6h.01M862.2 568.0h.01M865.7 568.6h.01M280.3 570.0h.01M281.7 569.6h.01M289.0 569.1h.01M367.9 569.8h.01M376.8 569.2h.01M402.4 569.3h.01M408.1 569.0h.01M428.2 569.3h.01M433.7 569.9h.01M436.3 569.6h.01M441.3 569.7h.01M441.5 569.4h.01M443.1 569.1h.01M447.2 569.8h.01M449.9 569.8h.01M449.1 569.9h.01M453.1 569.0h.01M453.6 569.4h.01M753.7 569.0h.01M754.3 569.6h.01M759.7 569.9h.01M760.3 569.8h.01M761.1 569.2h.01M762.2 569.3h.01M762.6 569.6h.01M762.5 569.7h.01M763.5 569.3h.01M784.5 569.6h.01M798.4 569.6h.01M280.8 570.5h.01M327.4 570.9h.01M405.1 570.7h.01M426.0 570.6h.01M427.4 570.6h.01M427.5 571.0h.01M430.6 570.8h.01M434.8 570.3h.01M435.4 570.2h.01M434.5 570.6h.01M435.6 570.0h.01M434.4 570.6h.01M437.6 570.9h.01M441.5 570.6h.01M444.8 570.3h.01M446.2 570.2h.01M448.1 570.6h.01M450.6 570.8h.01M451.1 571.0h.01M752.1 570.2h.01M752.2 570.4h.01M754.9 570.7h.01M755.7 570.7h.01M756.2 570.9h.01M757.9 570.7h.01M758.2 570.5h.01M760.9 570.6h.01M767.3 570.1h.01M781.1 570.5h.01M852.3 570.7h.01M321.4 571.6h.01M377.8 571.7h.01M424.3 571.0h.01M427.9 571.9h.01M430.8 571.3h.01M440.7 571.7h.01M449.3 571.0h.01M450.3 571.3h.01M450.8 571.5h.01M451.0 571.0h.01M752.3 571.2h.01M756.5 571.6h.01M760.7 572.0h.01M762.3 571.9h.01M776.4 571.8h.01M776.6 571.5h.01M778.2 571.8h.01M792.2 571.0h.01M811.0 571.6h.01M311.0 572.3h.01M319.6 572.6h.01M320.6 572.1h.01M326.8 572.9h.01M327.6 572.6h.01M330.0 572.3h.01M339.4 572.9h.01M376.4 572.7h.01M416.7 572.5h.01M424.5 572.7h.01M431.1 572.9h.01M436.8 572.9h.01M438.5 572.9h.01M443.8 572.4h.01M444.4 572.8h.01M444.8 572.6h.01M450.6 572.8h.01M753.0 572.6h.01M753.3 572.3h.01M754.4 572.8h.01M754.3 572.5h.01M755.1 572.8h.01M757.2 572.1h.01M757.4 572.6h.01M761.3 572.8h.01M767.8 572.4h.01M777.2 572.7h.01M777.3 572.1h.01M779.5 572.1h.01M784.3 572.1h.01M785.0 572.2h.01M811.4 572.8h.01M310.4 573.8h.01M327.1 573.5h.01M365.9 573.5h.01M377.3 574.0h.01M403.9 573.2h.01M405.6 573.1h.01M409.3 573.9h.01M418.5 573.0h.01M419.3 573.4h.01M429.9 573.9h.01M431.2 573.6h.01M436.4 573.6h.01M439.2 573.6h.01M437.1 573.8h.01M438.9 573.4h.01M440.6 573.5h.01M441.3 573.6h.01M443.9 573.9h.01M443.5 573.1h.01M444.8 573.5h.01M444.1 574.0h.01M446.9 573.2h.01M446.6 573.3h.01M446.3 573.1h.01M447.0 573.5h.01M449.3 573.9h.01M451.3 573.1h.01M753.4 573.9h.01M757.3 574.0h.01M758.8 573.4h.01M758.1 574.0h.01M766.5 573.9h.01M766.6 573.4h.01M767.6 573.4h.01M775.2 573.1h.01M785.0 573.9h.01M784.4 573.4h.01M790.7 573.0h.01M808.3 573.8h.01M274.7 574.4h.01M293.6 574.2h.01M297.7 574.0h.01M324.7 574.7h.01M325.1 574.5h.01M327.7 574.0h.01M328.4 574.6h.01M328.3 574.9h.01M333.7 574.9h.01M382.9 574.5h.01M423.9 574.9h.01M428.0 574.6h.01M428.4 574.7h.01M427.9 574.1h.01M431.0 574.5h.01M431.2 574.5h.01M430.8 575.0h.01M445.7 574.7h.01M446.6 574.2h.01M446.5 574.3h.01M447.0 574.9h.01M447.0 574.7h.01M449.8 574.3h.01M449.5 574.2h.01M752.6 574.8h.01M752.3 574.2h.01M765.2 574.2h.01M775.4 574.5h.01M786.6 574.2h.01M795.2 574.1h.01M804.8 574.0h.01M814.4 574.9h.01M322.1 575.5h.01M322.8 575.3h.01M324.8 575.6h.01M372.3 575.2h.01M394.6 575.3h.01M408.6 575.7h.01M411.4 575.6h.01M411.9 575.9h.01M423.8 575.6h.01M424.7 575.4h.01M431.4 575.1h.01M430.8 575.1h.01M433.7 575.7h.01M435.8 575.3h.01M435.4 575.6h.01M437.8 575.2h.01M438.3 575.1h.01M440.6 575.1h.01M752.7 575.2h.01M756.9 575.4h.01M775.0 575.2h.01M780.2 575.6h.01M781.6 575.7h.01M786.4 575.8h.01M793.3 575.9h.01M803.7 576.0h.01M273.8 576.4h.01M296.9 576.2h.01M310.8 576.5h.01M319.3 576.5h.01M327.3 576.0h.01M424.5 576.6h.01M424.0 576.6h.01M427.4 576.6h.01M428.4 576.4h.01M431.7 576.1h.01M430.9 576.8h.01M431.2 576.3h.01M438.7 576.8h.01M439.5 576.3h.01M441.2 576.1h.01M444.5 576.6h.01M445.6 576.7h.01M445.1 576.6h.01M446.4 576.9h.01M449.0 576.1h.01M752.8 576.6h.01M752.3 576.0h.01M753.8 576.8h.01M753.4 576.7h.01M753.3 576.7h.01M755.4 576.0h.01M756.5 576.7h.01M759.5 576.3h.01M763.0 576.2h.01M763.1 576.8h.01M770.7 576.3h.01M771.1 576.7h.01M805.0 577.0h.01M288.8 577.1h.01M288.8 577.8h.01M290.0 577.6h.01M297.8 577.0h.01M311.9 577.5h.01M323.6 577.4h.01M322.0 577.8h.01M326.4 577.6h.01M333.5 577.6h.01M393.8 577.4h.01M420.5 577.1h.01M431.4 577.3h.01M434.2 577.6h.01M435.1 577.8h.01M434.7 577.2h.01M440.8 577.8h.01M442.4 577.6h.01M444.9 577.6h.01M447.2 577.4h.01M753.2 577.6h.01M755.0 577.7h.01M757.6 577.7h.01M758.0 578.0h.01M757.3 577.3h.01M757.1 577.3h.01M759.1 577.4h.01M759.8 577.6h.01M761.8 577.1h.01M763.2 577.2h.01M763.7 577.4h.01M767.7 577.3h.01M818.2 577.7h.01M289.4 578.5h.01M303.9 578.4h.01M322.0 578.7h.01M360.1 578.4h.01M372.0 579.0h.01M373.4 578.0h.01M374.4 578.2h.01M398.6 578.9h.01M405.7 578.3h.01M410.4 578.9h.01M414.6 578.4h.01M416.8 578.9h.01M420.5 578.3h.01M428.3 578.6h.01M430.2 578.6h.01M431.1 578.1h.01M430.9 578.5h.01M441.6 578.4h.01M444.1 578.2h.01M751.5 578.8h.01M754.6 578.3h.01M760.3 578.9h.01M762.3 578.8h.01M764.2 578.5h.01M764.9 578.8h.01M766.7 578.9h.01M770.4 578.2h.01M269.7 580.0h.01M278.2 579.9h.01M289.8 579.9h.01M310.0 579.7h.01M379.0 579.7h.01M401.0 579.4h.01M406.4 580.0h.01M407.0 580.0h.01M416.1 579.9h.01M420.4 579.0h.01M420.2 579.6h.01M434.7 579.7h.01M440.0 579.6h.01M441.9 579.1h.01M442.2 579.5h.01M446.3 579.0h.01M448.8 579.0h.01M448.3 579.2h.01M751.7 579.8h.01M751.0 580.0h.01M752.7 579.6h.01M764.5 579.1h.01M766.2 579.2h.01M768.2 579.6h.01M777.2 579.6h.01M780.3 579.1h.01M276.2 580.7h.01M283.0 580.1h.01M287.8 580.2h.01M382.9 580.1h.01M389.7 580.6h.01M403.1 580.6h.01M406.1 580.7h.01M411.1 580.0h.01M422.0 580.9h.01M424.5 580.3h.01M422.7 580.6h.01M428.8 580.8h.01M435.1 580.0h.01M436.9 580.3h.01M437.7 581.0h.01M437.9 581.0h.01M438.4 580.3h.01M440.0 580.9h.01M441.0 580.2h.01M445.5 580.4h.01M752.2 580.2h.01M757.8 580.5h.01M758.7 580.0h.01M758.1 580.0h.01M761.1 580.2h.01M771.8 580.2h.01M778.0 580.6h.01M823.4 580.8h.01M279.4 581.4h.01M291.2 581.1h.01M321.8 581.5h.01M337.9 581.4h.01M382.6 581.2h.01M402.7 581.1h.01M403.3 581.7h.01M414.4 581.9h.01M418.6 581.6h.01M419.9 581.9h.01M428.4 581.2h.01M430.0 581.6h.01M429.6 581.4h.01M435.6 581.2h.01M435.5 581.3h.01M435.3 581.9h.01M437.7 581.2h.01M440.5 581.9h.01M444.2 581.0h.01M444.1 581.7h.01M444.2 581.2h.01M445.0 581.4h.01M751.5 581.6h.01M757.3 581.5h.01M767.0 581.6h.01M770.1 581.3h.01M773.2 581.6h.01M776.6 581.4h.01M781.9 581.5h.01M820.6 581.6h.01M297.4 582.3h.01M314.6 582.4h.01M323.2 582.5h.01M324.1 582.1h.01M327.8 582.7h.01M334.8 582.8h.01M379.0 582.4h.01M388.4 582.2h.01M403.3 582.4h.01M413.9 583.0h.01M416.6 582.3h.01M424.0 582.5h.01M429.3 582.4h.01M434.7 582.7h.01M437.6 582.6h.01M438.2 582.8h.01M751.1 582.9h.01M751.4 583.0h.01M753.0 582.7h.01M753.5 582.7h.01M753.5 582.2h.01M753.4 582.8h.01M754.2 582.4h.01M754.8 582.2h.01M776.8 582.3h.01M273.3 583.3h.01M273.4 583.2h.01M286.8 583.5h.01M298.0 583.6h.01M303.3 583.4h.01M338.4 583.5h.01M354.7 583.6h.01M397.9 583.8h.01M410.9 583.7h.01M420.1 583.7h.01M422.9 583.8h.01M424.7 583.3h.01M427.8 583.0h.01M427.3 583.8h.01M427.7 584.0h.01M430.7 583.6h.01M433.3 583.8h.01M434.7 583.6h.01M434.7 583.1h.01M437.5 583.3h.01M443.9 583.4h.01M753.9 583.9h.01M753.7 583.2h.01M755.8 583.8h.01M757.7 583.0h.01M758.0 583.4h.01M758.8 583.8h.01M758.8 583.1h.01M759.9 583.3h.01M760.3 583.1h.01M762.1 583.5h.01M762.6 583.0h.01M768.9 583.5h.01M806.6 583.2h.01M816.6 583.4h.01M293.0 584.5h.01M315.0 584.6h.01M376.9 584.6h.01M376.3 584.6h.01M406.5 584.7h.01M407.4 584.0h.01M409.2 584.4h.01M416.8 584.4h.01M423.3 584.5h.01M424.0 584.5h.01M424.2 584.1h.01M431.1 584.2h.01M435.6 584.2h.01M437.2 584.8h.01M438.4 584.0h.01M438.8 584.4h.01M440.6 584.1h.01M445.5 584.8h.01M445.9 584.4h.01M754.5 584.5h.01M755.8 584.5h.01M764.7 584.1h.01M766.3 584.7h.01M766.9 584.7h.01M770.8 584.2h.01M783.6 584.3h.01M273.4 585.0h.01M277.1 585.7h.01M285.5 585.6h.01M296.9 585.2h.01M311.9 585.9h.01M312.1 585.3h.01M315.6 585.2h.01M328.0 585.6h.01M335.8 585.9h.01M348.8 585.9h.01M371.0 585.7h.01M392.6 585.8h.01M410.7 585.2h.01M419.3 585.9h.01M424.3 585.0h.01M427.6 585.1h.01M427.4 585.0h.01M427.5 585.1h.01M431.8 585.2h.01M435.4 585.5h.01M435.3 585.5h.01M436.8 585.9h.01M438.0 585.7h.01M439.4 585.1h.01M442.7 585.9h.01M751.1 585.3h.01M751.8 585.6h.01M751.3 585.7h.01M753.6 586.0h.01M758.2 585.7h.01M761.5 585.0h.01M768.3 585.1h.01M776.5 585.9h.01M795.4 585.8h.01M801.9 585.2h.01M804.9 585.6h.01M809.6 585.9h.01M278.5 586.8h.01M300.2 586.9h.01M304.8 586.6h.01M311.0 586.9h.01M330.4 586.4h.01M337.1 586.7h.01M360.8 586.4h.01M369.9 586.1h.01M392.8 586.9h.01M395.2 586.4h.01M407.5 586.8h.01M407.3 586.8h.01M420.3 586.2h.01M419.8 586.9h.01M420.3 586.6h.01M422.7 586.7h.01M424.1 586.0h.01M423.3 586.2h.01M424.0 586.9h.01M425.2 586.3h.01M427.8 586.1h.01M429.6 586.0h.01M430.3 587.0h.01M431.5 586.6h.01M439.7 586.4h.01M438.8 586.4h.01M440.3 586.3h.01M443.3 586.2h.01M443.2 586.5h.01M443.1 586.2h.01M444.3 586.0h.01M444.1 586.5h.01M750.5 586.5h.01M751.4 586.4h.01M765.8 586.7h.01M771.9 586.7h.01M797.5 586.2h.01M263.6 587.9h.01M274.9 588.0h.01M277.7 587.0h.01M304.0 587.4h.01M314.6 587.2h.01M328.7 587.2h.01M348.4 587.5h.01M376.9 587.2h.01M395.9 587.3h.01M421.3 587.6h.01M420.9 587.2h.01M420.3 587.2h.01M423.1 587.3h.01M428.2 587.3h.01M429.7 587.1h.01M434.9 587.7h.01M435.4 587.3h.01M438.9 587.0h.01M438.8 587.8h.01M440.3 587.8h.01M440.3 587.3h.01M441.1 587.5h.01M443.0 587.8h.01M751.2 587.4h.01M752.8 587.2h.01M752.8 587.6h.01M755.3 587.3h.01M756.6 587.4h.01M760.8 587.6h.01M760.9 588.0h.01M766.4 588.0h.01M769.1 587.8h.01M770.1 587.9h.01M773.6 587.3h.01M810.6 588.0h.01M818.6 587.0h.01M833.0 587.1h.01M297.7 588.6h.01M312.7 588.6h.01M388.3 588.8h.01M392.2 588.8h.01M397.1 588.9h.01M407.0 588.7h.01M412.1 588.3h.01M419.8 588.4h.01M421.8 588.5h.01M421.2 588.7h.01M423.7 589.0h.01M423.7 588.5h.01M431.8 588.8h.01M434.9 589.0h.01M438.6 588.8h.01M438.4 588.3h.01M439.5 588.7h.01M438.2 588.8h.01M438.4 588.1h.01M442.1 588.2h.01M443.2 588.1h.01M750.9 588.1h.01M752.6 588.1h.01M754.0 588.1h.01M766.1 588.4h.01M776.2 588.6h.01M799.9 588.8h.01M806.5 588.1h.01M263.9 589.0h.01M281.3 589.2h.01M283.3 589.9h.01M281.9 589.3h.01M284.7 589.5h.01M317.3 589.3h.01M318.4 589.8h.01M325.8 589.6h.01M338.1 589.7h.01M355.1 589.4h.01M391.3 589.1h.01M401.7 589.1h.01M403.4 589.3h.01M408.1 589.2h.01M409.6 589.9h.01M419.9 589.3h.01M422.4 589.5h.01M424.2 589.0h.01M426.5 589.6h.01M426.6 590.0h.01M430.7 589.8h.01M431.1 589.6h.01M433.0 590.0h.01M434.4 589.4h.01M437.0 589.3h.01M437.9 589.3h.01M438.0 589.7h.01M437.2 589.7h.01M442.0 589.7h.01M750.1 589.6h.01M753.6 589.5h.01M758.6 589.5h.01M760.9 589.7h.01M762.3 589.1h.01M771.5 589.2h.01M773.6 589.4h.01M786.0 589.4h.01M827.6 589.8h.01M288.8 590.0h.01M313.3 590.6h.01M339.9 590.7h.01M373.3 590.6h.01M382.8 590.4h.01M394.0 590.9h.01M396.6 590.5h.01M396.9 590.2h.01M400.0 590.1h.01M403.8 590.9h.01M406.5 590.9h.01M416.9 590.8h.01M417.2 590.7h.01M419.8 590.6h.01M427.6 590.9h.01M431.8 591.0h.01M430.2 590.7h.01M431.8 591.0h.01M431.3 590.7h.01M432.1 590.0h.01M436.0 590.5h.01M434.6 590.1h.01M438.7 590.3h.01M750.8 590.3h.01M751.5 590.3h.01M752.3 590.4h.01M755.0 590.4h.01M755.2 590.9h.01M757.9 590.9h.01M762.2 590.2h.01M772.8 590.7h.01M783.1 590.2h.01M808.2 590.2h.01M271.0 591.6h.01M278.9 591.8h.01M299.1 591.2h.01M303.6 591.5h.01M318.3 591.6h.01M322.1 591.1h.01M327.1 591.2h.01M337.7 591.9h.01M345.1 591.7h.01M345.6 591.3h.01M381.3 591.9h.01M404.1 591.9h.01M413.2 591.4h.01M420.2 591.0h.01M420.2 591.5h.01M425.1 591.2h.01M427.5 591.1h.01M429.2 591.2h.01M429.5 591.5h.01M431.2 592.0h.01M431.4 591.4h.01M435.6 591.0h.01M434.9 591.5h.01M435.3 591.1h.01M437.4 591.2h.01M441.9 591.7h.01M754.0 591.6h.01M755.1 591.9h.01M755.5 591.7h.01M760.1 591.3h.01M780.1 591.9h.01M781.3 591.9h.01M792.0 591.9h.01M271.1 592.7h.01M278.0 592.7h.01M280.1 592.9h.01M282.2 592.2h.01M293.3 592.9h.01M295.1 592.7h.01M355.6 592.4h.01M370.7 592.9h.01M374.8 592.1h.01M390.4 592.4h.01M392.7 592.5h.01M395.6 592.4h.01M398.8 592.4h.01M408.5 592.3h.01M415.8 592.8h.01M419.4 592.8h.01M421.3 592.7h.01M424.5 592.5h.01M424.2 592.8h.01M427.6 592.1h.01M426.1 592.0h.01M428.0 592.4h.01M429.0 592.0h.01M431.8 592.5h.01M430.1 592.1h.01M431.0 592.4h.01M430.3 592.4h.01M435.1 592.2h.01M437.8 592.3h.01M438.1 592.3h.01M750.7 592.9h.01M753.1 592.8h.01M757.9 592.5h.01M760.8 592.4h.01M765.0 592.5h.01M775.5 592.6h.01M776.2 592.8h.01M785.5 592.2h.01M853.5 592.5h.01M257.4 593.3h.01M285.1 593.1h.01M315.2 593.8h.01M321.4 593.8h.01M395.0 593.1h.01M399.2 593.3h.01M401.9 593.4h.01M414.0 593.4h.01M421.0 593.9h.01M423.4 593.4h.01M423.5 593.1h.01M431.0 593.4h.01M431.7 593.4h.01M438.3 594.0h.01M752.5 593.7h.01M757.6 593.9h.01M758.1 593.9h.01M761.9 593.9h.01M763.4 593.0h.01M775.9 593.2h.01M784.1 593.7h.01M828.5 593.9h.01M275.8 594.2h.01M289.5 594.0h.01M296.8 594.1h.01M299.1 595.0h.01M299.9 594.2h.01M296.9 594.0h.01M303.8 594.0h.01M308.9 595.0h.01M312.2 594.1h.01M330.4 594.4h.01M347.9 594.2h.01M372.9 594.9h.01M386.3 594.1h.01M382.8 594.9h.01M392.1 594.8h.01M394.6 594.9h.01M412.1 594.8h.01M413.1 594.6h.01M416.7 594.1h.01M430.4 594.1h.01M431.2 594.0h.01M434.8 594.3h.01M436.9 594.4h.01M438.3 594.3h.01M437.4 594.4h.01M749.2 594.2h.01M750.7 594.9h.01M751.0 594.9h.01M751.6 594.4h.01M751.8 594.4h.01M753.0 594.4h.01M754.4 594.3h.01M762.0 594.5h.01M777.5 594.3h.01M822.5 594.9h.01M852.6 594.3h.01M265.3 595.7h.01M263.3 595.9h.01M286.5 595.1h.01M298.1 595.9h.01M308.7 595.6h.01M312.0 595.9h.01M347.7 595.5h.01M351.4 595.0h.01M365.9 595.0h.01M366.2 596.0h.01M382.5 596.0h.01M409.9 595.3h.01M420.4 595.4h.01M423.0 595.8h.01M423.6 595.0h.01M425.0 595.9h.01M427.8 595.5h.01M423.4 595.3h.01M423.8 595.6h.01M426.9 595.7h.01M428.9 595.0h.01M430.7 595.1h.01M435.7 595.7h.01M435.6 595.6h.01M438.5 595.1h.01M750.2 595.9h.01M753.2 595.2h.01M756.8 595.8h.01M760.8 595.6h.01M771.0 595.8h.01M771.3 595.3h.01M790.2 595.5h.01M263.0 596.5h.01M296.0 596.8h.01M320.3 596.4h.01M330.3 596.3h.01M399.9 596.0h.01M420.3 596.5h.01M422.1 596.8h.01M420.1 596.1h.01M426.7 596.3h.01M426.6 596.1h.01M427.5 596.1h.01M428.6 596.5h.01M430.9 596.9h.01M430.7 596.6h.01M438.0 596.8h.01M753.5 596.2h.01M755.4 596.8h.01M758.4 596.7h.01M758.5 596.8h.01M770.8 596.1h.01M788.1 596.8h.01M799.4 596.2h.01M823.3 596.3h.01M298.5 597.8h.01M311.8 597.2h.01M310.8 597.2h.01M322.0 597.1h.01M329.6 597.5h.01M349.5 597.2h.01M351.6 597.3h.01M370.2 597.1h.01M390.1 597.5h.01M402.0 597.1h.01M406.3 597.9h.01M414.2 597.4h.01M419.8 597.6h.01M420.8 597.0h.01M420.7 597.7h.01M420.5 597.1h.01M420.6 597.0h.01M423.2 598.0h.01M423.8 597.5h.01M430.6 597.5h.01M431.3 597.6h.01M431.8 597.7h.01M432.0 597.7h.01M430.9 597.6h.01M435.7 597.4h.01M435.3 597.5h.01M434.4 597.4h.01M749.0 597.2h.01M752.7 597.3h.01M752.5 597.4h.01M754.0 597.7h.01M753.5 597.3h.01M754.2 597.6h.01M754.8 597.7h.01M756.2 597.5h.01M756.6 597.1h.01M760.7 597.9h.01M760.8 597.9h.01M764.2 597.4h.01M769.2 597.0h.01M777.2 597.1h.01M783.9 597.1h.01M794.2 597.1h.01M796.4 597.1h.01M830.1 597.8h.01M859.8 597.7h.01M865.7 597.3h.01M264.9 599.0h.01M270.5 598.5h.01M269.4 598.7h.01M274.5 598.4h.01M279.5 598.4h.01M282.5 598.8h.01M304.2 598.0h.01M306.8 598.9h.01M326.7 598.9h.01M382.7 598.2h.01M391.2 598.3h.01M391.6 598.4h.01M399.9 598.6h.01M408.7 598.1h.01M419.8 598.6h.01M418.1 598.4h.01M421.4 598.1h.01M422.7 598.2h.01M423.4 599.0h.01M424.8 598.8h.01M426.6 598.3h.01M427.3 598.2h.01M426.9 599.0h.01M427.8 598.6h.01M431.8 598.9h.01M431.1 598.1h.01M430.6 598.8h.01M431.7 599.0h.01M430.8 598.6h.01M433.2 598.5h.01M433.7 598.6h.01M434.3 598.2h.01M435.4 598.9h.01M435.4 598.0h.01M434.9 598.6h.01M750.2 598.1h.01M752.3 598.3h.01M754.9 598.9h.01M757.0 598.1h.01M759.8 598.3h.01M766.0 598.1h.01M773.9 598.8h.01M775.9 598.8h.01M789.7 599.0h.01M794.2 598.6h.01M266.2 599.5h.01M289.7 599.4h.01M291.7 599.7h.01M311.3 599.8h.01M315.4 599.6h.01M320.4 600.0h.01M321.7 599.3h.01M321.7 599.4h.01M323.8 599.8h.01M383.9 599.6h.01M389.9 599.9h.01M403.7 599.2h.01M424.4 599.9h.01M423.4 599.5h.01M425.9 599.9h.01M425.6 599.7h.01M427.3 599.4h.01M430.6 599.2h.01M433.0 599.2h.01M434.2 599.3h.01M434.2 599.7h.01M433.7 599.8h.01M434.7 599.8h.01M435.8 599.3h.01M749.3 599.5h.01M750.7 599.1h.01M752.0 599.1h.01M752.2 600.0h.01M775.3 599.2h.01M785.4 600.0h.01M832.3 599.3h.01M853.6 599.2h.01M272.4 600.4h.01M277.7 600.2h.01M298.7 600.6h.01M315.2 600.2h.01M323.2 600.0h.01M327.3 600.3h.01M364.9 600.0h.01M391.9 600.2h.01M394.3 600.8h.01M401.4 600.6h.01M405.8 600.4h.01M408.0 600.7h.01M408.7 600.3h.01M426.6 600.8h.01M426.9 600.6h.01M428.7 600.9h.01M429.6 600.2h.01M430.2 601.0h.01M431.9 600.3h.01M434.6 600.2h.01M756.0 600.6h.01M762.8 600.2h.01M764.3 600.9h.01M776.9 600.2h.01M778.1 600.6h.01M779.6 600.5h.01M264.4 602.0h.01M268.1 601.3h.01M283.8 601.3h.01M303.7 601.8h.01M312.8 601.1h.01M319.5 601.8h.01M391.8 601.1h.01M395.9 601.7h.01M402.6 601.8h.01M405.2 601.1h.01M411.0 601.2h.01M414.1 601.2h.01M421.2 601.3h.01M423.7 601.4h.01M424.7 601.3h.01M425.4 601.9h.01M425.4 601.1h.01M427.1 601.6h.01M429.4 601.4h.01M432.2 601.1h.01M432.9 601.2h.01M750.3 601.7h.01M751.4 601.2h.01M754.0 601.7h.01M761.1 601.0h.01M766.1 601.2h.01M280.7 602.5h.01M295.9 602.4h.01M303.0 602.9h.01M307.7 602.6h.01M307.6 602.9h.01M321.9 602.4h.01M334.6 602.9h.01M382.8 602.2h.01M384.1 602.5h.01M395.3 602.8h.01M397.0 602.7h.01M415.7 603.0h.01M421.9 602.0h.01M429.0 602.8h.01M431.2 602.7h.01M748.9 602.2h.01M754.5 602.4h.01M754.3 602.3h.01M758.4 602.6h.01M760.4 602.6h.01M765.3 602.5h.01M770.7 602.2h.01M775.0 602.9h.01M781.8 603.0h.01M819.3 602.1h.01M265.1 603.9h.01M273.8 603.2h.01M289.7 603.9h.01M295.9 604.0h.01M327.2 603.6h.01M341.2 603.2h.01M371.2 603.3h.01M375.4 603.7h.01M377.6 603.6h.01M382.3 603.9h.01M382.7 603.1h.01M397.5 603.8h.01M403.4 603.9h.01M405.2 603.7h.01M409.2 603.1h.01M412.1 603.5h.01M413.8 603.5h.01M413.8 603.4h.01M422.6 604.0h.01M423.5 603.4h.01M423.6 603.3h.01M427.7 603.6h.01M431.9 603.1h.01M431.6 603.9h.01M748.8 603.8h.01M750.6 603.6h.01M751.8 603.9h.01M752.3 603.4h.01M752.8 603.3h.01M754.6 603.5h.01M755.4 603.2h.01M758.1 603.2h.01M770.4 603.9h.01M775.3 603.4h.01M786.2 603.3h.01M269.1 604.5h.01M289.7 604.4h.01M289.8 604.4h.01M297.6 604.8h.01M304.3 604.9h.01M314.8 604.4h.01M319.6 604.5h.01M321.2 605.0h.01M327.0 604.7h.01M363.4 604.6h.01M390.2 604.5h.01M390.9 604.3h.01M413.5 604.2h.01M417.0 604.4h.01M425.6 604.9h.01M427.3 604.5h.01M427.7 605.0h.01M429.0 604.6h.01M431.0 604.1h.01M749.6 604.6h.01M757.2 605.0h.01M761.8 604.8h.01M767.7 605.0h.01M792.7 604.9h.01M847.2 604.9h.01M303.1 605.4h.01M314.2 605.7h.01M327.4 605.6h.01M330.3 605.9h.01M332.4 605.1h.01M383.3 605.5h.01M383.4 605.3h.01M386.4 605.6h.01M382.3 605.3h.01M391.7 605.3h.01M392.2 605.0h.01M396.1 605.5h.01M397.8 605.8h.01M403.3 605.9h.01M403.4 605.7h.01M412.3 605.8h.01M414.2 605.5h.01M414.1 605.1h.01M419.5 605.6h.01M419.5 605.0h.01M420.8 605.8h.01M421.8 605.6h.01M422.5 605.3h.01M422.3 605.4h.01M427.3 605.8h.01M430.3 606.0h.01M430.6 605.4h.01M749.0 605.2h.01M750.5 605.8h.01M750.8 605.6h.01M751.2 605.5h.01M752.6 605.9h.01M752.7 605.3h.01M753.5 605.2h.01M770.1 605.5h.01M772.9 605.7h.01M775.0 605.8h.01M802.2 605.5h.01M262.3 606.7h.01M274.2 606.5h.01M278.0 606.2h.01M282.0 606.4h.01M309.7 606.1h.01M322.2 606.5h.01M364.2 606.5h.01M383.4 606.4h.01M399.6 606.2h.01M409.0 606.9h.01M408.5 606.1h.01M409.5 607.0h.01M410.5 606.1h.01M417.8 606.2h.01M425.7 606.5h.01M426.2 606.4h.01M427.1 606.4h.01M427.7 606.5h.01M748.0 606.2h.01M749.0 606.2h.01M749.0 606.7h.01M749.1 606.3h.01M750.6 606.4h.01M753.2 606.2h.01M761.1 606.4h.01M764.8 606.4h.01M766.2 606.8h.01M767.9 606.8h.01M779.2 606.4h.01M264.0 607.5h.01M277.1 607.1h.01M289.3 607.2h.01M289.9 607.6h.01M303.2 607.1h.01M306.3 607.0h.01M310.9 607.9h.01M320.5 607.3h.01M330.7 607.3h.01M338.6 608.0h.01M348.0 607.6h.01M387.0 607.6h.01M393.7 607.9h.01M395.0 607.6h.01M394.7 607.8h.01M398.1 607.4h.01M404.6 607.2h.01M416.0 607.3h.01M417.1 608.0h.01M418.2 607.9h.01M419.1 607.3h.01M419.8 607.2h.01M419.9 607.2h.01M422.2 607.8h.01M422.0 607.7h.01M425.8 607.8h.01M425.6 607.8h.01M428.3 607.8h.01M749.9 607.7h.01M749.5 607.4h.01M767.3 607.5h.01M838.5 607.8h.01M274.6 608.7h.01M297.9 608.7h.01M318.4 608.7h.01M331.4 608.2h.01M335.1 608.7h.01M334.6 608.3h.01M366.4 608.3h.01M382.7 608.8h.01M398.4 608.7h.01M407.6 608.3h.01M408.2 608.4h.01M417.8 608.9h.01M419.2 608.7h.01M748.1 608.7h.01M751.9 608.3h.01M753.1 608.3h.01M754.2 609.0h.01M756.0 608.3h.01M760.0 608.2h.01M762.2 608.9h.01M803.1 608.9h.01M858.2 608.6h.01M270.3 609.5h.01M270.3 609.1h.01M272.6 609.8h.01M283.2 609.9h.01M286.5 609.1h.01M297.0 609.8h.01M302.1 609.2h.01M307.0 609.1h.01M311.2 610.0h.01M317.2 609.6h.01M324.3 609.3h.01M328.0 609.8h.01M330.0 609.9h.01M391.4 609.0h.01M396.1 609.9h.01M396.9 609.7h.01M398.9 609.2h.01M399.7 609.1h.01M403.2 609.5h.01M407.5 609.6h.01M408.1 609.4h.01M413.2 609.5h.01M413.7 609.1h.01M416.2 609.4h.01M416.6 609.3h.01M416.7 609.2h.01M419.8 609.4h.01M422.3 609.6h.01M424.5 609.6h.01M753.5 609.6h.01M756.9 609.3h.01M760.9 609.3h.01M784.1 609.2h.01M800.5 609.6h.01M811.9 609.8h.01M853.2 609.8h.01M270.3 610.7h.01M278.2 610.8h.01M283.5 610.4h.01M290.4 611.0h.01M298.1 610.9h.01M302.8 611.0h.01M315.9 610.4h.01M353.7 610.9h.01M365.0 610.1h.01M411.8 610.4h.01M420.3 610.8h.01M422.8 610.9h.01M425.9 610.7h.01M425.9 610.8h.01M750.2 610.4h.01M750.2 610.0h.01M751.4 610.1h.01M751.8 610.5h.01M752.8 610.1h.01M752.7 610.0h.01M756.3 610.9h.01M760.1 610.0h.01M763.2 610.3h.01M778.8 610.7h.01M780.1 610.1h.01M789.8 611.0h.01M265.6 611.8h.01M281.8 611.3h.01M290.2 611.7h.01M295.4 611.0h.01M299.5 611.6h.01M302.0 611.4h.01M322.6 611.5h.01M326.0 611.7h.01M331.8 611.5h.01M335.0 611.6h.01M355.4 611.6h.01M380.6 611.9h.01M397.7 611.4h.01M399.6 611.1h.01M400.3 612.0h.01M400.3 611.4h.01M405.0 611.9h.01M405.0 611.4h.01M405.9 611.3h.01M412.4 611.4h.01M414.7 611.3h.01M415.2 611.8h.01M415.3 611.2h.01M419.5 611.5h.01M424.8 611.7h.01M424.0 611.7h.01M748.2 611.8h.01M749.5 611.0h.01M752.2 611.6h.01M756.5 611.2h.01M759.3 611.8h.01M760.3 611.3h.01M768.1 611.5h.01M771.9 611.7h.01M774.1 611.1h.01M776.9 611.3h.01M780.2 611.8h.01M297.2 612.7h.01M297.0 612.6h.01M298.0 612.8h.01M316.0 612.9h.01M328.2 612.5h.01M351.6 613.0h.01M400.2 612.7h.01M403.7 612.2h.01M407.2 612.7h.01M411.2 612.2h.01M411.6 612.8h.01M414.3 612.3h.01M414.6 612.3h.01M415.5 612.3h.01M416.4 612.1h.01M418.0 612.0h.01M420.5 612.3h.01M751.5 612.1h.01M754.0 612.4h.01M757.8 612.7h.01M767.0 612.7h.01M767.3 612.5h.01M770.3 612.1h.01M777.5 612.4h.01M257.9 613.4h.01M266.5 613.0h.01M321.2 613.7h.01M322.0 613.1h.01M382.3 613.9h.01M382.1 613.9h.01M389.9 613.0h.01M395.7 613.4h.01M406.0 613.7h.01M407.1 613.7h.01M411.3 613.2h.01M411.1 613.8h.01M411.9 613.8h.01M412.7 613.4h.01M413.3 613.2h.01M418.8 613.9h.01M418.6 614.0h.01M419.2 613.6h.01M420.2 613.7h.01M747.9 613.8h.01M750.2 613.9h.01M750.2 613.0h.01M752.2 613.4h.01M761.1 613.6h.01M775.9 613.4h.01M776.3 613.5h.01M783.8 613.5h.01M785.1 613.6h.01M257.5 614.3h.01M265.2 614.4h.01M270.2 614.9h.01M275.4 614.3h.01M310.8 614.1h.01M315.2 614.5h.01M322.3 614.3h.01M357.7 614.7h.01M376.8 614.8h.01M383.2 614.8h.01M383.4 614.2h.01M390.2 614.1h.01M391.5 614.7h.01M399.0 614.9h.01M399.2 614.4h.01M400.4 614.6h.01M405.7 614.7h.01M408.0 614.0h.01M408.1 615.0h.01M409.5 614.2h.01M412.0 614.2h.01M414.5 614.9h.01M416.3 614.9h.01M419.3 614.4h.01M419.1 614.8h.01M747.6 614.9h.01M748.0 614.9h.01M753.4 614.6h.01M759.8 614.9h.01M764.6 614.4h.01M765.2 614.7h.01M258.2 615.0h.01M259.7 615.3h.01M288.4 615.9h.01M290.3 615.5h.01M303.2 615.4h.01M304.2 615.7h.01M304.1 615.1h.01M314.5 615.9h.01M320.8 615.5h.01M328.1 615.1h.01M331.2 615.6h.01M363.4 615.7h.01M371.4 615.8h.01M381.3 615.7h.01M382.9 615.7h.01M390.9 616.0h.01M395.1 615.4h.01M399.1 615.2h.01M405.8 615.6h.01M407.6 615.7h.01M409.9 615.4h.01M410.4 615.2h.01M410.2 615.3h.01M411.3 615.3h.01M413.0 615.0h.01M413.7 615.6h.01M419.9 615.0h.01M748.9 615.7h.01M751.0 615.2h.01M751.5 615.7h.01M752.5 615.7h.01M753.4 615.7h.01M753.2 615.9h.01M758.1 615.7h.01M769.2 615.3h.01M774.9 615.5h.01M776.0 615.3h.01M274.1 616.8h.01M277.8 616.6h.01M282.0 616.4h.01M282.7 617.0h.01M306.1 616.9h.01M315.5 616.1h.01M319.8 616.1h.01M331.2 616.5h.01M338.1 616.5h.01M372.4 616.6h.01M382.6 616.7h.01M394.3 616.5h.01M410.1 616.5h.01M412.2 616.1h.01M413.8 616.8h.01M748.2 616.7h.01M749.9 616.9h.01M752.7 616.5h.01M754.7 616.8h.01M762.2 616.9h.01M775.3 616.5h.01M841.6 616.2h.01M273.7 617.5h.01M296.2 617.7h.01M325.0 617.8h.01M334.3 617.9h.01M344.8 617.6h.01M349.8 617.6h.01M397.8 617.6h.01M399.6 617.1h.01M399.8 617.6h.01M405.9 617.3h.01M405.3 617.7h.01M408.9 617.9h.01M410.7 617.7h.01M411.0 617.5h.01M411.9 617.7h.01M411.2 617.8h.01M412.5 617.4h.01M413.0 617.7h.01M414.8 617.6h.01M415.6 617.3h.01M417.7 617.3h.01M747.7 617.3h.01M747.6 617.2h.01M748.1 617.1h.01M749.3 617.8h.01M750.5 617.9h.01M750.0 617.9h.01M751.1 617.2h.01M751.2 617.8h.01M753.4 617.3h.01M759.5 617.2h.01M761.3 617.7h.01M258.4 618.4h.01M264.6 618.9h.01M275.2 618.9h.01M311.2 618.4h.01M313.4 618.6h.01M324.7 618.5h.01M335.2 618.8h.01M339.2 618.0h.01M377.0 618.7h.01M397.7 618.2h.01M399.6 618.1h.01M404.2 618.3h.01M406.6 619.0h.01M411.3 618.2h.01M414.3 618.3h.01M415.0 618.4h.01M415.1 618.8h.01M416.3 618.1h.01M416.9 619.0h.01M416.5 618.7h.01M748.0 618.4h.01M752.8 618.8h.01M757.2 618.6h.01M758.8 618.6h.01M760.9 618.0h.01M763.8 618.9h.01M774.9 618.5h.01M784.3 618.5h.01M263.7 619.9h.01M270.3 619.7h.01M310.8 619.4h.01M323.6 619.4h.01M322.2 619.5h.01M328.6 619.3h.01M344.0 619.1h.01M346.8 619.4h.01M368.6 619.3h.01M376.8 619.3h.01M382.8 619.3h.01M389.0 619.8h.01M395.9 619.6h.01M401.4 619.7h.01M410.2 619.1h.01M413.3 619.9h.01M414.9 619.3h.01M417.0 620.0h.01M747.2 619.6h.01M747.7 619.3h.01M748.6 619.9h.01M759.0 619.7h.01M774.0 619.5h.01M776.4 619.1h.01M781.0 619.6h.01M256.2 620.8h.01M263.9 620.0h.01M279.5 620.6h.01M304.0 620.7h.01M310.8 620.4h.01M315.4 620.5h.01M327.9 620.2h.01M330.3 620.4h.01M375.8 620.0h.01M390.0 620.2h.01M390.5 620.6h.01M395.1 621.0h.01M402.8 620.8h.01M406.8 620.7h.01M409.9 620.7h.01M410.3 620.4h.01M749.7 620.7h.01M750.7 620.3h.01M752.3 621.0h.01M756.8 620.4h.01M757.6 620.5h.01M757.3 620.5h.01M762.0 620.7h.01M772.8 620.9h.01M778.3 620.4h.01M251.0 621.7h.01M287.6 621.6h.01M333.8 622.0h.01M401.5 621.6h.01M407.7 621.2h.01M413.4 621.1h.01M415.2 621.5h.01M747.9 621.4h.01M748.9 621.9h.01M751.2 621.2h.01M767.3 621.4h.01M805.6 621.5h.01M853.0 621.3h.01M292.7 622.6h.01M305.2 622.9h.01M312.1 622.4h.01M321.7 622.7h.01M343.2 622.9h.01M357.9 622.5h.01M385.9 622.8h.01M401.3 622.6h.01M403.2 622.6h.01M405.9 622.1h.01M411.5 622.5h.01M412.2 622.8h.01M746.1 622.6h.01M751.8 622.9h.01M753.3 622.2h.01M757.9 622.1h.01M763.1 622.0h.01M773.9 622.2h.01M782.1 622.8h.01M790.9 622.5h.01M270.1 623.8h.01M283.6 623.6h.01M289.6 623.9h.01M306.7 623.8h.01M326.1 623.4h.01M327.6 623.1h.01M373.2 623.3h.01M376.4 623.3h.01M380.6 623.3h.01M384.8 623.3h.01M388.3 623.0h.01M400.9 623.2h.01M403.4 623.6h.01M407.8 623.1h.01M414.8 623.2h.01M415.4 623.0h.01M748.7 623.3h.01M749.4 623.8h.01M749.9 623.7h.01M749.9 623.8h.01M754.7 623.4h.01M755.4 623.7h.01M758.4 623.9h.01M760.7 623.5h.01M772.9 623.4h.01M836.2 623.2h.01M252.0 624.4h.01M263.8 624.6h.01M278.9 624.3h.01M296.7 624.1h.01M304.6 624.5h.01M316.0 625.0h.01M317.2 624.3h.01M319.5 625.0h.01M328.5 624.1h.01M329.5 624.1h.01M358.7 624.8h.01M378.9 624.6h.01M386.5 624.3h.01M387.4 624.6h.01M388.0 624.9h.01M392.7 624.8h.01M392.2 624.9h.01M403.6 624.8h.01M404.1 624.7h.01M411.8 624.4h.01M413.6 624.5h.01M749.4 624.1h.01M751.2 624.8h.01M753.1 624.2h.01M753.6 624.9h.01M754.9 624.7h.01M755.1 624.4h.01M755.2 624.2h.01M756.8 624.5h.01M783.7 624.6h.01M801.0 624.1h.01M804.9 624.0h.01M869.8 624.6h.01M275.8 625.0h.01M288.4 625.7h.01M330.2 625.1h.01M386.5 625.5h.01M390.2 625.0h.01M390.2 625.5h.01M396.9 625.5h.01M405.6 626.0h.01M409.8 625.8h.01M410.0 625.8h.01M411.5 625.1h.01M415.4 625.3h.01M416.0 625.4h.01M746.5 625.2h.01M747.5 625.7h.01M748.0 625.3h.01M749.6 625.4h.01M753.7 625.2h.01M757.3 625.6h.01M760.5 625.8h.01M762.2 625.0h.01M767.5 625.8h.01M770.9 625.3h.01M771.1 625.4h.01M792.0 625.1h.01M258.6 626.3h.01M290.8 626.8h.01M298.0 626.2h.01M303.8 626.6h.01M314.7 626.7h.01M310.5 626.1h.01M327.4 626.1h.01M363.1 626.9h.01M369.2 626.6h.01M382.9 626.1h.01M382.0 626.8h.01M383.7 626.2h.01M381.6 626.8h.01M388.5 626.9h.01M391.5 626.4h.01M397.3 626.8h.01M401.2 626.5h.01M404.4 626.5h.01M406.1 626.8h.01M407.3 626.2h.01M409.5 626.3h.01M411.5 626.7h.01M413.5 626.9h.01M414.7 626.8h.01M415.5 626.6h.01M415.8 626.2h.01M750.0 626.8h.01M751.4 626.9h.01M751.2 626.4h.01M752.1 626.8h.01M755.5 626.8h.01M755.7 626.2h.01M764.9 626.9h.01M764.6 626.0h.01M781.5 626.2h.01M249.8 627.4h.01M273.2 627.5h.01M279.3 627.2h.01M302.4 627.8h.01M309.0 627.8h.01M393.2 627.1h.01M394.3 627.9h.01M394.9 627.6h.01M395.8 627.8h.01M408.5 627.2h.01M411.4 627.4h.01M412.1 627.1h.01M415.0 627.8h.01M414.7 627.3h.01M415.2 627.3h.01M415.4 627.9h.01M747.6 627.0h.01M749.0 627.6h.01M752.8 627.7h.01M755.8 627.1h.01M810.5 627.6h.01M811.0 627.0h.01M311.3 628.5h.01M376.8 628.3h.01M394.7 628.1h.01M408.0 628.1h.01M414.3 628.9h.01M750.5 628.1h.01M755.7 628.9h.01M759.6 628.6h.01M763.4 628.6h.01M778.1 628.9h.01M786.4 629.0h.01M256.8 629.8h.01M274.5 629.8h.01M298.2 629.4h.01M304.6 629.7h.01M321.2 629.7h.01M328.1 629.4h.01M327.1 629.7h.01M341.9 629.7h.01M387.2 629.4h.01M382.3 629.2h.01M394.9 629.7h.01M400.9 629.0h.01M407.5 629.0h.01M415.8 629.7h.01M415.9 629.4h.01M751.0 629.6h.01M750.9 629.3h.01M753.0 629.1h.01M753.1 629.3h.01M763.4 629.1h.01M764.5 629.1h.01M785.4 629.4h.01M786.5 629.2h.01M821.9 629.9h.01M825.5 629.2h.01M853.2 629.3h.01M248.6 630.6h.01M269.1 630.9h.01M269.1 631.0h.01M327.1 630.2h.01M337.0 630.6h.01M371.4 630.2h.01M378.6 630.8h.01M393.4 631.0h.01M399.8 630.3h.01M402.8 630.9h.01M404.4 630.2h.01M407.6 630.6h.01M408.3 630.0h.01M408.7 630.8h.01M409.9 631.0h.01M411.1 630.6h.01M414.2 630.1h.01M414.9 630.2h.01M747.0 630.0h.01M749.6 630.3h.01M751.8 630.5h.01M754.5 630.8h.01M754.9 630.4h.01M756.3 630.8h.01M759.6 630.4h.01M762.5 630.2h.01M774.7 630.1h.01M252.2 631.4h.01M259.4 631.5h.01M288.8 631.3h.01M290.4 631.0h.01M289.1 631.4h.01M289.7 631.9h.01M327.9 631.2h.01M334.1 631.8h.01M347.9 631.1h.01M349.8 631.4h.01M355.5 631.8h.01M357.7 631.6h.01M376.9 631.9h.01M388.7 631.1h.01M393.4 632.0h.01M396.7 631.4h.01M397.2 631.5h.01M397.7 631.3h.01M399.4 631.9h.01M400.9 631.9h.01M401.1 631.5h.01M404.3 631.4h.01M405.8 631.9h.01M405.1 631.9h.01M407.5 631.8h.01M408.1 631.9h.01M408.9 632.0h.01M409.7 631.4h.01M410.5 631.9h.01M410.8 631.6h.01M414.4 631.6h.01M746.1 631.9h.01M749.6 631.1h.01M749.3 631.1h.01M749.7 631.5h.01M754.8 631.1h.01M756.3 631.1h.01M758.4 631.4h.01M764.8 631.6h.01M771.2 631.7h.01M853.3 631.7h.01M262.2 632.3h.01M264.6 632.6h.01M269.6 632.3h.01M282.9 632.8h.01M290.4 632.0h.01M318.1 632.8h.01M336.2 632.5h.01M345.2 632.4h.01M382.3 632.5h.01M398.5 632.6h.01M404.2 632.4h.01M405.7 632.8h.01M407.6 632.8h.01M409.1 632.2h.01M412.9 632.8h.01M413.6 632.5h.01M414.2 632.9h.01M415.0 632.1h.01M748.0 632.2h.01M748.7 632.2h.01M748.0 632.8h.01M748.9 632.9h.01M748.4 632.8h.01M749.0 633.0h.01M749.3 632.9h.01M752.6 632.9h.01M752.3 632.6h.01M755.1 632.3h.01M757.7 632.7h.01M760.0 632.8h.01M766.2 632.1h.01M767.4 632.9h.01M799.9 632.4h.01M274.9 633.8h.01M278.3 633.7h.01M278.8 633.6h.01M297.5 633.0h.01M304.2 633.1h.01M308.9 633.0h.01M314.9 633.9h.01M319.1 633.1h.01M322.1 633.3h.01M320.5 633.6h.01M329.3 633.5h.01M337.3 633.1h.01M343.8 633.7h.01M355.7 633.7h.01M368.5 633.4h.01M369.2 633.3h.01M378.0 633.8h.01M403.0 633.2h.01M404.8 633.1h.01M404.9 633.1h.01M404.1 633.7h.01M407.5 633.3h.01M410.6 633.4h.01M411.4 633.1h.01M414.4 633.6h.01M746.8 633.5h.01M748.0 633.9h.01M750.5 633.9h.01M752.0 633.9h.01M769.8 633.8h.01M774.4 633.6h.01M775.6 633.9h.01M775.3 633.7h.01M258.1 634.0h.01M276.4 634.1h.01M288.6 634.6h.01M295.2 635.0h.01M315.6 634.4h.01M348.2 634.4h.01M365.3 634.3h.01M371.7 634.3h.01M392.4 634.5h.01M394.7 634.6h.01M396.6 634.8h.01M403.1 634.7h.01M404.5 634.0h.01M408.3 634.9h.01M408.8 634.0h.01M409.9 634.6h.01M414.0 634.4h.01M413.7 634.7h.01M746.9 634.5h.01M747.3 634.4h.01M750.3 634.8h.01M751.8 634.9h.01M757.6 634.8h.01M757.9 634.2h.01M760.9 634.3h.01M761.7 634.3h.01M765.5 634.1h.01M793.9 634.0h.01M261.1 636.0h.01M262.8 635.0h.01M263.6 635.3h.01M298.5 635.9h.01M315.0 635.1h.01M321.9 635.1h.01M328.6 635.7h.01M339.4 635.6h.01M352.2 635.8h.01M363.2 635.8h.01M377.1 636.0h.01M392.2 635.5h.01M395.8 635.9h.01M398.2 635.8h.01M402.7 635.0h.01M746.2 635.5h.01M747.5 635.4h.01M750.3 635.1h.01M754.3 635.9h.01M754.9 635.4h.01M757.1 635.8h.01M771.5 635.5h.01M831.3 635.3h.01M835.0 635.9h.01M263.8 636.6h.01M264.1 636.4h.01M266.3 636.0h.01M279.0 636.5h.01M296.7 636.1h.01M295.8 637.0h.01M298.0 636.4h.01M327.9 636.8h.01M344.2 636.1h.01M344.6 636.7h.01M374.1 637.0h.01M382.3 636.7h.01M393.5 636.2h.01M401.9 636.3h.01M406.8 636.3h.01M410.6 636.7h.01M410.1 637.0h.01M411.3 636.9h.01M412.4 636.2h.01M413.3 637.0h.01M416.0 636.4h.01M745.3 636.3h.01M747.7 636.2h.01M748.3 636.6h.01M748.5 636.1h.01M748.9 636.6h.01M749.5 636.6h.01M755.7 636.9h.01M759.6 636.3h.01M761.5 636.5h.01M764.7 636.5h.01M764.4 636.4h.01M769.7 636.5h.01M778.2 636.8h.01M781.9 636.4h.01M798.2 636.2h.01M846.8 636.1h.01M263.5 637.1h.01M270.4 637.1h.01M290.7 637.5h.01M311.0 637.9h.01M312.2 637.0h.01M315.3 637.5h.01M315.5 637.8h.01M313.9 637.8h.01M330.0 637.5h.01M339.7 637.4h.01M347.2 637.7h.01M371.5 637.1h.01M374.7 637.8h.01M383.0 637.2h.01M407.1 637.0h.01M408.5 637.7h.01M410.3 637.6h.01M410.3 637.7h.01M412.8 637.3h.01M415.5 637.0h.01M746.2 637.0h.01M747.2 637.8h.01M747.6 637.9h.01M750.1 637.5h.01M762.7 637.6h.01M772.9 637.8h.01M777.0 637.9h.01M779.7 637.7h.01M780.4 637.6h.01M857.0 637.8h.01M289.4 638.0h.01M297.6 638.6h.01M311.2 639.0h.01M314.5 638.8h.01M322.4 638.7h.01M328.2 638.5h.01M358.9 638.2h.01M365.2 638.0h.01M371.6 639.0h.01M392.6 638.5h.01M393.4 638.1h.01M395.2 638.6h.01M400.0 638.9h.01M401.9 638.4h.01M403.4 638.0h.01M403.7 638.2h.01M407.0 638.5h.01M407.6 638.6h.01M409.9 638.6h.01M411.5 638.7h.01M414.0 638.9h.01M415.0 638.3h.01M415.6 638.4h.01M415.4 638.6h.01M745.9 638.1h.01M748.2 638.3h.01M749.2 638.6h.01M750.1 638.2h.01M753.9 638.3h.01M760.0 638.1h.01M786.8 639.0h.01M266.9 639.2h.01M271.8 639.7h.01M275.0 639.8h.01M282.4 639.3h.01M311.6 639.8h.01M321.5 639.5h.01M330.3 639.7h.01M338.4 639.9h.01M389.4 639.4h.01M406.2 639.8h.01M415.7 639.9h.01M415.0 639.8h.01M745.7 639.0h.01M746.4 639.0h.01M746.4 639.5h.01M746.2 639.5h.01M746.8 640.0h.01M747.5 639.3h.01M747.3 639.4h.01M748.2 639.6h.01M749.6 639.4h.01M751.8 639.5h.01M757.8 639.2h.01M764.2 639.8h.01M767.7 639.3h.01M771.0 639.6h.01M778.1 639.8h.01M800.1 639.0h.01M810.7 639.6h.01M249.6 640.6h.01M263.5 640.1h.01M283.8 640.3h.01M315.0 640.6h.01M335.5 640.2h.01M365.3 640.8h.01M383.2 641.0h.01M386.1 640.4h.01M389.9 640.1h.01M393.2 640.2h.01M394.5 640.7h.01M397.2 640.1h.01M399.9 640.7h.01M399.6 640.5h.01M402.3 640.2h.01M402.7 640.1h.01M407.9 640.8h.01M411.0 640.3h.01M412.1 640.4h.01M414.4 640.2h.01M414.4 640.6h.01M414.5 641.0h.01M414.1 640.8h.01M748.8 640.8h.01M752.4 640.8h.01M761.7 640.8h.01M764.5 640.6h.01M766.5 640.4h.01M774.6 640.3h.01M777.7 641.0h.01M786.8 640.6h.01M823.4 640.5h.01M248.0 641.9h.01M258.8 641.6h.01M259.1 641.5h.01M283.6 641.4h.01M282.8 641.4h.01M290.8 641.2h.01M296.8 641.9h.01M311.4 641.7h.01M317.1 641.2h.01M321.7 641.1h.01M321.9 642.0h.01M321.8 641.5h.01M328.1 642.0h.01M329.7 641.6h.01M334.0 641.0h.01M351.1 642.0h.01M361.4 641.4h.01M382.6 641.7h.01M392.6 641.1h.01M399.0 641.4h.01M404.1 641.5h.01M406.4 641.4h.01M407.3 641.3h.01M408.6 641.1h.01M413.3 641.2h.01M415.2 641.7h.01M415.3 641.7h.01M746.0 641.3h.01M748.9 641.0h.01M749.8 641.9h.01M749.7 641.2h.01M750.0 641.7h.01M755.9 641.2h.01M759.7 641.7h.01M764.2 642.0h.01M770.3 641.2h.01M807.6 641.2h.01M824.2 641.1h.01M839.5 641.4h.01M257.5 642.0h.01M267.8 642.1h.01M288.9 642.7h.01M301.9 642.1h.01M312.0 642.3h.01M314.6 642.6h.01M318.3 642.6h.01M333.9 642.4h.01M350.5 642.1h.01M371.6 643.0h.01M386.7 642.4h.01M401.0 642.9h.01M403.5 642.4h.01M408.5 642.4h.01M408.4 642.1h.01M408.2 642.7h.01M411.3 642.1h.01M411.7 642.9h.01M415.3 642.1h.01M744.5 642.3h.01M744.3 642.3h.01M746.7 642.4h.01M746.8 642.5h.01M746.6 642.6h.01M746.6 642.6h.01M747.9 642.9h.01M749.8 642.3h.01M753.2 642.5h.01M753.1 642.5h.01M759.9 642.3h.01M763.1 642.9h.01M768.9 642.3h.01M864.9 642.1h.01M264.0 643.1h.01M280.7 643.8h.01M285.2 643.8h.01M288.4 643.2h.01M311.4 643.8h.01M311.1 643.8h.01M321.6 643.3h.01M337.3 643.5h.01M391.1 643.6h.01M393.5 643.2h.01M395.4 643.6h.01M397.0 643.6h.01M396.7 644.0h.01M401.6 643.8h.01M404.2 643.4h.01M409.8 643.6h.01M414.0 643.9h.01M414.8 643.6h.01M414.3 643.9h.01M744.2 643.5h.01M745.1 643.7h.01M745.4 643.4h.01M745.5 643.8h.01M751.4 643.4h.01M752.7 643.3h.01M764.8 643.8h.01M767.5 643.8h.01M771.0 643.0h.01M780.3 643.6h.01M813.1 643.8h.01M853.5 644.0h.01M264.1 644.4h.01M268.9 644.5h.01M284.9 644.2h.01M293.4 644.7h.01M300.8 644.8h.01M297.8 644.2h.01M303.1 645.0h.01M303.7 644.1h.01M304.3 644.8h.01M321.4 644.5h.01M370.4 644.3h.01M372.6 644.2h.01M384.0 644.4h.01M390.4 644.1h.01M393.7 644.5h.01M399.2 644.6h.01M405.2 644.7h.01M406.4 644.3h.01M406.4 644.6h.01M407.6 644.6h.01M409.2 644.7h.01M409.4 644.9h.01M411.7 644.2h.01M414.1 644.1h.01M749.8 644.3h.01M751.2 644.6h.01M753.4 644.9h.01M753.5 644.6h.01M758.3 644.5h.01M760.5 644.8h.01M764.3 644.3h.01M766.6 644.6h.01M770.3 644.4h.01M775.7 644.9h.01M821.0 644.2h.01M249.5 645.6h.01M249.5 645.2h.01M289.3 645.9h.01M301.2 645.8h.01M316.1 645.6h.01M326.3 645.7h.01M330.7 645.9h.01M328.7 645.4h.01M334.9 645.4h.01M382.1 645.9h.01M396.1 645.2h.01M402.0 645.4h.01M403.9 645.9h.01M404.5 645.3h.01M744.7 645.2h.01M746.3 645.9h.01M746.0 645.4h.01M750.3 645.5h.01M753.3 645.3h.01M755.2 645.3h.01M771.1 645.5h.01M774.1 645.5h.01M251.3 646.1h.01M275.3 646.3h.01M276.2 646.3h.01M288.8 646.3h.01M306.0 646.3h.01M307.4 646.1h.01M328.1 646.2h.01M351.7 646.6h.01M372.0 646.0h.01M377.4 646.2h.01M392.7 646.4h.01M398.2 646.5h.01M400.2 646.3h.01M403.0 646.1h.01M403.1 646.2h.01M409.5 646.4h.01M411.9 646.1h.01M413.6 646.5h.01M744.9 646.6h.01M749.5 646.6h.01M750.5 646.9h.01M760.4 646.1h.01M770.1 646.7h.01M772.8 646.8h.01M852.1 646.4h.01M867.1 646.2h.01M865.1 646.1h.01M871.6 646.2h.01M265.6 647.2h.01M280.1 647.2h.01M282.6 647.7h.01M297.1 647.8h.01M305.1 647.4h.01M315.0 647.9h.01M335.8 647.0h.01M357.2 647.3h.01M382.9 647.4h.01M404.7 648.0h.01M410.8 647.7h.01M411.2 647.3h.01M414.6 647.6h.01M414.5 647.1h.01M415.9 647.0h.01M749.2 648.0h.01M751.4 647.8h.01M753.0 647.6h.01M756.1 647.1h.01M763.9 648.0h.01M769.9 647.8h.01M771.7 647.0h.01M783.3 647.3h.01M788.7 647.4h.01M263.8 648.3h.01M289.6 648.7h.01M313.4 648.1h.01M339.8 648.2h.01M375.9 648.3h.01M398.9 648.5h.01M399.3 648.6h.01M400.7 648.2h.01M406.9 648.3h.01M406.0 648.6h.01M409.3 648.9h.01M412.9 648.3h.01M412.3 648.7h.01M412.6 648.1h.01M416.0 648.0h.01M745.5 649.0h.01M746.4 648.4h.01M746.8 648.7h.01M747.9 648.1h.01M749.5 648.6h.01M756.2 648.2h.01M762.4 648.9h.01M784.9 648.8h.01M787.2 648.6h.01M838.0 648.9h.01M866.7 648.4h.01M262.5 649.7h.01M263.5 649.3h.01M270.3 649.0h.01M309.7 649.6h.01M376.8 649.9h.01M380.3 649.7h.01M395.9 649.1h.01M397.0 649.4h.01M398.4 649.5h.01M400.6 649.0h.01M402.7 649.9h.01M411.6 649.3h.01M414.6 649.7h.01M415.4 649.5h.01M745.5 650.0h.01M746.3 649.6h.01M746.8 649.3h.01M763.0 649.1h.01M764.4 649.2h.01M768.8 649.2h.01M250.0 650.1h.01M256.4 650.4h.01M268.1 650.9h.01M311.8 650.6h.01M314.5 650.5h.01M314.3 650.6h.01M326.5 650.8h.01M348.7 650.9h.01M372.3 650.9h.01M380.3 650.7h.01M404.3 650.7h.01M405.2 650.7h.01M410.2 650.9h.01M410.7 650.8h.01M410.7 650.4h.01M411.9 650.4h.01M411.3 650.7h.01M412.8 650.1h.01M745.2 650.4h.01M746.3 650.9h.01M749.8 650.8h.01M749.5 650.5h.01M750.6 650.4h.01M751.3 650.1h.01M752.2 650.0h.01M754.6 650.9h.01M756.2 650.0h.01M764.4 650.9h.01M773.2 650.8h.01M794.9 650.7h.01M256.0 651.9h.01M257.5 651.9h.01M279.2 651.4h.01M301.0 651.4h.01M305.0 651.6h.01M321.4 651.9h.01M324.7 652.0h.01M326.4 651.5h.01M332.5 651.9h.01M341.0 651.3h.01M376.8 651.3h.01M391.1 651.5h.01M401.9 651.9h.01M404.9 651.9h.01M404.2 651.2h.01M408.2 651.8h.01M410.2 651.7h.01M411.8 651.3h.01M412.0 651.8h.01M745.6 651.6h.01M746.5 651.6h.01M748.0 651.2h.01M749.3 651.6h.01M750.7 651.5h.01M753.1 651.6h.01M757.5 652.0h.01M760.8 651.4h.01M767.8 651.7h.01M784.6 651.5h.01M788.5 651.3h.01M268.4 652.8h.01M279.5 652.1h.01M290.4 652.6h.01M297.0 652.8h.01M313.2 652.9h.01M310.7 652.6h.01M328.9 652.4h.01M329.3 652.3h.01M336.0 652.1h.01M371.9 652.8h.01M382.8 652.3h.01M389.2 652.2h.01M400.0 652.3h.01M412.3 652.5h.01M414.4 652.1h.01M415.1 652.8h.01M745.8 652.1h.01M745.5 652.5h.01M746.1 652.8h.01M746.8 652.9h.01M746.8 652.7h.01M749.8 652.0h.01M756.5 652.3h.01M764.1 652.8h.01M764.2 653.0h.01M794.8 653.0h.01M798.9 652.8h.01M803.0 652.8h.01M804.6 652.3h.01M815.2 653.0h.01M268.3 653.6h.01M269.8 653.3h.01M290.5 653.4h.01M320.5 653.8h.01M326.7 653.3h.01M328.8 653.6h.01M330.1 654.0h.01M330.2 653.2h.01M352.2 653.8h.01M361.0 653.3h.01M377.1 653.2h.01M377.4 653.0h.01M382.2 653.6h.01M389.0 653.9h.01M392.6 653.7h.01M395.5 653.2h.01M400.1 653.1h.01M401.2 653.2h.01M404.7 653.4h.01M410.1 653.8h.01M415.9 653.6h.01M415.5 653.1h.01M744.9 653.2h.01M746.2 653.2h.01M748.1 653.1h.01M751.8 653.8h.01M752.4 653.4h.01M766.0 653.6h.01M772.1 653.2h.01M852.5 653.2h.01M259.2 654.1h.01M293.9 654.3h.01M328.9 654.1h.01M371.7 654.1h.01M383.2 654.0h.01M382.2 654.2h.01M397.6 654.2h.01M404.2 654.1h.01M404.2 654.5h.01M405.3 654.7h.01M410.5 654.7h.01M410.9 654.4h.01M411.6 654.6h.01M412.0 654.4h.01M415.9 654.5h.01M744.2 654.6h.01M745.2 654.2h.01M753.5 654.1h.01M755.2 654.8h.01M769.6 655.0h.01M263.9 655.7h.01M270.4 655.7h.01M274.2 655.0h.01M286.3 655.0h.01M296.2 655.6h.01M314.4 655.3h.01M322.3 655.5h.01M328.1 655.8h.01M388.0 655.9h.01M388.5 655.8h.01M389.4 655.7h.01M391.5 655.3h.01M397.0 655.9h.01M398.7 655.9h.01M405.7 655.7h.01M407.4 655.4h.01M411.0 655.6h.01M410.3 655.5h.01M411.1 655.8h.01M411.1 655.9h.01M412.3 655.4h.01M414.3 655.5h.01M745.4 655.4h.01M747.1 655.6h.01M748.9 655.3h.01M748.4 656.0h.01M750.8 655.5h.01M752.0 655.8h.01M753.8 655.9h.01M767.9 655.4h.01M767.8 655.7h.01M778.7 655.6h.01M256.4 656.9h.01M275.9 656.7h.01M292.2 656.5h.01M311.5 656.5h.01M316.4 656.9h.01M326.3 656.5h.01M342.6 657.0h.01M376.5 656.2h.01M377.1 656.7h.01M377.4 656.8h.01M389.1 656.7h.01M396.0 657.0h.01M397.2 656.8h.01M398.2 656.2h.01M400.4 656.4h.01M404.5 656.8h.01M408.0 656.8h.01M409.7 656.8h.01M409.2 656.6h.01M410.2 656.1h.01M412.2 656.5h.01M413.5 656.5h.01M415.2 656.8h.01M747.5 656.2h.01M749.3 656.8h.01M750.8 656.1h.01M750.1 656.1h.01M752.0 656.7h.01M752.1 656.4h.01M752.9 656.0h.01M768.5 656.9h.01M771.2 656.8h.01M257.9 657.3h.01M259.1 657.4h.01M269.3 657.6h.01M276.8 657.6h.01M280.7 657.8h.01M298.1 657.2h.01M311.5 657.0h.01M323.3 657.7h.01M323.2 657.4h.01M394.2 657.7h.01M397.4 657.3h.01M397.3 657.9h.01M400.2 657.2h.01M402.0 657.9h.01M403.0 657.5h.01M404.9 657.8h.01M407.5 657.0h.01M407.5 657.9h.01M410.0 657.4h.01M412.5 657.6h.01M415.7 658.0h.01M743.4 657.5h.01M743.3 657.7h.01M744.1 657.8h.01M746.5 657.2h.01M748.8 658.0h.01M748.5 657.7h.01M749.5 657.2h.01M753.6 657.6h.01M760.5 657.1h.01M762.1 657.4h.01M769.7 657.9h.01M773.9 657.6h.01M778.8 657.5h.01M785.3 657.3h.01M810.2 657.4h.01M311.2 658.0h.01M322.5 658.9h.01M323.2 658.7h.01M327.4 658.7h.01M377.5 658.7h.01M394.1 658.8h.01M401.7 658.1h.01M404.4 658.5h.01M406.3 658.6h.01M408.7 658.5h.01M408.7 658.7h.01M409.6 658.2h.01M410.6 658.7h.01M413.1 658.1h.01M414.1 658.1h.01M743.8 658.4h.01M743.9 658.9h.01M745.5 658.3h.01M746.5 658.8h.01M747.8 658.7h.01M747.6 658.7h.01M756.3 658.8h.01M759.9 658.2h.01M762.5 658.3h.01M766.0 658.5h.01M771.0 658.7h.01M257.1 659.9h.01M269.3 659.3h.01M282.5 659.0h.01M282.1 659.9h.01M286.5 659.4h.01M304.3 659.4h.01M346.1 660.0h.01M347.5 659.7h.01M360.2 659.8h.01M398.3 659.1h.01M407.5 659.5h.01M408.1 659.5h.01M410.7 659.0h.01M411.3 659.6h.01M411.3 659.2h.01M415.0 659.4h.01M743.6 659.6h.01M744.3 659.6h.01M745.3 659.7h.01M749.5 659.2h.01M760.9 659.8h.01M761.2 659.2h.01M767.9 659.3h.01M786.4 659.1h.01M823.1 659.2h.01M257.2 660.4h.01M283.7 660.9h.01M289.9 660.7h.01M296.8 660.2h.01M304.9 660.6h.01M355.7 660.1h.01M385.7 660.5h.01M390.3 660.9h.01M393.0 660.5h.01M400.2 660.3h.01M400.4 660.6h.01M408.6 660.5h.01M409.3 660.9h.01M413.4 660.1h.01M415.0 660.2h.01M745.9 660.0h.01M747.6 660.5h.01M248.7 661.8h.01M253.1 661.7h.01M265.9 661.6h.01M296.4 661.8h.01M343.8 661.5h.01M383.1 661.9h.01M391.2 661.5h.01M393.9 661.6h.01M394.5 661.6h.01M395.1 661.5h.01M399.3 661.5h.01M405.0 661.1h.01M406.3 661.4h.01M406.5 661.9h.01M407.5 661.9h.01M412.7 661.1h.01M412.6 661.6h.01M415.4 661.3h.01M744.1 661.3h.01M746.0 661.3h.01M749.8 661.8h.01M758.2 661.2h.01M777.6 661.2h.01M270.4 662.2h.01M282.0 662.9h.01M281.4 662.6h.01M316.4 662.8h.01M335.0 662.8h.01M388.8 662.3h.01M388.0 662.8h.01M394.0 662.5h.01M402.5 662.3h.01M403.3 662.1h.01M409.6 662.8h.01M412.9 662.4h.01M747.0 662.5h.01M747.9 662.0h.01M748.6 662.9h.01M829.4 662.4h.01M263.3 663.2h.01M268.9 663.6h.01M285.9 663.7h.01M298.3 663.6h.01M312.6 663.2h.01M311.0 663.4h.01M337.8 663.6h.01M348.2 663.9h.01M362.8 663.5h.01M381.7 663.1h.01M382.5 663.1h.01M381.9 663.1h.01M398.5 663.1h.01M404.5 663.6h.01M406.3 663.2h.01M409.0 663.5h.01M409.6 663.2h.01M412.2 663.4h.01M413.7 663.6h.01M413.0 663.4h.01M413.3 663.8h.01M414.8 663.1h.01M414.6 663.7h.01M743.3 663.7h.01M748.9 663.1h.01M748.8 663.0h.01M752.3 663.7h.01M753.1 663.9h.01M766.2 663.4h.01M766.8 663.7h.01M777.5 663.0h.01M814.6 663.2h.01M821.2 663.6h.01M860.2 663.2h.01M263.9 664.3h.01M264.8 664.7h.01M277.3 664.1h.01M294.9 664.9h.01M295.3 664.6h.01M296.5 664.1h.01M314.4 664.4h.01M322.7 664.6h.01M359.4 664.4h.01M382.5 664.9h.01M394.4 664.5h.01M407.4 664.4h.01M407.8 664.8h.01M408.2 664.7h.01M409.0 664.9h.01M411.9 665.0h.01M411.2 664.3h.01M415.6 664.3h.01M745.3 664.8h.01M745.5 664.9h.01M747.1 664.1h.01M751.9 664.1h.01M753.7 664.1h.01M759.0 665.0h.01M760.8 664.5h.01M768.3 664.5h.01M769.1 664.5h.01M770.3 664.5h.01M256.7 665.6h.01M261.0 665.2h.01M291.3 665.5h.01M297.2 665.5h.01M316.9 665.8h.01M322.2 665.6h.01M322.0 665.2h.01M327.7 665.1h.01M358.8 665.6h.01M364.2 666.0h.01M366.0 666.0h.01M373.3 665.8h.01M374.0 665.0h.01M378.2 665.1h.01M404.2 665.8h.01M406.9 665.8h.01M406.6 665.2h.01M407.7 665.9h.01M413.4 665.8h.01M415.4 665.7h.01M746.0 666.0h.01M748.5 665.9h.01M760.7 665.8h.01M763.2 665.1h.01M772.9 665.5h.01M773.9 665.2h.01M773.3 665.8h.01M253.8 666.3h.01M313.3 666.9h.01M323.3 666.8h.01M326.7 666.4h.01M331.4 666.8h.01M381.9 666.2h.01M404.1 666.2h.01M406.1 666.4h.01M408.2 666.9h.01M409.5 666.4h.01M410.6 666.3h.01M743.5 666.1h.01M746.1 666.1h.01M748.5 666.6h.01M752.0 666.6h.01M752.3 666.8h.01M756.9 666.3h.01M760.9 666.1h.01M760.8 666.1h.01M765.0 666.8h.01M769.0 666.4h.01M770.9 666.7h.01M773.7 666.9h.01M816.9 666.6h.01M264.5 667.5h.01M281.8 667.1h.01M281.8 667.7h.01M297.4 667.0h.01M304.7 667.6h.01M315.9 667.8h.01M337.2 667.0h.01M340.9 667.1h.01M387.4 667.1h.01M391.4 667.5h.01M403.0 667.1h.01M407.1 667.7h.01M409.5 667.5h.01M411.1 667.7h.01M412.0 667.6h.01M415.7 667.5h.01M416.0 667.0h.01M746.3 667.8h.01M748.0 667.8h.01M749.3 667.3h.01M749.9 667.8h.01M749.1 667.6h.01M750.2 667.8h.01M750.4 667.6h.01M751.7 667.9h.01M760.4 667.9h.01M764.4 667.0h.01M247.3 668.4h.01M265.5 668.5h.01M268.9 668.6h.01M271.7 668.0h.01M278.3 668.7h.01M297.3 668.7h.01M310.8 668.4h.01M323.2 668.3h.01M362.6 668.1h.01M364.7 668.1h.01M371.4 668.8h.01M368.6 668.7h.01M382.5 668.0h.01M397.8 668.6h.01M400.1 668.1h.01M403.5 668.9h.01M403.4 668.3h.01M406.2 668.2h.01M410.6 668.9h.01M745.5 668.7h.01M746.4 668.2h.01M749.6 668.8h.01M751.5 668.6h.01M752.2 668.6h.01M765.6 668.6h.01M771.5 668.9h.01M269.9 669.3h.01M268.4 669.1h.01M303.7 669.6h.01M312.6 669.4h.01M315.6 669.2h.01M322.6 669.3h.01M323.8 669.1h.01M327.7 669.7h.01M327.3 669.9h.01M390.1 669.4h.01M393.4 669.4h.01M395.2 669.7h.01M399.9 669.3h.01M402.6 669.8h.01M402.0 669.1h.01M404.5 669.1h.01M404.6 669.4h.01M405.2 669.8h.01M409.5 669.5h.01M411.0 669.8h.01M410.7 669.5h.01M410.3 669.3h.01M413.3 669.1h.01M744.9 669.3h.01M745.4 669.6h.01M747.2 669.7h.01M753.4 669.5h.01M753.1 669.1h.01M754.5 669.3h.01M757.0 669.7h.01M759.1 669.5h.01M768.7 669.0h.01M769.6 669.3h.01M776.5 669.5h.01M303.6 670.7h.01M310.2 670.9h.01M314.1 670.9h.01M330.6 670.1h.01M335.9 670.4h.01M334.7 670.6h.01M346.6 670.8h.01M361.5 670.6h.01M377.3 670.4h.01M383.4 670.9h.01M390.7 670.3h.01M397.9 670.1h.01M402.0 670.7h.01M403.4 671.0h.01M409.6 670.0h.01M412.6 670.9h.01M414.2 670.4h.01M414.6 670.9h.01M743.7 670.7h.01M745.0 670.6h.01M750.1 670.6h.01M752.6 670.2h.01M754.5 670.7h.01M755.7 670.1h.01M755.4 670.2h.01M756.1 670.7h.01M764.3 670.2h.01M808.0 670.0h.01M259.2 671.9h.01M270.6 671.5h.01M279.4 671.9h.01M284.2 671.7h.01M326.6 671.4h.01M328.5 671.0h.01M335.5 671.9h.01M362.7 671.0h.01M376.9 671.4h.01M377.5 671.8h.01M393.9 671.6h.01M394.7 671.6h.01M397.8 671.7h.01M401.1 671.8h.01M404.3 671.5h.01M405.4 671.3h.01M408.4 671.1h.01M408.1 671.3h.01M410.7 672.0h.01M415.2 671.6h.01M753.1 671.7h.01M757.6 671.1h.01M762.5 671.5h.01M781.4 671.7h.01M783.8 671.5h.01M260.6 672.9h.01M291.3 672.6h.01M296.8 672.1h.01M296.9 672.9h.01M304.0 672.7h.01M311.6 672.2h.01M311.4 673.0h.01M313.9 672.8h.01M332.2 672.3h.01M378.9 672.5h.01M393.5 672.6h.01M398.6 673.0h.01M401.8 672.1h.01M404.4 672.2h.01M404.3 672.7h.01M407.2 672.7h.01M415.0 672.3h.01M743.5 672.2h.01M748.6 672.8h.01M767.5 672.4h.01M256.5 673.6h.01M299.0 673.6h.01M322.1 673.9h.01M326.6 673.2h.01M335.3 673.3h.01M363.3 673.8h.01M371.9 673.2h.01M370.0 673.7h.01M371.2 673.2h.01M397.5 673.5h.01M406.8 673.1h.01M408.4 674.0h.01M408.1 673.8h.01M408.0 673.5h.01M410.2 673.1h.01M412.4 673.8h.01M414.9 673.2h.01M743.1 673.4h.01M745.3 673.4h.01M746.7 673.5h.01M747.1 673.6h.01M747.3 673.7h.01M747.2 673.2h.01M750.6 673.3h.01M757.2 673.8h.01M757.8 673.2h.01M769.3 673.2h.01M264.0 674.2h.01M272.5 674.8h.01M274.7 674.1h.01M316.6 674.8h.01M337.2 674.9h.01M365.4 675.0h.01M373.0 674.5h.01M391.8 674.1h.01M400.5 674.7h.01M404.0 674.2h.01M406.4 674.4h.01M409.3 674.0h.01M410.1 674.5h.01M412.1 674.3h.01M742.8 674.6h.01M742.1 674.3h.01M743.4 674.8h.01M747.6 674.5h.01M748.0 674.0h.01M778.0 674.6h.01M786.7 674.9h.01M283.2 675.2h.01M288.7 675.8h.01M311.0 675.6h.01M310.0 675.2h.01M323.5 676.0h.01M331.3 675.9h.01M398.8 675.9h.01M404.6 675.8h.01M405.6 675.9h.01M408.6 675.2h.01M410.2 675.2h.01M411.3 675.6h.01M744.1 675.0h.01M744.7 675.7h.01M744.2 675.2h.01M745.2 675.8h.01M747.1 675.1h.01M750.0 675.7h.01M750.1 675.6h.01M781.7 675.9h.01M822.9 675.7h.01M257.2 676.2h.01M264.0 676.6h.01M283.3 676.6h.01M283.6 677.0h.01M289.2 676.0h.01M315.5 676.1h.01M321.8 676.9h.01M322.2 677.0h.01M327.4 676.6h.01M360.2 676.2h.01M389.3 676.9h.01M407.9 676.3h.01M410.9 676.5h.01M411.8 676.9h.01M413.3 676.3h.01M415.9 676.6h.01M415.7 676.1h.01M415.9 676.5h.01M743.7 676.2h.01M744.0 676.4h.01M744.5 676.4h.01M745.7 676.7h.01M745.1 676.1h.01M746.8 676.3h.01M746.0 676.4h.01M747.6 676.6h.01M750.2 676.8h.01M761.0 676.2h.01M760.5 676.5h.01M763.4 676.5h.01M775.1 676.4h.01M804.0 676.7h.01M868.3 676.5h.01M263.2 677.4h.01M269.3 677.5h.01M271.6 677.6h.01M278.8 677.8h.01M285.3 677.9h.01M298.7 677.5h.01M303.8 677.3h.01M311.3 677.5h.01M322.4 677.7h.01M322.1 677.0h.01M377.3 677.2h.01M391.5 677.2h.01M393.6 677.0h.01M402.6 677.4h.01M405.2 678.0h.01M408.9 677.8h.01M408.8 677.5h.01M409.0 677.1h.01M409.5 677.3h.01M410.3 677.1h.01M745.9 677.4h.01M756.0 677.6h.01M760.1 677.2h.01M770.8 677.6h.01M775.3 678.0h.01M256.8 678.5h.01M256.1 678.5h.01M261.8 678.7h.01M284.5 678.8h.01M286.1 678.6h.01M287.6 678.4h.01M311.7 678.2h.01M315.6 678.7h.01M371.4 678.9h.01M374.8 678.4h.01M388.4 678.3h.01M402.7 678.7h.01M404.0 678.8h.01M743.0 678.7h.01M743.0 678.3h.01M745.6 678.8h.01M748.8 678.0h.01M751.4 678.4h.01M759.2 678.0h.01M762.9 678.2h.01M768.0 678.1h.01M782.4 678.8h.01M249.6 679.7h.01M271.4 679.8h.01M272.8 680.0h.01M322.5 679.4h.01M328.8 679.8h.01M329.2 679.0h.01M382.5 679.6h.01M382.5 679.3h.01M389.8 679.6h.01M394.8 679.9h.01M395.7 679.2h.01M411.8 679.9h.01M413.7 679.1h.01M413.2 679.3h.01M743.6 679.1h.01M743.2 679.2h.01M747.0 679.8h.01M764.0 679.6h.01M783.8 679.9h.01M794.3 679.1h.01M250.0 680.5h.01M256.6 680.3h.01M269.7 680.7h.01M275.4 680.4h.01M300.1 680.9h.01M308.7 680.2h.01M311.6 680.8h.01M314.3 680.6h.01M327.9 681.0h.01M370.9 680.5h.01M381.7 680.2h.01M383.3 680.2h.01M399.1 680.3h.01M407.0 680.3h.01M409.4 680.7h.01M409.5 680.3h.01M410.9 680.5h.01M410.7 680.9h.01M411.4 680.7h.01M412.5 680.2h.01M413.1 680.4h.01M413.2 680.5h.01M413.3 680.5h.01M743.9 680.2h.01M744.0 680.5h.01M756.2 680.4h.01M772.2 680.1h.01M828.3 680.8h.01M859.1 680.2h.01M256.5 681.8h.01M258.7 681.9h.01M269.7 681.4h.01M273.0 681.1h.01M274.4 681.1h.01M276.5 681.8h.01M277.6 682.0h.01M283.5 681.6h.01M327.0 681.6h.01M364.3 681.7h.01M379.2 681.8h.01M392.3 681.1h.01M398.1 681.2h.01M400.8 681.2h.01M400.6 681.8h.01M405.0 681.2h.01M407.5 681.9h.01M410.2 681.8h.01M743.8 681.9h.01M746.9 681.8h.01M751.8 681.6h.01M765.8 681.7h.01M765.5 681.7h.01M768.9 681.5h.01M768.9 681.7h.01M769.2 681.3h.01M798.9 681.6h.01M261.7 682.8h.01M262.3 682.3h.01M263.5 682.1h.01M275.5 682.8h.01M304.2 682.8h.01M318.9 682.8h.01M321.6 682.3h.01M335.0 682.3h.01M332.2 682.2h.01M354.0 683.0h.01M355.2 683.0h.01M371.3 682.2h.01M373.6 682.0h.01M376.7 682.1h.01M377.2 682.3h.01M385.9 682.0h.01M390.3 682.8h.01M392.9 682.0h.01M396.4 682.5h.01M404.5 682.3h.01M406.5 682.3h.01M406.0 682.1h.01M410.4 682.4h.01M415.6 682.7h.01M744.8 682.0h.01M744.4 682.8h.01M747.3 682.1h.01M757.4 682.8h.01M757.3 682.4h.01M760.7 682.9h.01M766.7 682.5h.01M774.5 683.0h.01M777.9 682.7h.01M780.2 682.4h.01M780.9 682.7h.01M860.8 682.5h.01M268.5 683.5h.01M273.4 683.3h.01M281.8 683.3h.01M283.6 683.7h.01M297.4 683.2h.01M304.7 683.3h.01M303.7 683.6h.01M321.3 684.0h.01M335.0 683.0h.01M364.2 683.2h.01M382.2 683.2h.01M403.0 683.3h.01M404.3 683.5h.01M408.3 683.0h.01M410.1 683.4h.01M410.5 683.9h.01M410.4 683.9h.01M413.4 683.7h.01M415.3 683.1h.01M742.6 683.0h.01M742.2 683.4h.01M743.2 683.7h.01M743.6 683.6h.01M746.8 683.9h.01M776.6 683.1h.01M256.8 684.2h.01M255.9 684.3h.01M282.7 684.1h.01M313.9 684.2h.01M321.8 684.4h.01M329.1 685.0h.01M357.6 684.5h.01M377.1 684.3h.01M392.2 684.1h.01M392.3 684.4h.01M392.2 684.0h.01M394.6 684.6h.01M402.9 685.0h.01M402.9 684.3h.01M402.9 684.2h.01M411.7 684.8h.01M411.5 684.2h.01M412.6 684.5h.01M412.6 684.6h.01M414.4 684.6h.01M414.4 684.7h.01M742.9 684.2h.01M742.4 684.9h.01M743.6 684.3h.01M747.2 684.5h.01M747.8 684.7h.01M748.6 684.1h.01M749.7 684.0h.01M751.0 684.2h.01M758.3 684.4h.01M764.8 684.4h.01M772.7 684.8h.01M777.9 684.8h.01M819.7 684.0h.01M256.8 685.8h.01M261.7 685.0h.01M278.1 685.5h.01M280.5 685.0h.01M280.2 685.0h.01M282.9 685.3h.01M283.0 685.2h.01M283.7 685.0h.01M289.9 685.2h.01M287.1 685.4h.01M295.1 685.7h.01M311.3 685.1h.01M311.2 685.0h.01M322.3 685.2h.01M329.1 685.3h.01M334.3 685.6h.01M353.3 685.3h.01M387.0 685.8h.01M389.9 685.9h.01M398.9 685.3h.01M403.4 685.5h.01M403.9 685.1h.01M409.1 685.2h.01M411.8 685.1h.01M411.0 685.0h.01M413.9 685.9h.01M414.4 685.5h.01M743.7 685.5h.01M744.8 685.2h.01M746.8 685.7h.01M750.5 685.3h.01M750.1 685.9h.01M750.5 685.6h.01M751.7 685.3h.01M759.1 686.0h.01M759.9 685.6h.01M760.0 685.7h.01M764.4 685.8h.01M766.8 685.2h.01M263.8 686.4h.01M266.5 686.4h.01M270.1 686.8h.01M282.4 686.7h.01M297.6 686.2h.01M305.1 686.1h.01M303.9 686.8h.01M311.0 686.6h.01M333.9 686.8h.01M385.0 687.0h.01M394.8 686.1h.01M409.4 687.0h.01M410.5 686.6h.01M410.9 686.6h.01M411.7 686.3h.01M412.1 686.6h.01M412.1 686.1h.01M414.9 686.2h.01M743.8 686.0h.01M744.4 687.0h.01M745.6 686.1h.01M747.2 686.7h.01M749.7 686.1h.01M750.7 686.8h.01M763.8 686.8h.01M766.4 686.6h.01M769.1 686.1h.01M817.1 686.2h.01M306.1 687.1h.01M317.6 687.4h.01M327.4 687.2h.01M327.7 687.8h.01M376.9 687.5h.01M382.4 687.9h.01M381.5 687.2h.01M393.0 687.7h.01M397.1 687.4h.01M399.2 687.3h.01M408.9 687.2h.01M410.3 687.4h.01M410.1 687.3h.01M413.6 687.3h.01M415.1 687.5h.01M744.2 687.2h.01M746.4 687.9h.01M747.3 687.0h.01M758.8 687.7h.01M759.9 687.6h.01M763.0 687.8h.01M768.5 687.7h.01M257.1 688.9h.01M263.3 688.2h.01M269.7 688.3h.01M331.9 688.2h.01M335.3 688.7h.01M356.8 688.8h.01M362.0 688.7h.01M382.3 688.3h.01M392.4 689.0h.01M394.9 688.1h.01M396.6 689.0h.01M399.2 688.8h.01M408.0 688.4h.01M411.7 689.0h.01M412.9 688.8h.01M413.4 688.3h.01M415.5 689.0h.01M743.9 688.5h.01M745.4 688.9h.01M762.4 688.6h.01M764.9 688.8h.01M765.3 688.1h.01M767.3 688.7h.01M780.5 688.1h.01M781.7 688.9h.01M801.1 688.2h.01M806.0 688.1h.01M810.0 688.3h.01M264.0 689.2h.01M282.1 689.9h.01M300.6 689.9h.01M322.2 689.5h.01M327.8 689.3h.01M328.1 689.1h.01M382.5 689.1h.01M392.0 689.5h.01M399.0 689.8h.01M401.8 689.1h.01M402.2 689.5h.01M406.7 689.7h.01M407.9 689.5h.01M414.8 689.7h.01M414.8 689.2h.01M415.2 690.0h.01M742.0 689.7h.01M743.6 689.1h.01M744.7 689.6h.01M752.6 689.6h.01M752.5 689.8h.01M753.3 689.5h.01M758.1 689.9h.01M759.4 689.8h.01M762.9 689.8h.01M768.3 689.7h.01M768.5 689.3h.01M789.7 689.0h.01M794.7 689.1h.01M865.3 689.8h.01M269.7 690.6h.01M319.9 690.1h.01M326.1 690.8h.01M327.7 690.3h.01M327.1 690.2h.01M329.7 690.5h.01M397.5 690.0h.01M411.1 690.2h.01M412.1 690.6h.01M412.2 690.4h.01M413.5 690.5h.01M742.3 690.6h.01M746.8 690.5h.01M746.8 690.5h.01M747.9 690.3h.01M756.3 690.2h.01M821.4 690.7h.01M269.5 691.3h.01M296.1 691.7h.01M298.5 691.2h.01M304.1 691.9h.01M310.9 691.1h.01M326.6 691.5h.01M366.3 691.6h.01M368.8 691.7h.01M372.1 691.2h.01M381.4 691.4h.01M385.2 691.3h.01M393.9 691.6h.01M407.1 692.0h.01M408.3 691.5h.01M408.2 691.4h.01M410.2 691.6h.01M411.2 691.9h.01M741.6 691.2h.01M745.2 691.2h.01M746.5 691.1h.01M747.7 691.9h.01M753.7 691.3h.01M774.7 691.0h.01M775.2 691.5h.01M796.7 691.1h.01M249.0 692.8h.01M257.7 692.1h.01M264.4 692.9h.01M274.6 692.8h.01M321.9 692.3h.01M387.9 692.1h.01M388.4 692.2h.01M391.0 692.2h.01M402.2 692.3h.01M411.2 692.7h.01M411.7 692.9h.01M742.5 692.1h.01M744.7 692.8h.01M748.6 692.5h.01M749.5 692.9h.01M751.9 692.3h.01M763.5 693.0h.01M787.2 692.9h.01M795.5 692.6h.01M851.7 692.1h.01M256.0 693.2h.01M258.3 694.0h.01M282.1 693.5h.01M281.9 693.8h.01M295.5 693.0h.01M303.2 693.4h.01M319.1 693.5h.01M331.7 693.9h.01M331.3 693.5h.01M351.6 693.7h.01M355.9 693.3h.01M382.6 693.7h.01M382.6 693.5h.01M386.3 693.1h.01M388.0 693.9h.01M388.3 693.9h.01M391.3 693.1h.01M401.9 693.3h.01M402.8 693.9h.01M411.4 693.0h.01M414.7 693.0h.01M742.8 693.5h.01M762.2 693.6h.01M767.0 693.2h.01M787.0 694.0h.01M268.2 694.4h.01M304.5 694.6h.01M314.9 694.8h.01M323.4 694.2h.01M321.9 694.8h.01M335.3 694.1h.01M345.4 694.4h.01M380.7 694.9h.01M390.1 695.0h.01M394.6 694.8h.01M394.8 694.0h.01M397.3 694.4h.01M402.0 695.0h.01M402.1 694.0h.01M410.4 694.7h.01M412.2 694.7h.01M412.1 694.7h.01M414.7 694.7h.01M743.3 694.5h.01M746.8 694.1h.01M748.7 694.7h.01M750.8 694.1h.01M753.4 694.8h.01M755.2 694.6h.01M759.2 694.7h.01M774.1 694.2h.01M274.4 695.5h.01M282.7 695.7h.01M328.2 695.5h.01M329.3 695.6h.01M328.3 695.3h.01M334.8 695.1h.01M341.0 696.0h.01M372.1 695.6h.01M386.9 695.6h.01M391.8 695.8h.01M400.4 695.4h.01M403.3 695.1h.01M410.8 695.3h.01M410.5 695.9h.01M412.6 696.0h.01M413.2 695.7h.01M414.3 695.7h.01M415.5 695.6h.01M745.8 696.0h.01M746.5 695.4h.01M749.4 695.1h.01M820.4 695.5h.01M856.5 695.1h.01M257.7 696.1h.01M274.0 696.5h.01M272.6 696.9h.01M297.1 696.9h.01M322.1 696.2h.01M325.8 696.3h.01M371.6 696.4h.01M391.1 696.5h.01M397.5 696.7h.01M400.4 696.9h.01M401.7 697.0h.01M408.4 696.8h.01M408.9 696.0h.01M412.0 696.3h.01M414.9 696.4h.01M415.4 696.4h.01M741.1 696.2h.01M744.0 696.1h.01M746.0 696.6h.01M745.9 696.3h.01M746.1 697.0h.01M747.7 696.5h.01M749.3 696.0h.01M750.7 696.7h.01M766.8 696.5h.01M768.3 696.1h.01M791.3 696.2h.01M263.6 697.5h.01M263.7 697.6h.01M269.3 697.1h.01M277.8 698.0h.01M290.9 697.9h.01M323.2 697.1h.01M328.2 697.6h.01M330.7 697.1h.01M341.0 697.1h.01M343.7 697.7h.01M375.9 697.7h.01M381.7 697.6h.01M391.2 698.0h.01M393.3 697.2h.01M396.2 697.8h.01M399.3 697.4h.01M401.3 697.5h.01M402.7 697.1h.01M403.4 697.6h.01M404.1 697.5h.01M406.4 697.4h.01M406.1 697.2h.01M407.5 697.2h.01M408.2 697.2h.01M412.3 697.9h.01M412.1 697.9h.01M413.6 697.7h.01M415.3 698.0h.01M415.7 697.1h.01M743.7 697.6h.01M743.0 697.3h.01M744.7 697.3h.01M748.7 697.4h.01M748.7 697.3h.01M786.6 697.6h.01M250.3 698.7h.01M249.7 698.8h.01M293.3 698.6h.01M297.1 698.4h.01M310.2 698.5h.01M332.0 698.8h.01M349.4 698.8h.01M355.4 698.8h.01M395.3 698.8h.01M401.0 698.3h.01M405.2 698.7h.01M405.1 698.8h.01M412.1 698.3h.01M412.8 698.4h.01M413.6 698.4h.01M744.8 698.2h.01M745.6 698.6h.01M746.0 698.2h.01M750.8 698.8h.01M773.2 698.9h.01M775.9 698.9h.01M852.1 698.2h.01M249.6 699.1h.01M259.8 699.4h.01M298.1 699.5h.01M298.2 699.5h.01M314.6 699.1h.01M327.5 700.0h.01M327.7 699.2h.01M338.9 699.6h.01M348.9 699.1h.01M358.5 699.0h.01M377.3 699.4h.01M389.5 699.3h.01M395.8 699.7h.01M398.7 700.0h.01M407.1 699.3h.01M408.9 699.3h.01M410.0 699.8h.01M411.1 699.0h.01M742.3 699.4h.01M742.4 699.2h.01M744.2 699.3h.01M744.8 699.7h.01M746.2 699.1h.01M747.5 699.1h.01M751.5 699.6h.01M771.2 699.2h.01M257.4 700.7h.01M263.2 700.8h.01M263.4 700.2h.01M277.8 700.6h.01M282.6 701.0h.01M289.5 700.5h.01M299.9 700.2h.01M304.3 700.0h.01M322.3 700.4h.01M324.7 700.6h.01M330.6 700.5h.01M343.9 700.7h.01M379.0 700.8h.01M384.8 700.3h.01M394.5 700.6h.01M400.1 700.4h.01M401.2 700.3h.01M403.5 700.7h.01M403.8 700.2h.01M404.9 700.4h.01M407.6 700.1h.01M407.2 700.1h.01M410.5 700.9h.01M413.9 700.3h.01M413.4 700.6h.01M414.2 700.9h.01M741.0 700.3h.01M743.8 700.9h.01M743.5 700.6h.01M745.7 700.0h.01M746.4 700.8h.01M755.2 700.6h.01M755.9 700.2h.01M270.2 701.5h.01M281.3 701.9h.01M289.3 701.4h.01M296.5 701.5h.01M311.4 701.2h.01M323.1 701.5h.01M338.6 701.3h.01M386.9 701.2h.01M382.3 701.7h.01M399.7 701.4h.01M411.3 701.9h.01M414.7 701.5h.01M415.8 701.8h.01M744.5 701.4h.01M748.3 701.8h.01M750.7 701.8h.01M750.6 701.0h.01M759.7 701.9h.01M767.0 701.1h.01M786.4 701.9h.01M247.4 702.6h.01M252.8 702.5h.01M253.1 702.3h.01M269.1 702.7h.01M274.7 702.4h.01M282.6 702.7h.01M284.6 702.9h.01M288.3 702.2h.01M297.6 702.4h.01M313.1 702.9h.01M314.8 702.5h.01M373.0 702.1h.01M406.2 702.9h.01M407.4 702.7h.01M408.4 702.7h.01M408.6 702.3h.01M410.5 702.2h.01M410.4 702.3h.01M411.8 703.0h.01M411.5 702.7h.01M411.6 702.1h.01M414.7 702.6h.01M414.7 702.2h.01M416.0 702.7h.01M415.7 702.0h.01M741.3 702.7h.01M744.3 702.1h.01M744.2 702.9h.01M745.7 702.2h.01M748.8 702.0h.01M750.4 702.0h.01M753.6 702.8h.01M757.1 702.2h.01M770.1 702.8h.01M774.0 702.8h.01M774.8 702.2h.01M787.4 702.5h.01M865.2 702.5h.01M257.4 703.1h.01M278.4 703.5h.01M290.5 703.1h.01M304.8 703.2h.01M320.4 703.4h.01M327.7 703.1h.01M334.9 703.1h.01M369.1 703.5h.01M383.1 703.4h.01M388.3 703.4h.01M394.6 703.0h.01M398.7 703.6h.01M404.4 703.3h.01M405.5 703.9h.01M406.8 703.7h.01M407.9 704.0h.01M410.1 704.0h.01M413.1 703.7h.01M414.5 703.4h.01M743.6 703.5h.01M743.7 703.4h.01M744.0 703.5h.01M745.7 703.6h.01M748.4 703.1h.01M750.8 703.8h.01M754.1 703.3h.01M754.9 703.3h.01M766.2 703.6h.01M767.6 703.2h.01M772.0 703.7h.01M775.4 703.2h.01M781.7 703.1h.01M261.0 704.2h.01M286.7 704.1h.01M299.6 704.2h.01M328.3 705.0h.01M381.7 704.6h.01M394.2 704.8h.01M396.0 704.6h.01M399.5 704.2h.01M405.2 704.8h.01M407.1 704.4h.01M409.2 704.8h.01M410.4 704.4h.01M411.5 704.6h.01M411.9 704.6h.01M413.0 704.7h.01M413.5 704.7h.01M414.1 704.5h.01M415.8 704.2h.01M741.2 704.2h.01M742.4 704.7h.01M743.2 704.8h.01M745.1 704.2h.01M746.3 704.5h.01M752.6 704.6h.01M756.6 704.6h.01M770.6 704.1h.01M773.4 704.9h.01M775.7 704.8h.01M269.6 705.3h.01M277.3 705.2h.01M280.6 705.3h.01M283.6 705.1h.01M289.3 705.7h.01M306.6 705.3h.01M337.8 705.3h.01M379.6 705.5h.01M408.3 705.7h.01M410.7 705.8h.01M411.5 705.8h.01M412.7 706.0h.01M412.5 705.6h.01M414.2 705.7h.01M415.6 705.3h.01M742.8 705.1h.01M744.3 705.8h.01M745.7 705.1h.01M746.1 705.5h.01M747.0 705.8h.01M753.9 705.9h.01M756.1 705.0h.01M760.1 705.8h.01M762.2 705.4h.01M763.9 705.2h.01M766.6 705.7h.01M778.9 705.9h.01M259.9 707.0h.01M280.9 706.9h.01M283.0 706.1h.01M285.4 706.2h.01M337.2 706.8h.01M345.0 706.3h.01M371.2 706.7h.01M372.1 706.3h.01M379.0 706.1h.01M390.8 706.2h.01M392.2 706.5h.01M397.0 706.8h.01M402.4 706.9h.01M403.1 706.7h.01M404.4 706.2h.01M411.4 706.1h.01M412.1 706.4h.01M414.6 706.6h.01M741.4 706.3h.01M742.7 706.5h.01M746.6 706.4h.01M746.3 706.3h.01M748.6 706.4h.01M760.2 706.4h.01M766.0 706.5h.01M863.0 707.0h.01M257.0 707.2h.01M269.7 707.1h.01M315.5 707.8h.01M337.4 707.0h.01M384.4 707.5h.01M385.9 707.2h.01M395.8 707.9h.01M397.7 707.6h.01M399.3 707.2h.01M402.1 707.7h.01M412.0 707.4h.01M413.4 707.5h.01M414.4 707.2h.01M415.7 707.8h.01M415.8 707.8h.01M747.0 707.4h.01M749.4 707.2h.01M758.2 707.3h.01M759.5 707.8h.01M759.7 707.9h.01M256.9 708.8h.01M267.2 708.7h.01M274.3 708.9h.01M276.5 708.6h.01M279.7 708.3h.01M289.9 708.4h.01M292.8 708.2h.01M314.0 708.9h.01M324.2 708.5h.01M350.0 708.2h.01M376.6 709.0h.01M377.1 708.4h.01M399.9 708.1h.01M402.4 708.9h.01M403.4 708.5h.01M405.6 708.3h.01M407.0 708.9h.01M408.3 708.4h.01M409.4 708.3h.01M411.9 708.1h.01M413.1 708.5h.01M414.6 708.8h.01M746.1 708.9h.01M752.7 708.8h.01M754.6 708.1h.01M759.5 708.3h.01M760.9 708.1h.01M772.1 708.3h.01M773.6 708.3h.01M790.6 708.5h.01M801.1 708.8h.01M810.6 708.7h.01M866.7 708.5h.01M249.0 709.3h.01M264.9 709.6h.01M274.0 709.1h.01M273.8 709.3h.01M274.5 709.6h.01M283.9 709.8h.01M291.0 709.8h.01M303.5 709.6h.01M308.5 709.4h.01M313.3 709.6h.01M322.7 709.7h.01M325.0 709.2h.01M322.7 709.1h.01M348.1 709.5h.01M357.0 709.8h.01M370.0 709.7h.01M379.0 709.8h.01M381.7 709.2h.01M395.1 709.0h.01M398.9 709.5h.01M407.8 709.0h.01M408.1 709.6h.01M410.1 709.2h.01M410.1 709.7h.01M411.7 709.8h.01M412.0 709.5h.01M414.2 709.5h.01M741.3 710.0h.01M742.5 709.4h.01M745.7 709.1h.01M756.8 709.9h.01M761.8 709.2h.01M792.4 709.6h.01M794.9 709.2h.01M801.3 709.1h.01M253.1 710.5h.01M255.3 710.3h.01M261.2 710.2h.01M291.0 710.1h.01M296.5 710.1h.01M299.7 710.3h.01M310.8 710.7h.01M322.0 710.0h.01M326.3 710.0h.01M374.0 710.4h.01M377.3 710.2h.01M399.2 710.5h.01M404.7 710.6h.01M409.9 710.7h.01M409.6 710.0h.01M410.6 710.9h.01M410.3 710.9h.01M412.4 711.0h.01M741.8 710.0h.01M747.8 710.6h.01M771.0 710.6h.01M773.5 710.8h.01M781.0 710.0h.01M788.1 710.7h.01M257.5 711.2h.01M269.8 711.9h.01M268.1 711.9h.01M275.7 711.2h.01M276.5 711.8h.01M277.4 711.1h.01M289.2 711.9h.01M297.6 711.6h.01M304.0 711.7h.01M329.4 711.3h.01M365.6 711.5h.01M397.1 711.3h.01M398.4 711.8h.01M400.1 712.0h.01M404.2 711.4h.01M410.4 711.3h.01M411.4 711.2h.01M414.5 711.5h.01M415.4 711.1h.01M740.6 711.1h.01M740.4 711.1h.01M743.0 711.1h.01M743.9 711.3h.01M744.7 711.4h.01M747.9 711.3h.01M748.5 711.0h.01M761.0 711.9h.01M765.0 711.5h.01M792.5 711.6h.01M264.3 712.5h.01M265.4 712.7h.01M263.0 712.2h.01M274.6 712.5h.01M281.6 713.0h.01M296.3 712.3h.01M330.1 712.7h.01M331.8 712.1h.01M355.3 712.7h.01M357.6 712.8h.01M385.6 712.9h.01M385.2 712.3h.01M387.7 712.4h.01M389.3 712.2h.01M394.0 712.9h.01M408.5 712.9h.01M410.0 712.3h.01M410.0 712.1h.01M410.6 713.0h.01M411.8 712.6h.01M414.6 712.8h.01M414.6 713.0h.01M741.5 712.3h.01M743.3 712.4h.01M746.9 712.8h.01M748.9 712.5h.01M755.0 712.8h.01M755.4 712.8h.01M261.2 713.1h.01M269.9 714.0h.01M270.5 713.1h.01M285.2 713.5h.01M289.5 714.0h.01M291.3 713.7h.01M316.1 713.1h.01M372.2 713.1h.01M376.8 713.0h.01M384.8 713.0h.01M401.9 713.9h.01M411.8 713.1h.01M413.7 713.1h.01M415.9 714.0h.01M416.0 713.7h.01M417.6 713.4h.01M417.3 713.4h.01M418.3 713.3h.01M422.4 713.7h.01M429.6 713.9h.01M432.2 713.9h.01M433.3 713.8h.01M434.2 713.4h.01M435.1 713.8h.01M435.3 713.4h.01M435.3 713.6h.01M436.5 713.3h.01M438.4 713.5h.01M441.8 713.3h.01M444.6 713.5h.01M444.1 713.9h.01M444.8 713.4h.01M444.3 713.6h.01M448.9 713.7h.01M451.5 713.9h.01M454.1 713.6h.01M458.1 713.8h.01M459.5 713.0h.01M461.6 713.3h.01M461.5 713.2h.01M463.1 713.5h.01M463.5 713.6h.01M465.6 713.4h.01M466.6 713.6h.01M467.9 713.3h.01M472.5 713.2h.01M475.4 713.1h.01M475.8 713.7h.01M477.7 713.0h.01M479.5 713.0h.01M480.4 713.2h.01M483.0 713.9h.01M488.4 713.3h.01M488.7 713.9h.01M489.3 713.4h.01M490.1 713.3h.01M495.7 713.3h.01M496.7 713.1h.01M497.8 714.0h.01M501.7 713.3h.01M503.5 713.7h.01M505.4 713.7h.01M506.0 713.2h.01M506.5 713.7h.01M509.3 713.5h.01M512.0 713.7h.01M513.0 713.8h.01M514.2 713.8h.01M515.8 713.3h.01M515.6 713.6h.01M516.0 714.0h.01M516.7 713.2h.01M517.1 713.3h.01M517.4 713.1h.01M517.5 713.3h.01M522.9 713.8h.01M524.6 713.6h.01M524.3 713.3h.01M528.2 713.6h.01M529.8 713.7h.01M537.4 713.5h.01M541.5 713.1h.01M542.0 713.5h.01M545.2 713.9h.01M546.1 714.0h.01M546.7 713.9h.01M546.7 713.4h.01M547.7 713.7h.01M547.8 713.9h.01M549.8 713.6h.01M554.2 713.0h.01M555.9 713.1h.01M558.7 713.6h.01M559.4 713.1h.01M570.3 713.3h.01M575.7 713.3h.01M576.8 713.2h.01M576.7 713.5h.01M577.8 713.7h.01M585.5 713.7h.01M586.6 713.9h.01M591.6 713.7h.01M592.3 713.5h.01M594.3 713.3h.01M595.9 713.9h.01M597.0 713.6h.01M596.8 713.0h.01M596.7 713.6h.01M598.3 713.1h.01M601.2 713.4h.01M602.2 713.8h.01M605.2 713.7h.01M606.5 713.0h.01M606.3 713.8h.01M610.8 713.1h.01M611.2 713.2h.01M612.6 713.4h.01M614.8 713.3h.01M614.8 713.4h.01M615.7 713.5h.01M617.4 713.4h.01M618.2 713.1h.01M619.5 713.8h.01M619.1 713.4h.01M622.9 713.8h.01M625.3 713.3h.01M626.4 713.8h.01M627.7 713.2h.01M629.4 713.2h.01M630.6 713.6h.01M630.3 713.6h.01M635.5 713.9h.01M635.6 714.0h.01M641.3 713.4h.01M642.6 713.9h.01M642.4 713.0h.01M643.5 713.2h.01M644.0 713.7h.01M645.7 713.3h.01M646.5 713.5h.01M647.2 713.9h.01M648.5 713.1h.01M648.3 713.3h.01M653.9 713.6h.01M657.1 713.8h.01M658.8 713.5h.01M660.4 713.1h.01M662.5 713.4h.01M662.2 713.9h.01M663.6 713.2h.01M666.4 713.0h.01M666.9 713.3h.01M668.8 713.7h.01M668.2 713.8h.01M672.3 713.1h.01M678.9 713.9h.01M680.9 713.1h.01M687.4 713.6h.01M688.6 713.3h.01M688.6 713.2h.01M692.2 713.3h.01M693.6 713.2h.01M695.4 713.5h.01M696.3 713.4h.01M696.0 713.6h.01M709.1 713.5h.01M712.6 714.0h.01M714.0 713.9h.01M715.0 713.9h.01M716.3 713.5h.01M717.8 713.3h.01M722.7 713.2h.01M724.2 713.3h.01M729.0 713.3h.01M729.7 713.7h.01M730.2 713.2h.01M733.6 713.2h.01M734.2 713.9h.01M738.8 713.5h.01M742.0 713.4h.01M744.3 713.1h.01M752.5 713.7h.01M762.1 713.1h.01M763.5 713.7h.01M249.0 714.1h.01M254.7 714.3h.01M263.7 714.2h.01M289.1 714.9h.01M289.5 714.5h.01M292.4 714.1h.01M323.3 714.7h.01M321.5 714.8h.01M383.0 714.7h.01M392.1 714.1h.01M393.0 714.5h.01M396.0 714.7h.01M396.1 714.4h.01M398.9 714.8h.01M415.5 714.9h.01M416.8 714.5h.01M418.1 714.6h.01M419.7 714.7h.01M421.7 714.0h.01M423.4 714.3h.01M426.2 714.5h.01M430.1 714.4h.01M431.8 714.5h.01M434.7 714.6h.01M436.3 714.9h.01M437.5 714.5h.01M438.4 714.8h.01M440.2 714.4h.01M441.3 714.7h.01M441.3 714.8h.01M443.0 714.3h.01M443.4 714.3h.01M445.9 714.4h.01M445.3 714.9h.01M446.9 714.2h.01M448.0 715.0h.01M448.4 714.1h.01M448.9 714.2h.01M457.6 714.5h.01M470.5 714.3h.01M478.0 714.1h.01M479.0 714.5h.01M480.1 714.0h.01M482.0 714.1h.01M482.7 714.6h.01M483.3 714.0h.01M483.1 714.0h.01M487.6 715.0h.01M493.5 714.7h.01M496.7 714.4h.01M501.1 714.0h.01M502.8 714.7h.01M502.5 714.6h.01M504.0 714.4h.01M506.1 714.5h.01M508.7 714.9h.01M513.1 714.0h.01M513.8 714.5h.01M514.6 714.9h.01M516.7 714.2h.01M517.4 714.4h.01M519.5 714.3h.01M521.3 714.7h.01M522.8 714.7h.01M527.2 715.0h.01M530.5 714.1h.01M533.0 714.7h.01M534.8 714.0h.01M537.9 714.2h.01M538.6 714.3h.01M540.7 714.8h.01M540.1 714.9h.01M541.5 714.0h.01M545.4 714.5h.01M545.1 714.5h.01M547.1 714.6h.01M547.9 714.1h.01M550.0 714.8h.01M549.3 714.6h.01M552.7 714.3h.01M556.0 714.4h.01M555.9 714.5h.01M557.4 714.4h.01M563.8 714.7h.01M568.8 714.2h.01M571.3 714.8h.01M573.5 714.7h.01M574.4 714.6h.01M582.8 714.3h.01M583.2 714.1h.01M585.3 715.0h.01M586.7 714.7h.01M586.4 714.8h.01M586.7 714.0h.01M587.4 714.7h.01M587.7 714.0h.01M588.3 714.3h.01M590.7 714.0h.01M590.9 714.1h.01M593.9 714.9h.01M593.9 714.4h.01M596.9 714.5h.01M600.2 714.6h.01M601.9 714.5h.01M605.8 714.3h.01M606.9 714.3h.01M609.8 714.7h.01M613.0 714.2h.01M613.8 714.8h.01M614.6 714.9h.01M616.1 714.3h.01M619.5 714.1h.01M622.6 714.5h.01M625.5 714.9h.01M629.7 714.3h.01M631.1 714.6h.01M636.4 714.4h.01M645.0 714.1h.01M644.4 714.8h.01M645.8 714.9h.01M645.4 714.9h.01M647.0 714.0h.01M647.6 714.1h.01M648.0 714.1h.01M647.0 714.6h.01M650.5 714.4h.01M651.5 714.2h.01M657.2 714.8h.01M658.2 714.1h.01M658.9 714.3h.01M659.4 714.7h.01M663.1 714.7h.01M664.3 714.2h.01M665.3 714.8h.01M667.8 714.8h.01M667.5 714.9h.01M667.6 714.7h.01M668.2 714.4h.01M668.7 714.4h.01M669.8 714.9h.01M672.1 714.3h.01M676.3 714.6h.01M678.4 714.2h.01M679.8 714.0h.01M679.9 714.5h.01M680.7 714.9h.01M683.1 714.6h.01M683.6 714.4h.01M690.4 714.1h.01M691.8 714.1h.01M691.4 714.3h.01M691.2 714.7h.01M691.8 714.9h.01M693.2 714.8h.01M695.9 714.3h.01M698.0 714.1h.01M702.0 714.4h.01M704.2 714.6h.01M707.0 714.7h.01M711.7 714.8h.01M716.6 714.8h.01M718.8 714.1h.01M720.1 714.9h.01M721.9 714.2h.01M722.3 714.7h.01M727.5 714.6h.01M736.6 714.5h.01M736.1 714.9h.01M743.0 714.3h.01M743.1 714.7h.01M744.9 714.3h.01M748.3 714.0h.01M765.2 714.3h.01M801.2 714.7h.01M250.7 715.9h.01M311.3 715.3h.01M340.3 715.8h.01M368.5 715.4h.01M378.0 715.4h.01M382.9 715.1h.01M389.7 715.4h.01M405.2 715.5h.01M405.6 715.5h.01M407.4 715.6h.01M411.3 715.0h.01M412.8 715.1h.01M414.1 715.6h.01M414.8 715.7h.01M414.9 715.4h.01M415.8 715.1h.01M415.9 715.6h.01M416.1 715.9h.01M417.2 715.5h.01M419.6 715.4h.01M419.8 715.4h.01M421.0 715.7h.01M425.3 715.2h.01M425.6 715.1h.01M426.3 715.2h.01M428.5 715.3h.01M429.2 715.2h.01M429.2 715.8h.01M433.4 715.0h.01M433.8 715.5h.01M433.0 715.9h.01M437.8 715.3h.01M437.6 715.7h.01M438.6 715.4h.01M439.7 715.5h.01M439.5 715.3h.01M441.2 715.9h.01M443.9 715.9h.01M450.8 715.5h.01M450.9 715.6h.01M451.9 715.8h.01M452.9 715.6h.01M452.2 715.7h.01M452.5 715.5h.01M452.3 715.2h.01M459.3 715.1h.01M460.3 715.9h.01M463.3 715.2h.01M464.2 715.1h.01M465.3 715.8h.01M468.9 715.2h.01M469.2 715.1h.01M472.4 715.0h.01M486.1 715.0h.01M494.7 715.8h.01M499.3 715.4h.01M501.3 715.4h.01M503.4 715.1h.01M506.0 715.6h.01M509.4 715.4h.01M509.8 715.5h.01M511.7 715.6h.01M513.6 716.0h.01M518.0 715.1h.01M519.4 715.8h.01M520.7 715.6h.01M525.5 715.9h.01M525.4 715.0h.01M525.2 715.1h.01M530.6 715.7h.01M534.0 715.6h.01M535.9 715.3h.01M535.5 715.8h.01M537.6 715.5h.01M537.2 715.8h.01M537.7 715.4h.01M539.9 715.7h.01M541.5 715.9h.01M541.6 715.1h.01M543.0 715.7h.01M545.1 715.3h.01M549.5 715.9h.01M551.0 715.8h.01M552.6 715.2h.01M555.9 715.2h.01M555.2 715.5h.01M556.5 715.2h.01M561.6 715.5h.01M562.5 715.4h.01M563.2 715.2h.01M564.2 715.1h.01M566.0 715.6h.01M569.8 715.7h.01M569.6 715.7h.01M575.2 715.1h.01M575.7 715.8h.01M577.4 715.5h.01M580.2 715.3h.01M586.7 715.2h.01M586.5 715.7h.01M587.9 715.2h.01M588.0 715.6h.01M589.7 715.7h.01M589.8 715.3h.01M593.4 715.2h.01M597.5 715.4h.01M597.5 715.2h.01M597.1 715.5h.01M597.7 715.2h.01M598.9 715.3h.01M601.7 715.0h.01M602.7 715.6h.01M609.5 715.9h.01M611.0 715.9h.01M612.4 715.2h.01M614.3 716.0h.01M615.9 715.8h.01M616.7 715.9h.01M618.2 715.0h.01M620.8 715.6h.01M620.4 715.5h.01M621.3 715.6h.01M623.2 715.8h.01M625.2 715.9h.01M628.0 715.6h.01M629.7 715.5h.01M630.8 716.0h.01M631.2 715.4h.01M632.0 715.2h.01M633.7 715.0h.01M633.7 715.5h.01M636.6 715.9h.01M636.7 715.4h.01M636.2 715.3h.01M640.8 715.2h.01M641.2 715.1h.01M643.3 716.0h.01M644.5 715.8h.01M645.0 715.2h.01M645.3 715.6h.01M645.9 715.6h.01M648.7 715.6h.01M648.4 715.9h.01M649.6 715.4h.01M649.9 715.4h.01M651.8 715.9h.01M659.4 715.1h.01M661.0 715.8h.01M662.2 715.3h.01M663.1 715.4h.01M668.8 715.5h.01M668.3 715.0h.01M668.0 715.8h.01M671.2 715.1h.01M672.5 716.0h.01M673.9 715.9h.01M673.5 716.0h.01M674.0 715.3h.01M685.0 715.4h.01M685.4 715.7h.01M688.3 715.2h.01M689.6 715.4h.01M690.2 715.5h.01M697.4 715.5h.01M698.6 715.9h.01M698.3 715.9h.01M701.7 715.1h.01M701.9 715.1h.01M701.5 715.5h.01M702.7 715.4h.01M702.1 715.7h.01M708.1 715.9h.01M709.3 715.5h.01M712.0 715.8h.01M714.3 715.1h.01M717.9 715.2h.01M717.7 715.1h.01M720.5 715.1h.01M721.5 715.1h.01M721.2 715.8h.01M732.9 715.8h.01M737.5 716.0h.01M739.9 715.9h.01M755.6 715.6h.01M759.8 715.2h.01M768.7 715.5h.01M773.2 716.0h.01M825.6 715.5h.01M997.1 137.3h.01M958.1 144.0h.01M954.2 146.9h.01M945.6 148.3h.01M942.4 148.8h.01M933.9 149.3h.01M971.2 157.2h.01M983.0 160.4h.01M959.3 162.0h.01M939.2 159.5h.01M934.2 159.0h.01M924.0 159.0h.01M933.4 170.8h.01M927.0 164.8h.01M918.1 162.8h.01M913.9 160.8h.01M914.3 172.7h.01M907.9 163.6h.01M899.6 181.5h.01M907.5 183.6h.01M898.3 164.4h.01M893.2 154.8h.01M898.0 154.4h.01M900.5 156.4h.01M895.6 159.2h.01M892.8 160.0h.01M890.3 164.8h.01M887.1 158.8h.01M884.0 159.2h.01M884.4 163.5h.01M885.2 195.9h.01M892.8 199.9h.01M894.4 204.7h.01M902.4 209.0h.01M913.3 209.0h.01M890.6 218.6h.01M896.4 220.1h.01M926.4 237.8h.01M860.7 226.3h.01M852.4 232.7h.01M868.9 242.3h.01M870.0 247.6h.01M855.6 245.5h.01M851.6 238.3h.01M879.6 180.7h.01M880.4 182.0h.01M869.2 194.8h.01M865.2 199.9h.01M865.2 203.9h.01M862.3 207.9h.01M863.1 214.3h.01M857.5 208.2h.01M854.8 212.7h.01M852.1 212.7h.01M859.6 191.6h.01M866.0 185.5h.01M870.0 182.3h.01M719.9 239.7h.01M699.0 243.9h.01M679.3 246.6h.01M681.3 249.5h.01M693.3 275.1h.01M706.4 273.6h.01M726.5 273.6h.01M737.6 275.1h.01M719.4 289.9h.01M735.4 294.3h.01M650.5 287.7h.01M657.7 290.6h.01M698.5 298.2h.01M700.7 308.1h.01M677.6 314.0h.01M699.5 318.4h.01M699.5 321.4h.01M711.3 322.1h.01M671.7 327.0h.01M726.5 329.5h.01M692.4 337.6h.01M711.3 337.6h.01M672.7 349.6h.01M700.7 351.1h.01M708.8 347.2h.01M713.8 349.1h.01M654.7 362.0h.01M663.3 359.2h.01M673.9 369.6h.01M603.8 384.3h.01M598.1 392.2h.01M581.2 402.0h.01M593.7 402.5h.01M561.2 403.3h.01M616.6 395.2h.01M628.9 385.6h.01M636.8 386.0h.01M646.1 386.5h.01M654.2 387.3h.01M486.1 258.9h.01M321.9 409.0h.01M598.2 392.0h.01M560.9 403.1h.01M581.1 401.8h.01M594.2 402.2h.01M615.8 394.3h.01M616.7 400.8h.01M534.4 417.1h.01M585.0 418.9h.01M585.9 417.1h.01M594.2 417.5h.01M598.2 418.0h.01M602.6 417.1h.01M609.1 417.1h.01M568.3 425.0h.01M574.1 432.4h.01M528.2 433.8h.01M511.7 442.6h.01M536.3 440.9h.01M552.8 438.6h.01M560.9 437.3h.01M584.1 437.3h.01M529.6 446.7h.01M522.3 455.8h.01M533.7 455.8h.01M541.4 456.7h.01M529.6 461.1h.01M526.1 464.6h.01M511.7 464.2h.01M485.7 465.5h.01M488.3 468.1h.01M501.5 470.7h.01M513.8 470.4h.01M541.1 466.9h.01M551.6 465.1h.01M560.4 447.4h.01M561.3 451.0h.01M563.0 456.7h.01M560.4 460.2h.01"/>
<path fill="#f00" d="M685.6,448.8L689.1,448.8L693.2,437.1L695.1,432.1L696.9,427.1L698.9,422.1L700.9,417.0L703.0,412.0L705.2,407.0L707.5,402.0L709.9,397.0L712.3,391.4L714.7,385.0L717.1,378.0L719.6,370.3L722.0,363.1L724.3,356.4L726.5,350.3L728.7,344.8L730.8,339.4L733.0,334.2L735.2,329.0L737.3,324.0L739.5,319.5L741.7,315.4L743.8,311.8L745.9,308.8L748.1,305.9L750.5,303.1L752.9,300.4L755.4,297.9L757.9,295.5L760.5,293.2L763.0,291.1L765.5,289.1L767.9,287.2L770.1,285.4L772.3,283.8L774.3,282.3L776.2,280.8L778.1,279.5L779.9,278.2L781.6,276.9L783.5,275.3L785.6,273.2L787.8,270.7L790.3,267.7L793.0,264.6L795.7,261.3L798.6,258.0L801.6,254.5L804.5,251.2L807.2,248.2L809.9,245.4L827.8,227.5L830.0,225.4L832.1,223.4L834.2,221.5L836.2,219.7L838.4,217.9L840.6,216.0L843.0,214.1L845.5,212.1L847.7,210.1L849.8,208.0L851.7,205.9L853.4,203.6L855.3,201.3L857.3,198.7L859.4,196.1L861.7,193.4L863.7,190.7L865.6,188.1L867.2,185.6L868.7,183.2L869.9,180.9L870.9,178.7L871.6,176.7L872.1,174.8L872.4,173.0L872.5,171.4L872.4,169.9L871.8,166.3L871.3,164.8L869.5,165.9L868.2,166.8L866.7,167.9L865.1,169.2L863.4,170.7L861.2,172.4L858.5,174.3L855.4,176.4L851.9,178.6L848.3,180.9L844.7,183.3L841.0,185.7L837.3,188.2L834.2,190.4L831.7,192.1L829.9,193.5L828.6,194.4L826.9,195.8L824.8,197.6L822.3,199.7L819.3,202.2L816.4,204.6L813.7,207.1L811.1,209.6L798.0,222.7L795.3,225.5L792.7,228.2L790.1,230.9L787.6,233.7L785.2,236.5L782.7,239.3L780.2,242.3L777.7,245.3L775.3,248.2L773.1,251.2L771.0,254.2L769.0,257.2L766.9,260.3L764.8,263.7L762.7,267.2L760.4,271.0L758.1,274.7L755.8,278.5L753.5,282.3L751.2,286.0L748.9,290.0L746.6,294.2L744.5,298.6L742.3,303.4L740.1,308.0L737.9,312.5L735.7,316.9L733.4,321.2L731.1,325.4L728.8,329.5L726.5,333.6L724.1,337.6L722.0,341.2L720.2,344.4L718.7,347.3L717.5,349.8L716.2,352.3L715.0,354.9L713.7,357.6L712.5,360.3L711.1,364.0L709.5,368.6L707.8,374.1L706.0,380.6L704.2,386.8L702.4,392.8L700.7,398.6L699.1,404.1L697.5,409.4L695.9,414.4L694.4,419.1L692.9,423.6L691.4,428.2L690.0,433.0L688.6,437.8Z"/>
<path fill="none" stroke="#f00" stroke-width="3.3" stroke-linecap="round" d="M869.3 167.4h.01M865.1 168.7h.01M869.4 168.8h.01M864.2 169.2h.01M866.8 169.6h.01M864.6 170.9h.01M872.3 170.4h.01M873.7 170.0h.01M879.3 170.7h.01M863.3 172.7h.01M874.7 172.8h.01M860.8 173.7h.01M876.5 175.4h.01M880.0 175.6h.01M879.9 175.7h.01M885.8 176.2h.01M855.1 177.7h.01M851.6 178.5h.01M854.8 179.0h.01M880.7 178.3h.01M878.1 179.4h.01M885.3 179.8h.01M882.3 180.5h.01M873.3 181.6h.01M880.0 182.6h.01M846.2 183.7h.01M870.1 184.0h.01M874.2 183.6h.01M867.8 184.9h.01M869.4 184.6h.01M869.5 184.6h.01M874.2 185.0h.01M883.0 184.6h.01M880.2 185.4h.01M868.3 186.8h.01M877.2 186.1h.01M839.5 187.4h.01M867.3 187.4h.01M875.4 187.7h.01M875.7 187.3h.01M869.7 189.1h.01M869.2 189.9h.01M871.1 189.7h.01M833.6 190.3h.01M833.5 190.8h.01M834.9 191.0h.01M868.6 192.0h.01M862.9 192.1h.01M863.2 192.7h.01M864.8 192.8h.01M868.2 193.0h.01M878.7 192.2h.01M861.1 193.3h.01M864.9 193.7h.01M873.8 193.8h.01M829.7 194.3h.01M864.0 194.3h.01M865.0 195.5h.01M865.9 195.7h.01M862.5 196.3h.01M864.5 196.2h.01M869.7 196.7h.01M872.4 196.6h.01M827.0 197.1h.01M864.0 197.3h.01M864.3 197.0h.01M825.9 198.6h.01M867.8 200.0h.01M870.8 199.8h.01M824.0 200.1h.01M856.4 201.0h.01M867.2 200.5h.01M869.4 200.6h.01M871.0 200.4h.01M854.7 201.2h.01M855.4 201.5h.01M859.8 202.1h.01M872.2 202.4h.01M870.8 203.4h.01M857.2 204.7h.01M861.5 204.1h.01M863.5 204.5h.01M864.0 204.9h.01M869.4 204.5h.01M864.8 205.4h.01M852.5 206.3h.01M854.2 206.8h.01M858.0 206.2h.01M867.0 206.9h.01M813.4 207.5h.01M814.2 207.5h.01M854.5 207.1h.01M860.1 207.6h.01M813.3 208.5h.01M853.6 208.6h.01M855.6 208.7h.01M855.5 208.9h.01M812.6 209.4h.01M813.1 209.9h.01M860.1 209.3h.01M849.7 210.8h.01M853.9 210.7h.01M859.2 210.2h.01M848.6 211.4h.01M859.5 211.5h.01M859.2 211.4h.01M862.6 211.8h.01M869.8 211.5h.01M840.5 212.0h.01M847.8 212.9h.01M845.3 213.8h.01M854.1 213.6h.01M857.7 214.0h.01M851.2 214.3h.01M804.1 215.4h.01M840.0 215.8h.01M841.7 215.6h.01M850.2 215.0h.01M854.4 215.6h.01M855.6 215.4h.01M805.4 216.9h.01M835.1 216.5h.01M851.2 216.6h.01M802.5 218.6h.01M854.3 218.5h.01M839.9 219.4h.01M842.3 219.1h.01M849.2 219.7h.01M857.5 219.5h.01M865.5 219.8h.01M799.6 220.0h.01M851.4 220.3h.01M853.6 220.1h.01M854.5 220.4h.01M865.8 220.1h.01M800.6 221.6h.01M837.8 221.2h.01M837.8 221.5h.01M839.9 221.7h.01M858.3 221.9h.01M834.0 222.8h.01M854.1 222.1h.01M836.1 223.5h.01M841.9 223.3h.01M849.1 223.5h.01M833.8 224.7h.01M848.0 225.0h.01M852.9 224.1h.01M853.2 224.1h.01M831.1 225.9h.01M839.8 225.3h.01M839.6 225.4h.01M845.4 225.3h.01M848.6 225.4h.01M829.6 226.1h.01M830.4 226.0h.01M834.3 226.4h.01M844.0 226.5h.01M835.2 227.8h.01M843.5 227.9h.01M846.1 227.9h.01M847.4 228.0h.01M830.6 228.9h.01M843.3 228.1h.01M849.1 229.0h.01M790.8 229.2h.01M830.9 229.0h.01M841.9 229.9h.01M848.6 229.8h.01M850.7 229.7h.01M828.0 230.5h.01M832.2 230.7h.01M844.2 230.8h.01M844.8 230.6h.01M845.7 230.3h.01M789.1 231.3h.01M790.9 231.9h.01M833.1 231.0h.01M836.6 232.9h.01M787.5 233.2h.01M824.4 233.2h.01M834.7 233.5h.01M788.9 234.3h.01M830.2 234.8h.01M819.3 235.1h.01M828.4 235.6h.01M829.1 235.6h.01M833.8 235.7h.01M841.9 235.7h.01M786.4 236.6h.01M819.5 237.0h.01M784.1 237.4h.01M821.2 237.6h.01M822.6 237.4h.01M824.2 237.2h.01M834.1 237.7h.01M785.2 238.2h.01M817.7 238.2h.01M819.3 238.1h.01M821.9 238.5h.01M825.3 238.6h.01M827.4 238.2h.01M828.8 238.0h.01M829.4 238.3h.01M833.4 238.1h.01M848.5 238.2h.01M821.2 239.6h.01M829.2 239.6h.01M834.8 239.3h.01M828.9 240.7h.01M831.0 240.5h.01M832.4 241.0h.01M835.1 241.7h.01M839.1 241.4h.01M840.7 241.6h.01M781.5 242.9h.01M814.0 242.1h.01M815.1 242.7h.01M828.9 242.4h.01M829.7 242.2h.01M831.0 242.4h.01M833.9 242.2h.01M835.9 242.4h.01M820.4 243.5h.01M823.7 243.0h.01M825.6 243.2h.01M828.5 243.8h.01M828.2 243.1h.01M830.4 243.7h.01M833.0 243.6h.01M837.7 243.4h.01M830.0 244.9h.01M822.9 245.9h.01M827.9 245.4h.01M834.3 245.8h.01M778.5 246.2h.01M816.8 246.8h.01M825.8 246.6h.01M828.5 246.6h.01M810.9 247.8h.01M822.5 247.9h.01M824.9 247.5h.01M815.3 248.7h.01M817.5 248.2h.01M815.0 249.8h.01M806.7 250.3h.01M810.2 250.0h.01M811.5 250.5h.01M815.1 250.9h.01M818.4 250.7h.01M820.8 250.5h.01M822.8 250.8h.01M814.6 251.2h.01M818.5 251.9h.01M816.1 252.1h.01M772.3 253.4h.01M773.4 253.1h.01M809.2 253.2h.01M802.6 254.7h.01M799.5 255.5h.01M808.9 255.1h.01M769.8 256.0h.01M800.1 257.0h.01M813.5 256.7h.01M815.0 256.6h.01M822.6 256.3h.01M770.5 258.0h.01M803.2 257.2h.01M804.8 257.1h.01M807.8 257.2h.01M809.7 257.1h.01M810.5 258.0h.01M801.7 258.4h.01M818.5 258.7h.01M797.9 259.3h.01M808.1 259.2h.01M808.6 260.4h.01M803.1 261.1h.01M812.2 261.6h.01M819.9 261.0h.01M806.7 262.3h.01M807.1 262.5h.01M810.0 262.1h.01M795.0 264.0h.01M800.8 263.1h.01M807.5 263.9h.01M811.3 263.6h.01M801.8 264.7h.01M806.3 264.1h.01M793.9 265.6h.01M798.8 265.0h.01M801.0 265.3h.01M802.5 265.1h.01M790.9 266.4h.01M796.5 266.4h.01M802.3 266.1h.01M798.8 267.2h.01M802.4 267.3h.01M790.4 269.8h.01M792.1 269.2h.01M801.4 269.8h.01M794.0 270.6h.01M799.0 270.5h.01M790.2 271.9h.01M793.8 272.0h.01M794.6 271.4h.01M787.5 272.2h.01M791.3 273.8h.01M796.4 273.7h.01M800.8 273.2h.01M804.3 273.5h.01M758.9 274.7h.01M783.8 274.4h.01M786.2 274.3h.01M757.0 275.5h.01M758.3 275.6h.01M782.6 275.5h.01M783.2 275.2h.01M784.7 275.4h.01M794.7 275.5h.01M781.6 276.2h.01M783.8 276.8h.01M784.9 276.2h.01M786.8 276.6h.01M788.5 276.6h.01M790.4 276.1h.01M798.7 276.6h.01M783.6 277.0h.01M792.8 277.2h.01M797.0 277.3h.01M798.9 277.7h.01M757.9 279.0h.01M780.6 278.7h.01M794.6 278.2h.01M777.2 279.5h.01M780.8 279.1h.01M781.9 279.9h.01M785.4 279.6h.01M786.8 279.7h.01M788.4 279.5h.01M801.8 279.2h.01M776.6 280.8h.01M777.3 281.0h.01M785.5 280.7h.01M785.9 280.1h.01M791.1 280.3h.01M792.0 280.9h.01M794.5 280.8h.01M789.5 281.3h.01M791.7 281.6h.01M786.6 283.0h.01M786.4 282.2h.01M787.8 282.7h.01M773.5 283.7h.01M777.8 283.5h.01M779.2 283.9h.01M784.9 283.2h.01M784.4 283.9h.01M781.5 284.8h.01M786.3 284.6h.01M788.8 284.3h.01M788.9 284.5h.01M769.5 285.6h.01M750.0 286.1h.01M773.3 287.0h.01M785.8 286.8h.01M790.2 286.7h.01M775.4 288.0h.01M779.0 288.0h.01M781.4 287.4h.01M782.3 288.4h.01M788.5 288.4h.01M770.4 289.2h.01M776.5 289.3h.01M771.1 290.7h.01M780.3 290.5h.01M786.2 290.7h.01M788.2 290.6h.01M771.4 291.4h.01M771.9 291.6h.01M778.6 292.0h.01M767.1 293.4h.01M773.2 293.9h.01M778.4 294.5h.01M788.2 294.9h.01M774.8 296.0h.01M776.2 295.9h.01M757.5 296.6h.01M755.4 297.1h.01M776.1 297.0h.01M755.7 298.7h.01M753.3 299.4h.01M754.6 299.2h.01M770.9 299.0h.01M760.1 300.8h.01M765.5 301.0h.01M742.8 303.1h.01M758.7 303.7h.01M758.6 305.0h.01M742.6 305.5h.01M749.3 305.4h.01M754.7 305.6h.01M749.1 306.9h.01M760.3 306.8h.01M739.5 307.1h.01M759.4 307.2h.01M738.1 309.3h.01M750.4 309.3h.01M739.5 311.3h.01M744.3 311.6h.01M743.9 312.2h.01M758.3 312.6h.01M759.2 312.3h.01M754.6 313.1h.01M749.1 314.2h.01M765.6 315.7h.01M744.2 316.8h.01M763.9 316.4h.01M742.9 318.0h.01M746.9 320.9h.01M751.5 320.7h.01M752.6 320.6h.01M756.3 320.8h.01M739.8 321.2h.01M748.7 322.4h.01M747.6 324.8h.01M737.9 325.5h.01M738.2 326.8h.01M754.6 326.6h.01M745.5 329.8h.01M728.5 331.0h.01M740.6 331.3h.01M761.9 331.8h.01M726.9 332.3h.01M733.4 334.6h.01M724.5 335.9h.01M733.9 336.0h.01M733.9 336.4h.01M737.5 336.9h.01M746.8 336.8h.01M723.1 337.0h.01M731.0 339.6h.01M746.0 339.1h.01M744.6 340.7h.01M731.8 341.3h.01M754.4 341.8h.01M730.1 342.6h.01M735.9 345.7h.01M737.0 345.5h.01M727.4 346.6h.01M741.2 346.1h.01M735.7 347.3h.01M731.6 348.0h.01M716.4 349.4h.01M717.9 349.0h.01M728.0 349.8h.01M729.0 349.3h.01M718.1 350.6h.01M740.8 351.9h.01M716.0 352.5h.01M726.9 352.5h.01M729.8 352.1h.01M715.7 353.8h.01M731.2 353.9h.01M726.6 354.2h.01M739.5 354.2h.01M715.8 356.8h.01M726.0 356.3h.01M730.7 356.8h.01M723.7 357.0h.01M735.9 357.0h.01M741.1 357.2h.01M741.8 358.2h.01M713.1 359.1h.01M723.9 359.8h.01M729.4 359.3h.01M729.3 360.3h.01M742.8 360.9h.01M724.3 361.3h.01M736.8 361.5h.01M711.2 362.6h.01M712.6 362.8h.01M710.2 363.9h.01M731.0 363.4h.01M723.5 364.5h.01M721.7 365.5h.01M723.0 365.5h.01M727.3 365.5h.01M709.4 366.8h.01M731.7 366.7h.01M736.3 366.6h.01M720.7 367.6h.01M720.6 368.0h.01M724.5 368.7h.01M732.6 369.0h.01M716.8 373.2h.01M719.6 374.9h.01M718.3 376.3h.01M733.4 376.1h.01M734.6 376.9h.01M718.6 377.2h.01M729.1 377.4h.01M722.3 380.5h.01M739.3 380.4h.01M706.4 382.6h.01M724.8 382.6h.01M716.8 384.1h.01M729.8 384.8h.01M717.9 385.7h.01M720.4 385.1h.01M705.9 387.4h.01M719.0 387.5h.01M724.8 387.7h.01M704.2 388.6h.01M703.1 389.4h.01M712.3 389.3h.01M720.3 390.2h.01M720.9 391.2h.01M726.3 391.6h.01M711.9 392.6h.01M711.8 392.3h.01M712.6 392.3h.01M712.9 393.7h.01M716.8 396.0h.01M700.1 396.5h.01M700.5 398.5h.01M711.2 398.6h.01M701.6 399.1h.01M726.7 400.2h.01M713.4 401.8h.01M728.1 401.4h.01M707.7 402.6h.01M709.7 402.1h.01M716.8 402.4h.01M698.2 403.4h.01M707.0 403.2h.01M731.4 404.6h.01M699.1 406.1h.01M697.1 408.5h.01M697.6 408.4h.01M699.0 408.1h.01M710.7 408.2h.01M697.1 409.3h.01M704.4 409.6h.01M696.6 410.0h.01M722.8 411.6h.01M709.7 413.3h.01M711.1 413.9h.01M702.1 414.0h.01M704.0 414.9h.01M704.2 414.7h.01M725.4 414.8h.01M702.2 417.3h.01M728.3 417.2h.01M702.4 418.4h.01M726.3 418.3h.01M709.8 419.9h.01M721.2 419.3h.01M700.1 422.9h.01M701.5 422.9h.01M708.2 423.9h.01M712.5 423.6h.01M702.7 425.7h.01M705.3 425.8h.01M721.3 425.9h.01M696.2 428.8h.01M697.3 428.9h.01M690.9 429.8h.01M691.3 429.9h.01M711.4 429.8h.01M695.0 430.1h.01M697.8 430.6h.01M697.7 430.5h.01M703.1 430.4h.01M715.1 430.8h.01M691.6 431.8h.01M704.5 431.7h.01M689.3 432.1h.01M710.6 433.2h.01M699.5 434.6h.01M703.7 435.1h.01M711.1 435.5h.01M712.4 435.8h.01M708.4 436.2h.01M693.9 437.4h.01M710.0 438.3h.01M688.6 439.1h.01M688.7 439.1h.01M688.9 440.9h.01M702.7 440.9h.01M702.4 440.7h.01M686.2 443.0h.01M692.2 445.3h.01M700.2 446.1h.01M688.2 449.6h.01M881.5 160.0h.01M866.8 165.6h.01M883.1 170.4h.01M887.9 176.4h.01M883.9 179.1h.01M874.8 187.9h.01M867.3 199.9h.01M866.3 207.6h.01M858.0 198.3h.01M882.4 238.0h.01M879.1 247.4h.01"/>
<path fill="none" stroke="#0f0" stroke-width="3.3" stroke-linecap="round" d="M850.7 206.2h.01M851.7 217.1h.01M838.6 221.8h.01M850.2 222.6h.01M834.0 223.8h.01M841.1 223.7h.01M852.2 223.4h.01M847.4 224.7h.01M795.2 226.9h.01M808.9 226.3h.01M834.5 226.0h.01M840.8 226.5h.01M874.1 227.7h.01M815.5 228.9h.01M837.6 228.5h.01M839.2 228.1h.01M827.7 231.5h.01M839.9 232.6h.01M841.1 232.7h.01M824.7 234.8h.01M845.4 234.7h.01M830.7 237.5h.01M832.1 237.6h.01M832.8 238.3h.01M820.8 239.4h.01M826.7 240.9h.01M828.5 240.3h.01M811.5 241.7h.01M825.6 241.7h.01M848.4 241.8h.01M809.2 242.6h.01M831.6 242.4h.01M823.4 244.4h.01M843.6 244.4h.01M858.7 245.6h.01M801.5 246.1h.01M810.4 246.6h.01M823.7 246.5h.01M779.3 249.5h.01M812.9 250.4h.01M867.8 252.8h.01M824.2 254.5h.01M800.9 255.5h.01M812.2 255.2h.01M815.9 255.9h.01M816.2 255.2h.01M835.2 255.5h.01M835.4 256.4h.01M840.5 256.7h.01M877.9 256.1h.01M820.2 257.8h.01M808.4 258.1h.01M807.5 260.9h.01M814.8 261.0h.01M810.0 261.8h.01M807.4 263.1h.01M814.6 263.5h.01M817.2 264.8h.01M767.3 265.0h.01M843.0 265.2h.01M808.0 266.8h.01M797.3 267.6h.01M782.5 272.0h.01M792.6 271.5h.01M782.2 272.4h.01M794.6 273.0h.01M798.1 272.1h.01M789.2 273.4h.01M798.7 273.5h.01M824.2 274.2h.01M793.3 276.0h.01M799.8 275.5h.01M802.1 275.6h.01M820.8 276.8h.01M788.3 277.1h.01M789.8 277.8h.01M788.2 278.6h.01M777.1 280.9h.01M789.4 280.3h.01M793.1 280.9h.01M776.3 281.6h.01M781.5 281.2h.01M793.3 281.7h.01M774.7 284.0h.01M777.6 283.9h.01M792.5 283.2h.01M783.0 285.7h.01M785.7 285.9h.01M786.9 285.9h.01M806.7 285.8h.01M775.8 286.9h.01M776.2 286.3h.01M770.8 287.7h.01M776.0 287.3h.01M788.9 287.0h.01M856.4 287.6h.01M890.0 287.2h.01M781.8 288.3h.01M783.0 288.5h.01M786.4 288.7h.01M864.7 288.8h.01M778.5 290.0h.01M780.7 289.2h.01M781.6 289.9h.01M785.9 289.4h.01M791.4 289.2h.01M776.5 290.1h.01M783.7 290.2h.01M783.2 290.9h.01M784.5 290.3h.01M788.7 290.2h.01M788.3 291.3h.01M774.1 292.5h.01M777.0 292.7h.01M776.5 292.3h.01M776.5 292.7h.01M780.7 292.0h.01M782.0 292.6h.01M789.2 292.8h.01M789.8 292.6h.01M791.6 292.6h.01M792.8 292.3h.01M765.9 293.5h.01M766.2 293.1h.01M769.8 293.3h.01M786.3 293.9h.01M771.0 294.5h.01M777.5 294.5h.01M778.6 294.7h.01M784.7 294.9h.01M786.8 294.4h.01M788.4 294.2h.01M793.0 294.1h.01M770.0 295.8h.01M772.1 295.5h.01M785.6 295.8h.01M761.8 296.0h.01M764.2 296.0h.01M765.1 296.1h.01M780.4 296.6h.01M789.5 296.6h.01M799.8 296.0h.01M763.8 297.0h.01M767.2 297.0h.01M775.8 297.6h.01M780.1 297.3h.01M783.9 297.1h.01M787.6 297.6h.01M789.4 297.8h.01M870.6 297.8h.01M760.5 298.6h.01M769.8 298.8h.01M770.0 298.3h.01M772.5 298.3h.01M779.2 298.3h.01M786.9 298.2h.01M790.8 298.1h.01M751.1 299.3h.01M755.0 299.8h.01M764.6 299.3h.01M800.9 299.4h.01M752.8 300.0h.01M753.1 300.4h.01M761.1 300.5h.01M772.5 300.5h.01M775.8 300.2h.01M758.2 301.8h.01M767.7 301.1h.01M771.6 301.4h.01M787.4 301.8h.01M759.0 302.2h.01M789.4 302.9h.01M758.1 303.5h.01M762.1 303.6h.01M764.8 303.8h.01M766.0 303.8h.01M784.1 303.7h.01M750.5 304.1h.01M782.1 304.5h.01M785.1 304.6h.01M787.2 304.8h.01M794.5 304.8h.01M806.6 304.1h.01M765.2 305.5h.01M773.0 305.8h.01M780.3 305.2h.01M772.3 306.1h.01M784.4 306.2h.01M784.6 306.6h.01M754.7 307.9h.01M757.2 307.4h.01M760.1 307.9h.01M761.4 307.6h.01M763.6 307.9h.01M765.5 307.6h.01M769.7 307.2h.01M770.9 307.7h.01M779.0 307.8h.01M787.9 307.8h.01M799.2 307.4h.01M768.1 308.0h.01M773.7 308.6h.01M776.8 308.2h.01M779.5 308.5h.01M760.8 309.3h.01M767.2 309.7h.01M768.7 309.1h.01M773.2 309.8h.01M777.0 309.3h.01M792.5 309.6h.01M752.1 310.0h.01M753.0 310.7h.01M773.5 310.5h.01M778.0 310.5h.01M757.2 311.0h.01M764.1 311.2h.01M777.7 311.1h.01M781.9 311.5h.01M783.7 311.7h.01M783.7 311.2h.01M783.2 311.7h.01M787.0 311.3h.01M787.2 311.5h.01M753.0 312.8h.01M767.7 312.0h.01M769.5 312.2h.01M749.5 313.7h.01M754.2 313.0h.01M757.6 313.5h.01M762.6 313.1h.01M766.1 313.6h.01M785.3 313.2h.01M756.2 314.5h.01M768.9 314.1h.01M770.7 314.6h.01M772.8 314.6h.01M776.5 314.2h.01M783.9 314.4h.01M784.6 314.7h.01M784.9 314.6h.01M785.2 314.2h.01M745.2 315.6h.01M746.4 315.7h.01M768.4 315.8h.01M769.2 315.9h.01M772.4 316.0h.01M799.0 316.0h.01M747.6 316.7h.01M750.0 316.4h.01M757.2 317.0h.01M761.3 316.7h.01M762.1 316.3h.01M768.2 316.6h.01M771.6 316.3h.01M777.5 316.7h.01M782.4 316.8h.01M785.4 316.1h.01M797.8 316.2h.01M769.2 317.6h.01M789.5 317.4h.01M794.5 317.9h.01M742.3 318.5h.01M747.8 318.4h.01M748.8 318.8h.01M754.9 318.5h.01M758.9 318.0h.01M766.3 318.5h.01M771.4 318.5h.01M783.7 318.4h.01M787.7 318.8h.01M744.5 319.9h.01M751.4 319.9h.01M764.4 319.0h.01M767.4 319.4h.01M774.9 319.4h.01M778.9 319.5h.01M779.6 319.3h.01M800.6 319.2h.01M740.5 320.6h.01M747.7 320.1h.01M747.4 320.6h.01M748.0 320.0h.01M757.8 320.9h.01M781.6 320.1h.01M846.0 321.0h.01M760.7 321.6h.01M775.5 321.2h.01M831.5 321.2h.01M752.1 322.5h.01M761.2 322.5h.01M770.8 322.3h.01M772.3 322.1h.01M783.0 322.4h.01M785.5 322.9h.01M752.3 323.8h.01M755.7 323.5h.01M761.1 323.3h.01M763.9 323.2h.01M774.4 323.6h.01M775.3 323.9h.01M760.2 324.9h.01M762.5 324.7h.01M768.5 324.7h.01M773.4 324.2h.01M777.1 324.4h.01M787.0 324.0h.01M799.6 324.5h.01M751.3 325.2h.01M813.8 325.8h.01M867.6 325.9h.01M754.3 326.1h.01M783.4 326.5h.01M748.1 327.1h.01M753.0 327.3h.01M785.5 327.2h.01M750.1 328.1h.01M751.0 328.8h.01M768.9 328.3h.01M774.9 328.1h.01M783.8 329.0h.01M784.0 328.5h.01M787.2 328.6h.01M744.3 329.3h.01M751.5 329.3h.01M767.2 329.1h.01M773.0 329.9h.01M780.5 329.4h.01M788.1 330.0h.01M739.5 330.3h.01M741.2 330.9h.01M744.9 330.6h.01M752.6 330.7h.01M781.9 330.6h.01M801.0 330.4h.01M801.3 330.4h.01M739.2 331.6h.01M767.2 331.6h.01M775.0 331.8h.01M781.8 331.7h.01M761.7 332.3h.01M780.3 332.3h.01M739.7 333.2h.01M745.2 333.9h.01M748.2 333.2h.01M763.4 333.6h.01M764.7 333.1h.01M736.8 334.4h.01M762.4 334.2h.01M767.6 334.7h.01M770.4 334.4h.01M772.9 334.2h.01M756.7 335.6h.01M763.1 335.4h.01M767.8 335.3h.01M774.8 335.3h.01M781.7 335.2h.01M781.5 335.9h.01M812.3 335.8h.01M749.9 336.8h.01M749.6 336.0h.01M755.6 336.5h.01M765.7 337.0h.01M781.9 336.3h.01M783.9 336.2h.01M783.3 336.4h.01M749.1 337.8h.01M750.4 337.9h.01M751.7 337.8h.01M756.8 338.0h.01M776.7 337.1h.01M778.5 337.5h.01M779.3 337.5h.01M752.3 338.9h.01M755.8 338.5h.01M761.6 338.6h.01M770.2 338.4h.01M777.0 338.7h.01M778.2 338.8h.01M787.2 338.5h.01M795.6 338.9h.01M870.1 338.2h.01M736.2 339.1h.01M742.0 339.2h.01M780.0 339.9h.01M781.1 339.7h.01M784.5 339.2h.01M790.3 339.0h.01M798.2 339.0h.01M740.4 340.4h.01M742.3 340.8h.01M746.5 340.3h.01M755.8 340.0h.01M759.7 340.5h.01M773.6 340.1h.01M780.3 340.4h.01M782.6 340.8h.01M784.0 340.8h.01M829.8 340.5h.01M731.4 341.5h.01M738.8 341.6h.01M740.5 341.9h.01M741.9 341.5h.01M743.4 341.7h.01M758.8 342.0h.01M768.5 341.7h.01M794.8 341.5h.01M733.0 342.7h.01M744.8 342.8h.01M748.5 342.6h.01M751.7 342.2h.01M767.2 343.0h.01M772.6 342.9h.01M783.4 342.9h.01M824.5 342.6h.01M832.1 342.1h.01M739.0 343.7h.01M750.2 343.8h.01M756.4 343.7h.01M757.0 343.2h.01M761.8 343.8h.01M767.4 343.8h.01M774.1 343.5h.01M792.9 343.8h.01M734.7 345.0h.01M749.2 344.4h.01M757.2 344.1h.01M759.0 345.0h.01M769.9 344.5h.01M780.2 344.3h.01M733.1 345.6h.01M739.6 345.9h.01M745.9 345.6h.01M760.5 345.6h.01M768.5 345.2h.01M769.3 345.3h.01M773.3 345.7h.01M780.9 345.3h.01M782.9 345.3h.01M797.4 345.1h.01M819.6 345.7h.01M737.5 346.4h.01M741.3 346.8h.01M749.7 347.0h.01M749.7 346.8h.01M754.5 346.8h.01M776.8 346.0h.01M878.0 346.5h.01M737.6 347.7h.01M740.8 347.1h.01M751.3 347.1h.01M763.6 347.5h.01M778.5 347.3h.01M779.8 347.0h.01M786.0 347.5h.01M801.4 347.5h.01M735.6 348.7h.01M746.4 348.3h.01M754.1 348.7h.01M765.5 348.2h.01M767.9 348.0h.01M776.8 348.0h.01M777.9 348.9h.01M778.1 348.1h.01M786.6 348.8h.01M787.5 348.4h.01M768.1 349.9h.01M775.3 349.4h.01M776.2 349.9h.01M777.9 349.1h.01M783.1 349.6h.01M800.0 349.6h.01M748.4 350.7h.01M758.5 350.1h.01M766.8 350.6h.01M800.2 350.9h.01M740.5 351.0h.01M743.4 351.1h.01M744.9 351.6h.01M745.9 351.1h.01M754.0 351.5h.01M760.0 351.9h.01M763.9 351.4h.01M768.4 351.2h.01M774.7 351.9h.01M776.9 351.6h.01M783.4 351.2h.01M731.0 352.3h.01M733.4 352.1h.01M738.5 352.3h.01M740.6 352.6h.01M751.8 352.1h.01M765.2 352.9h.01M774.6 352.6h.01M803.8 352.5h.01M731.0 353.6h.01M732.6 353.7h.01M733.3 353.1h.01M734.5 353.5h.01M759.3 353.2h.01M765.3 354.0h.01M732.6 354.3h.01M733.5 354.1h.01M740.5 354.4h.01M764.7 354.4h.01M768.3 354.5h.01M769.5 354.9h.01M778.4 354.9h.01M779.7 354.0h.01M858.2 354.4h.01M743.8 355.6h.01M747.0 355.3h.01M749.3 355.5h.01M757.0 355.7h.01M766.1 355.0h.01M773.1 355.1h.01M774.7 355.2h.01M779.3 355.2h.01M850.4 355.4h.01M734.7 356.9h.01M736.3 356.9h.01M739.6 356.2h.01M745.1 356.7h.01M747.4 356.8h.01M771.0 356.9h.01M779.3 356.2h.01M779.0 356.7h.01M782.6 356.2h.01M784.9 356.1h.01M795.3 356.2h.01M803.4 356.7h.01M728.0 357.2h.01M749.1 357.6h.01M755.6 357.4h.01M773.7 357.3h.01M804.8 357.6h.01M731.4 358.7h.01M752.8 358.6h.01M756.3 358.4h.01M770.8 358.6h.01M771.2 358.0h.01M784.1 358.2h.01M870.0 358.7h.01M732.0 359.2h.01M737.4 359.1h.01M739.7 359.9h.01M742.0 360.0h.01M743.2 359.6h.01M757.9 359.9h.01M764.7 359.9h.01M732.2 360.8h.01M739.9 360.7h.01M741.4 360.8h.01M745.7 360.2h.01M749.3 360.5h.01M753.7 360.9h.01M753.7 360.2h.01M761.6 360.4h.01M789.0 360.2h.01M790.8 360.4h.01M747.7 361.1h.01M752.5 361.6h.01M771.4 361.3h.01M774.5 361.7h.01M776.2 361.0h.01M786.9 361.7h.01M788.6 361.9h.01M790.9 361.2h.01M729.9 362.4h.01M738.5 362.8h.01M743.5 362.1h.01M746.7 362.7h.01M748.2 362.1h.01M764.1 362.9h.01M764.7 362.6h.01M768.2 362.7h.01M775.1 363.0h.01M777.2 362.6h.01M794.4 362.6h.01M730.6 364.0h.01M732.1 363.3h.01M739.0 363.3h.01M749.4 363.9h.01M756.1 363.3h.01M769.4 363.7h.01M770.8 363.5h.01M771.2 363.9h.01M777.4 363.7h.01M790.5 363.9h.01M793.2 363.4h.01M824.2 363.4h.01M735.9 364.6h.01M756.9 364.4h.01M761.6 364.5h.01M772.9 364.7h.01M780.9 364.0h.01M792.4 364.0h.01M730.6 365.0h.01M731.5 365.8h.01M748.1 365.1h.01M756.6 365.5h.01M757.4 365.9h.01M737.5 366.6h.01M738.5 366.8h.01M744.0 366.6h.01M746.1 366.2h.01M754.5 366.8h.01M769.7 366.6h.01M771.2 366.8h.01M772.2 366.3h.01M743.1 367.7h.01M744.3 367.4h.01M746.6 367.4h.01M761.4 367.3h.01M775.4 367.9h.01M742.9 368.7h.01M744.6 368.8h.01M763.3 368.1h.01M772.6 368.8h.01M772.2 368.2h.01M777.3 368.3h.01M779.7 368.8h.01M779.1 369.0h.01M786.9 368.1h.01M736.6 369.6h.01M745.4 369.8h.01M760.5 369.6h.01M775.7 369.4h.01M725.1 370.8h.01M727.9 371.0h.01M743.4 370.1h.01M748.0 370.9h.01M752.7 370.8h.01M755.8 370.8h.01M756.3 370.2h.01M762.7 370.0h.01M770.4 371.0h.01M773.4 370.5h.01M778.9 370.3h.01M779.9 370.2h.01M780.4 370.3h.01M782.6 370.9h.01M726.2 371.4h.01M740.1 371.3h.01M765.2 371.8h.01M768.5 371.5h.01M769.2 372.0h.01M773.4 371.8h.01M775.0 371.6h.01M775.6 371.9h.01M790.7 371.6h.01M794.7 371.7h.01M738.5 372.3h.01M740.6 372.7h.01M743.8 372.1h.01M746.1 372.5h.01M750.6 372.6h.01M751.2 372.7h.01M752.3 372.3h.01M755.1 372.7h.01M765.6 372.1h.01M766.2 372.6h.01M770.7 372.2h.01M729.6 373.7h.01M741.2 373.7h.01M762.5 373.9h.01M769.2 373.5h.01M773.6 373.1h.01M774.4 373.7h.01M775.6 373.3h.01M722.6 374.9h.01M737.8 374.2h.01M738.8 374.5h.01M739.6 374.7h.01M739.5 374.6h.01M747.2 374.6h.01M757.4 374.7h.01M772.6 374.2h.01M730.5 375.5h.01M739.1 375.2h.01M746.4 375.2h.01M747.1 375.9h.01M748.5 375.1h.01M751.2 375.9h.01M753.6 375.1h.01M754.4 375.7h.01M758.2 375.1h.01M759.5 375.4h.01M766.9 375.6h.01M796.0 375.6h.01M833.6 375.2h.01M728.4 376.5h.01M731.4 376.8h.01M734.1 376.6h.01M741.5 376.8h.01M744.1 376.3h.01M747.2 376.7h.01M748.1 376.7h.01M748.3 376.7h.01M778.3 376.0h.01M722.3 377.2h.01M740.6 377.1h.01M741.5 377.5h.01M743.1 377.3h.01M746.5 377.1h.01M776.8 377.8h.01M778.9 377.5h.01M785.5 377.6h.01M722.5 378.5h.01M727.6 378.1h.01M735.7 378.5h.01M736.0 378.7h.01M762.0 378.0h.01M780.5 378.5h.01M795.5 378.3h.01M721.5 379.7h.01M725.7 379.2h.01M727.0 379.7h.01M728.0 379.3h.01M736.7 379.2h.01M739.9 379.5h.01M739.4 380.0h.01M794.7 379.0h.01M722.6 381.0h.01M725.1 380.2h.01M731.6 380.5h.01M762.9 380.1h.01M793.6 380.6h.01M730.3 381.7h.01M734.5 381.9h.01M734.9 381.2h.01M739.3 381.5h.01M767.8 381.5h.01M772.2 381.4h.01M775.4 381.9h.01M779.5 381.3h.01M718.6 382.6h.01M724.4 382.6h.01M728.5 382.1h.01M730.9 382.5h.01M732.1 382.2h.01M738.9 382.9h.01M739.8 382.8h.01M741.8 382.3h.01M742.4 382.4h.01M743.2 382.2h.01M748.9 382.4h.01M753.6 382.4h.01M776.4 382.1h.01M778.3 382.0h.01M780.0 382.3h.01M712.7 383.5h.01M723.0 383.0h.01M728.5 383.1h.01M733.2 383.6h.01M736.9 383.0h.01M740.9 383.5h.01M741.7 383.1h.01M742.1 383.0h.01M742.1 383.9h.01M751.0 383.5h.01M756.4 383.6h.01M762.0 383.2h.01M762.0 383.8h.01M762.5 384.0h.01M776.5 384.0h.01M736.9 384.2h.01M740.1 384.3h.01M741.0 384.7h.01M779.2 385.0h.01M792.6 384.9h.01M795.0 384.0h.01M796.2 384.9h.01M834.5 384.6h.01M863.8 384.1h.01M716.0 385.4h.01M724.1 385.6h.01M728.5 385.5h.01M747.3 385.8h.01M749.3 385.5h.01M749.7 385.4h.01M763.8 385.4h.01M765.2 385.4h.01M767.3 385.9h.01M777.4 385.0h.01M783.0 385.1h.01M708.1 386.4h.01M728.3 386.4h.01M735.3 386.4h.01M739.0 386.5h.01M739.7 386.2h.01M773.4 386.4h.01M719.2 387.8h.01M732.3 387.3h.01M741.0 387.2h.01M742.5 387.1h.01M764.8 387.7h.01M765.2 387.4h.01M766.7 387.8h.01M773.9 387.0h.01M780.7 387.1h.01M785.2 387.8h.01M792.4 387.3h.01M792.1 387.3h.01M731.7 388.2h.01M732.7 388.6h.01M735.2 388.7h.01M739.8 388.9h.01M759.8 388.4h.01M777.1 388.5h.01M803.0 388.4h.01M715.7 389.9h.01M720.5 389.8h.01M734.8 389.4h.01M734.3 389.4h.01M766.0 389.0h.01M767.0 389.9h.01M798.7 389.2h.01M726.4 390.7h.01M726.5 390.7h.01M735.0 390.0h.01M766.1 390.9h.01M767.7 390.8h.01M773.1 390.3h.01M781.8 390.1h.01M713.7 391.0h.01M728.5 391.1h.01M737.5 391.3h.01M741.4 391.5h.01M754.3 391.8h.01M757.9 391.4h.01M778.0 391.1h.01M705.2 392.2h.01M733.2 392.6h.01M735.6 392.6h.01M747.6 392.8h.01M748.6 392.2h.01M749.4 392.8h.01M750.2 392.1h.01M768.7 392.4h.01M773.3 393.0h.01M776.9 392.3h.01M798.1 392.9h.01M841.6 392.7h.01M715.2 393.4h.01M722.5 393.4h.01M731.2 393.5h.01M749.6 393.1h.01M758.4 393.4h.01M761.4 393.6h.01M766.1 393.2h.01M775.9 393.5h.01M777.7 393.5h.01M859.9 393.0h.01M719.6 394.6h.01M721.6 394.6h.01M723.8 394.9h.01M731.1 394.6h.01M749.6 394.4h.01M770.2 394.4h.01M774.0 394.8h.01M775.8 394.2h.01M789.3 394.2h.01M791.3 394.7h.01M714.4 395.1h.01M717.3 395.1h.01M725.3 395.9h.01M726.4 395.2h.01M755.7 395.3h.01M757.7 395.4h.01M772.6 395.6h.01M776.0 395.5h.01M723.4 396.9h.01M725.2 396.3h.01M736.6 396.6h.01M739.6 396.1h.01M748.1 396.6h.01M748.1 396.5h.01M753.1 396.8h.01M767.7 396.9h.01M769.7 396.2h.01M717.7 397.1h.01M720.1 397.2h.01M731.1 397.6h.01M739.3 397.0h.01M739.2 397.8h.01M747.9 397.1h.01M749.1 397.2h.01M756.0 397.8h.01M756.7 397.4h.01M769.2 397.1h.01M771.3 398.0h.01M771.9 397.9h.01M772.5 397.3h.01M774.1 397.2h.01M786.9 397.3h.01M717.0 398.3h.01M720.0 398.2h.01M734.2 398.3h.01M737.2 398.6h.01M750.4 398.1h.01M757.4 398.8h.01M761.6 398.6h.01M870.0 398.6h.01M721.7 399.5h.01M723.4 399.4h.01M726.3 399.2h.01M754.0 399.2h.01M753.4 399.0h.01M754.4 399.4h.01M757.3 399.3h.01M759.4 399.4h.01M764.8 399.9h.01M767.5 400.0h.01M773.8 399.1h.01M722.0 400.9h.01M730.0 400.7h.01M741.7 400.2h.01M745.7 400.6h.01M752.6 400.3h.01M753.1 401.0h.01M758.8 400.9h.01M759.6 400.9h.01M762.7 400.4h.01M773.0 400.9h.01M782.2 400.5h.01M805.0 400.4h.01M709.1 401.7h.01M714.5 401.3h.01M715.3 402.0h.01M724.8 401.3h.01M725.5 402.0h.01M731.5 401.7h.01M744.3 401.3h.01M750.4 401.8h.01M751.2 401.1h.01M762.3 401.4h.01M763.9 402.0h.01M708.8 402.5h.01M715.5 402.5h.01M719.8 402.6h.01M719.9 402.3h.01M727.1 402.1h.01M733.7 402.3h.01M743.4 402.2h.01M756.6 403.0h.01M774.5 402.3h.01M706.5 403.9h.01M710.6 403.9h.01M717.5 403.4h.01M732.6 403.9h.01M734.5 403.3h.01M747.6 403.3h.01M751.9 403.6h.01M753.2 403.7h.01M754.2 403.2h.01M754.2 403.4h.01M755.9 404.0h.01M758.8 403.2h.01M774.4 403.4h.01M734.3 404.8h.01M739.7 404.3h.01M743.5 404.7h.01M743.3 404.6h.01M755.3 404.8h.01M756.9 404.8h.01M763.8 404.8h.01M772.0 404.3h.01M785.7 404.3h.01M722.6 405.6h.01M734.5 405.2h.01M744.2 405.7h.01M747.0 405.5h.01M747.2 405.1h.01M757.0 405.8h.01M756.8 405.2h.01M776.0 405.3h.01M783.3 405.7h.01M818.6 405.9h.01M712.8 406.8h.01M726.3 406.6h.01M730.0 406.5h.01M750.5 406.2h.01M764.7 406.6h.01M768.1 406.4h.01M796.7 406.4h.01M714.7 407.3h.01M723.9 407.6h.01M736.5 407.3h.01M742.6 407.6h.01M751.4 407.9h.01M753.4 407.0h.01M759.2 407.5h.01M767.5 407.1h.01M768.8 408.0h.01M772.3 407.6h.01M711.2 408.3h.01M717.1 408.1h.01M723.7 408.6h.01M734.2 408.8h.01M735.8 408.3h.01M737.8 408.3h.01M739.5 408.4h.01M740.7 408.5h.01M744.1 408.9h.01M745.0 408.7h.01M746.3 408.2h.01M747.9 408.5h.01M758.1 408.8h.01M760.2 408.2h.01M760.7 408.7h.01M761.3 408.4h.01M763.8 408.4h.01M773.3 408.1h.01M781.2 408.7h.01M836.9 408.5h.01M705.6 409.5h.01M710.0 409.9h.01M734.1 409.9h.01M740.4 409.8h.01M745.0 409.1h.01M747.3 409.9h.01M751.9 409.8h.01M761.2 409.8h.01M765.8 409.4h.01M766.8 409.2h.01M771.9 409.1h.01M772.7 409.9h.01M773.2 409.5h.01M774.1 409.6h.01M774.0 409.3h.01M713.9 410.5h.01M726.2 410.7h.01M736.5 410.1h.01M738.8 410.6h.01M745.4 410.2h.01M745.1 410.2h.01M781.6 410.8h.01M708.0 411.8h.01M747.6 411.2h.01M755.6 411.1h.01M756.1 412.0h.01M762.3 411.5h.01M764.9 411.1h.01M772.4 411.7h.01M796.1 411.8h.01M798.1 411.7h.01M799.4 411.9h.01M712.9 412.9h.01M716.9 412.3h.01M724.6 412.5h.01M728.2 412.5h.01M728.4 412.7h.01M744.3 412.2h.01M781.4 412.3h.01M873.5 412.5h.01M713.2 413.3h.01M722.9 413.4h.01M731.9 413.4h.01M732.1 413.7h.01M736.7 413.9h.01M738.5 413.5h.01M745.1 413.3h.01M750.7 413.8h.01M763.9 413.9h.01M774.6 413.2h.01M785.1 413.4h.01M832.6 413.3h.01M863.1 413.9h.01M710.5 414.6h.01M723.9 414.6h.01M727.5 414.6h.01M736.4 414.8h.01M738.2 414.5h.01M755.2 414.3h.01M759.6 414.7h.01M761.7 414.5h.01M766.5 414.2h.01M769.1 414.4h.01M774.7 414.3h.01M779.9 414.2h.01M790.3 414.8h.01M719.1 416.0h.01M720.0 415.8h.01M723.0 415.8h.01M730.2 415.9h.01M744.7 415.6h.01M748.4 415.8h.01M761.3 415.5h.01M767.5 415.8h.01M772.3 415.3h.01M707.8 416.8h.01M720.3 416.7h.01M720.3 416.0h.01M724.3 416.2h.01M726.2 416.9h.01M729.8 416.9h.01M729.2 416.5h.01M730.5 416.3h.01M733.1 416.3h.01M733.9 416.5h.01M736.0 416.4h.01M737.5 416.0h.01M742.6 416.7h.01M743.7 416.0h.01M755.7 417.0h.01M757.4 416.1h.01M759.0 416.1h.01M769.2 416.0h.01M771.7 417.0h.01M777.6 416.0h.01M785.3 416.7h.01M787.7 416.9h.01M793.2 416.4h.01M802.9 416.7h.01M705.6 417.2h.01M707.5 417.7h.01M707.3 417.1h.01M718.0 417.9h.01M719.1 417.9h.01M732.3 418.0h.01M735.0 417.7h.01M754.6 417.3h.01M755.2 417.7h.01M767.1 417.1h.01M773.9 417.8h.01M777.0 417.1h.01M789.4 417.9h.01M708.0 418.6h.01M709.3 418.8h.01M723.0 418.4h.01M723.1 418.6h.01M724.8 418.8h.01M726.2 418.7h.01M742.7 418.1h.01M745.0 418.5h.01M759.0 418.6h.01M760.8 418.1h.01M771.0 418.9h.01M771.6 418.7h.01M793.6 418.5h.01M844.2 418.3h.01M706.9 419.8h.01M708.7 419.8h.01M720.8 419.4h.01M723.0 419.6h.01M751.4 419.4h.01M755.0 419.7h.01M763.1 420.0h.01M834.1 419.4h.01M704.3 420.8h.01M713.3 420.1h.01M714.5 420.5h.01M736.2 420.5h.01M739.9 420.6h.01M749.7 420.8h.01M760.0 420.6h.01M770.4 420.2h.01M777.6 421.0h.01M722.6 421.8h.01M723.1 421.5h.01M728.2 421.8h.01M736.9 421.4h.01M743.4 421.6h.01M745.2 421.3h.01M747.5 421.1h.01M751.1 421.5h.01M754.7 421.4h.01M761.7 421.1h.01M706.6 422.9h.01M708.0 422.3h.01M713.9 422.2h.01M733.5 422.6h.01M733.9 422.4h.01M734.8 422.0h.01M737.2 422.5h.01M743.7 422.8h.01M744.6 422.8h.01M744.5 423.0h.01M746.8 422.2h.01M749.2 422.1h.01M751.5 422.7h.01M762.8 422.7h.01M763.9 422.8h.01M786.8 422.0h.01M814.7 422.2h.01M700.1 423.4h.01M713.4 423.7h.01M717.8 423.1h.01M724.8 423.4h.01M727.1 423.2h.01M741.6 423.7h.01M744.9 423.6h.01M749.6 423.6h.01M754.5 423.6h.01M757.6 423.2h.01M758.8 423.9h.01M758.4 423.3h.01M765.6 423.1h.01M766.7 423.0h.01M766.9 423.5h.01M768.1 423.9h.01M773.6 423.3h.01M700.2 424.7h.01M700.5 424.2h.01M707.0 424.2h.01M714.0 424.4h.01M718.6 424.5h.01M718.6 424.0h.01M725.7 424.0h.01M726.8 424.2h.01M728.1 424.9h.01M730.5 424.0h.01M742.6 424.1h.01M743.3 424.1h.01M745.7 424.2h.01M746.4 424.8h.01M763.8 425.0h.01M771.9 424.2h.01M774.3 424.4h.01M703.8 425.0h.01M704.9 425.0h.01M723.8 425.2h.01M741.5 425.5h.01M743.0 425.6h.01M743.0 425.0h.01M745.7 425.5h.01M746.1 425.0h.01M747.9 426.0h.01M750.9 425.2h.01M752.8 425.1h.01M756.2 425.3h.01M770.4 425.3h.01M705.1 426.6h.01M713.5 426.5h.01M717.0 426.5h.01M721.5 426.8h.01M741.6 427.0h.01M748.4 426.9h.01M749.3 426.2h.01M754.4 426.3h.01M755.8 426.9h.01M757.8 426.9h.01M773.2 426.8h.01M775.0 426.9h.01M706.1 427.0h.01M713.3 427.2h.01M725.6 427.8h.01M761.2 427.9h.01M797.0 427.6h.01M702.6 428.2h.01M705.0 428.2h.01M706.5 428.5h.01M728.8 428.9h.01M730.2 428.0h.01M732.6 428.8h.01M733.3 428.7h.01M746.8 428.9h.01M748.3 428.8h.01M753.8 428.7h.01M757.2 428.4h.01M770.9 428.7h.01M867.5 428.1h.01M701.3 429.0h.01M705.0 429.3h.01M709.0 429.1h.01M709.4 429.2h.01M711.7 429.7h.01M723.8 429.0h.01M724.1 429.2h.01M732.7 429.2h.01M743.2 429.7h.01M746.3 429.3h.01M760.9 429.5h.01M762.0 429.2h.01M762.8 429.1h.01M768.2 429.6h.01M699.8 430.1h.01M700.2 430.8h.01M702.6 430.9h.01M702.1 430.0h.01M709.1 430.6h.01M719.1 430.2h.01M722.5 430.6h.01M754.6 430.5h.01M775.3 430.7h.01M784.1 430.4h.01M791.2 430.4h.01M710.5 431.8h.01M741.2 432.0h.01M744.3 431.4h.01M761.8 431.6h.01M769.2 431.6h.01M770.1 431.9h.01M782.9 431.8h.01M788.9 431.3h.01M791.1 432.0h.01M701.8 432.1h.01M704.6 432.4h.01M708.7 432.3h.01M712.3 432.0h.01M718.0 432.7h.01M722.6 432.9h.01M730.3 432.6h.01M736.3 432.4h.01M754.0 432.5h.01M760.4 432.6h.01M770.0 432.2h.01M777.4 432.9h.01M790.7 432.7h.01M704.6 433.5h.01M707.3 433.6h.01M726.8 433.6h.01M733.6 433.8h.01M754.2 433.7h.01M756.5 433.9h.01M766.8 433.8h.01M766.5 433.9h.01M766.3 433.2h.01M776.5 433.9h.01M699.5 434.1h.01M705.8 434.3h.01M707.1 435.0h.01M715.1 434.7h.01M716.3 434.8h.01M718.5 434.2h.01M742.7 435.0h.01M752.9 434.1h.01M757.2 434.7h.01M762.7 434.2h.01M775.0 434.6h.01M803.8 434.2h.01M698.6 435.3h.01M704.7 435.7h.01M707.6 435.2h.01M712.0 435.2h.01M723.5 435.3h.01M723.4 435.8h.01M725.7 435.5h.01M727.7 435.7h.01M734.4 435.8h.01M735.0 435.9h.01M739.9 435.6h.01M743.5 435.5h.01M745.7 435.4h.01M746.2 435.6h.01M756.5 435.3h.01M765.2 436.0h.01M781.1 435.2h.01M698.3 436.9h.01M717.3 436.3h.01M717.9 436.4h.01M718.5 436.8h.01M719.1 436.2h.01M741.8 436.8h.01M747.7 436.7h.01M750.9 436.3h.01M752.3 436.4h.01M769.8 436.2h.01M770.0 436.5h.01M777.1 436.3h.01M793.9 436.5h.01M697.9 437.6h.01M698.5 437.4h.01M698.6 437.8h.01M710.8 437.6h.01M711.4 437.9h.01M712.1 437.2h.01M720.1 437.5h.01M721.3 437.7h.01M728.0 437.1h.01M735.3 437.3h.01M741.9 437.1h.01M742.2 437.8h.01M746.6 437.4h.01M754.4 437.7h.01M755.3 437.8h.01M760.8 437.7h.01M765.5 437.3h.01M690.6 438.2h.01M698.1 438.7h.01M701.9 438.9h.01M701.4 438.7h.01M707.4 438.8h.01M727.9 438.6h.01M730.6 438.9h.01M730.2 438.6h.01M733.4 438.8h.01M739.0 438.3h.01M746.9 438.0h.01M748.8 438.9h.01M754.9 438.8h.01M761.5 438.1h.01M762.7 438.4h.01M767.1 438.4h.01M769.0 438.1h.01M771.5 438.6h.01M703.8 439.3h.01M708.5 439.1h.01M712.2 439.3h.01M713.7 439.4h.01M719.0 439.5h.01M725.6 439.2h.01M745.6 439.1h.01M750.8 439.9h.01M754.7 439.5h.01M755.5 439.9h.01M760.1 439.3h.01M765.7 439.5h.01M765.0 439.7h.01M771.9 439.4h.01M780.0 439.4h.01M800.5 439.7h.01M841.3 439.8h.01M705.4 440.2h.01M709.8 440.7h.01M712.6 440.2h.01M715.2 440.8h.01M716.9 441.0h.01M722.8 440.5h.01M740.1 440.7h.01M740.1 440.8h.01M745.6 440.6h.01M751.9 440.1h.01M752.3 440.5h.01M770.4 440.9h.01M771.8 440.3h.01M777.8 440.3h.01M706.5 441.6h.01M706.9 441.6h.01M707.3 441.8h.01M712.8 441.8h.01M713.3 441.9h.01M718.9 441.3h.01M722.6 441.8h.01M729.0 441.0h.01M735.8 441.5h.01M739.4 441.6h.01M743.8 441.4h.01M754.1 441.1h.01M755.5 441.9h.01M765.5 441.6h.01M697.3 443.0h.01M701.5 442.7h.01M705.5 442.0h.01M710.2 443.0h.01M716.6 442.7h.01M719.6 442.7h.01M722.3 442.2h.01M727.7 442.3h.01M731.1 442.2h.01M733.8 442.5h.01M737.5 442.4h.01M742.5 442.5h.01M744.7 442.4h.01M757.0 442.3h.01M766.6 442.1h.01M774.5 442.2h.01M694.5 443.5h.01M705.8 443.8h.01M705.3 443.8h.01M716.3 443.9h.01M738.8 443.8h.01M740.6 443.2h.01M742.0 443.4h.01M748.8 443.2h.01M773.0 443.7h.01M774.7 443.7h.01M785.4 443.2h.01M692.1 444.2h.01M703.1 444.7h.01M709.4 444.7h.01M710.2 444.8h.01M714.5 444.3h.01M718.1 444.3h.01M728.4 444.2h.01M728.9 444.1h.01M734.7 444.2h.01M741.7 444.3h.01M746.3 444.5h.01M752.3 444.8h.01M754.7 445.0h.01M757.9 444.0h.01M758.6 444.6h.01M759.3 444.2h.01M764.5 444.0h.01M768.8 444.6h.01M771.1 444.5h.01M778.8 444.9h.01M694.6 445.6h.01M700.3 445.8h.01M705.2 446.0h.01M711.9 445.4h.01M713.3 446.0h.01M719.3 445.3h.01M722.6 445.6h.01M724.1 445.5h.01M729.2 445.3h.01M733.8 445.5h.01M742.4 445.9h.01M742.4 445.6h.01M745.2 445.7h.01M753.1 446.0h.01M753.1 445.5h.01M757.4 445.8h.01M761.3 445.3h.01M764.9 445.9h.01M769.7 445.3h.01M769.8 445.2h.01M773.6 445.4h.01M775.8 445.5h.01M779.2 445.7h.01M793.1 445.5h.01M795.4 445.1h.01M700.2 446.4h.01M705.0 446.1h.01M715.3 446.4h.01M718.2 446.2h.01M723.6 446.5h.01M728.9 446.1h.01M729.8 446.7h.01M734.4 446.2h.01M752.1 446.0h.01M756.2 446.6h.01M800.1 446.1h.01M695.6 448.0h.01M702.4 447.3h.01M710.3 447.0h.01M729.7 447.4h.01M735.7 447.8h.01M742.6 447.9h.01M747.4 447.4h.01M758.2 447.7h.01M761.9 447.1h.01M765.0 447.2h.01M768.9 447.2h.01M771.0 447.9h.01M775.3 447.5h.01M703.5 448.7h.01M704.7 448.7h.01M705.8 448.5h.01M725.3 448.5h.01M729.5 448.4h.01M738.2 448.2h.01M739.0 448.9h.01M743.4 448.7h.01M745.3 448.0h.01M763.1 449.0h.01M772.7 448.3h.01M689.7 449.2h.01M696.7 449.1h.01M705.4 449.1h.01M705.9 449.5h.01M724.2 449.9h.01M757.5 449.2h.01M757.4 449.2h.01M759.7 449.9h.01M775.2 449.7h.01M862.3 244.4h.01"/>
<g class="g">
<rect x="128.90" y="24.70" width="876.84" height="691.80" fill="none" stroke="#000" stroke-width="2"/>
<path d="M275.04 716.50v-9M275.04 24.70v9M421.18 716.50v-9M421.18 24.70v9M567.32 716.50v-9M567.32 24.70v9M713.46 716.50v-9M713.46 24.70v9M859.60 716.50v-9M859.60 24.70v9M128.90 111.17h9M1005.74 111.17h-9M128.90 197.65h9M1005.74 197.65h-9M128.90 284.12h9M1005.74 284.12h-9M128.90 370.60h9M1005.74 370.60h-9M128.90 457.07h9M1005.74 457.07h-9M128.90 543.55h9M1005.74 543.55h-9M128.90 630.02h9M1005.74 630.02h-9" stroke="#000" stroke-width="2" fill="none"/>
<g><text x="128.90" y="756" text-anchor="middle" font-family="Liberation Sans" font-size="36" fill="#000">-8</text><text x="275.04" y="756" text-anchor="middle" font-family="Liberation Sans" font-size="36" fill="#000">-6</text><text x="421.18" y="756" text-anchor="middle" font-family="Liberation Sans" font-size="36" fill="#000">-4</text><text x="567.32" y="756" text-anchor="middle" font-family="Liberation Sans" font-size="36" fill="#000">-2</text><text x="713.46" y="756" text-anchor="middle" font-family="Liberation Sans" font-size="36" fill="#000">0</text><text x="859.60" y="756" text-anchor="middle" font-family="Liberation Sans" font-size="36" fill="#000">2</text><text x="1005.74" y="756" text-anchor="middle" font-family="Liberation Sans" font-size="36" fill="#000">4</text><text x="117" y="35.50" text-anchor="end" font-family="Liberation Sans" font-size="36" fill="#000">1</text><rect x="98.23" y="31.90" width="7.79" height="4.90" fill="#fff"/><rect x="109.26" y="31.90" width="7.33" height="4.90" fill="#fff"/><text x="117" y="121.97" text-anchor="end" font-family="Liberation Sans" font-size="36" fill="#000">0.5</text><text x="117" y="208.45" text-anchor="end" font-family="Liberation Sans" font-size="36" fill="#000">0</text><text x="117" y="294.92" text-anchor="end" font-family="Liberation Sans" font-size="36" fill="#000">-0.5</text><text x="117" y="381.40" text-anchor="end" font-family="Liberation Sans" font-size="36" fill="#000">-1</text><rect x="98.23" y="377.80" width="7.79" height="4.90" fill="#fff"/><rect x="109.26" y="377.80" width="7.33" height="4.90" fill="#fff"/><text x="117" y="467.88" text-anchor="end" font-family="Liberation Sans" font-size="36" fill="#000">-1.5</text><rect x="68.20" y="464.28" width="7.79" height="4.90" fill="#fff"/><rect x="79.23" y="464.28" width="7.33" height="4.90" fill="#fff"/><text x="117" y="554.35" text-anchor="end" font-family="Liberation Sans" font-size="36" fill="#000">-2</text><text x="117" y="640.82" text-anchor="end" font-family="Liberation Sans" font-size="36" fill="#000">-2.5</text><text x="117" y="727.30" text-anchor="end" font-family="Liberation Sans" font-size="36" fill="#000">-3</text><text x="567" y="794.7" text-anchor="middle" font-family="Liberation Sans" font-size="39" fill="#000">log10(DNB) radiance</text><rect x="438.30" y="790.88" width="8.44" height="5.12" fill="#fff"/><rect x="450.26" y="790.88" width="7.94" height="5.12" fill="#fff"/><g transform="translate(42 370) rotate(-90)"><text x="0" y="0" text-anchor="middle" font-family="Liberation Sans" font-size="39" fill="#000">log10(SMI)</text><rect x="-41.97" y="-3.82" width="8.44" height="5.12" fill="#fff"/><rect x="-30.02" y="-3.82" width="7.94" height="5.12" fill="#fff"/></g></g>
<text x="445.5" y="131" font-family="Liberation Sans" font-size="31.5" fill="#000" textLength="237.5" lengthAdjust="spacingAndGlyphs">Spike Detections</text>
<text x="445.5" y="172.6" font-family="Liberation Sans" font-size="31.5" fill="#000" textLength="147.5" lengthAdjust="spacingAndGlyphs">QF1 = Red</text>
<text x="445.5" y="215.1" font-family="Liberation Sans" font-size="31.5" fill="#000" textLength="180.5" lengthAdjust="spacingAndGlyphs">QF2 = Green</text>
<text x="203.0" y="430.9" font-family="Liberation Sans" font-size="31.5" fill="#000" textLength="321" lengthAdjust="spacingAndGlyphs">SMI Threshold = 0.035</text>
<text x="514.8" y="648.5" font-family="Liberation Sans" font-size="31.5" fill="#fff" textLength="169.5" lengthAdjust="spacingAndGlyphs">Background</text>
</g>
</svg></body></html>
